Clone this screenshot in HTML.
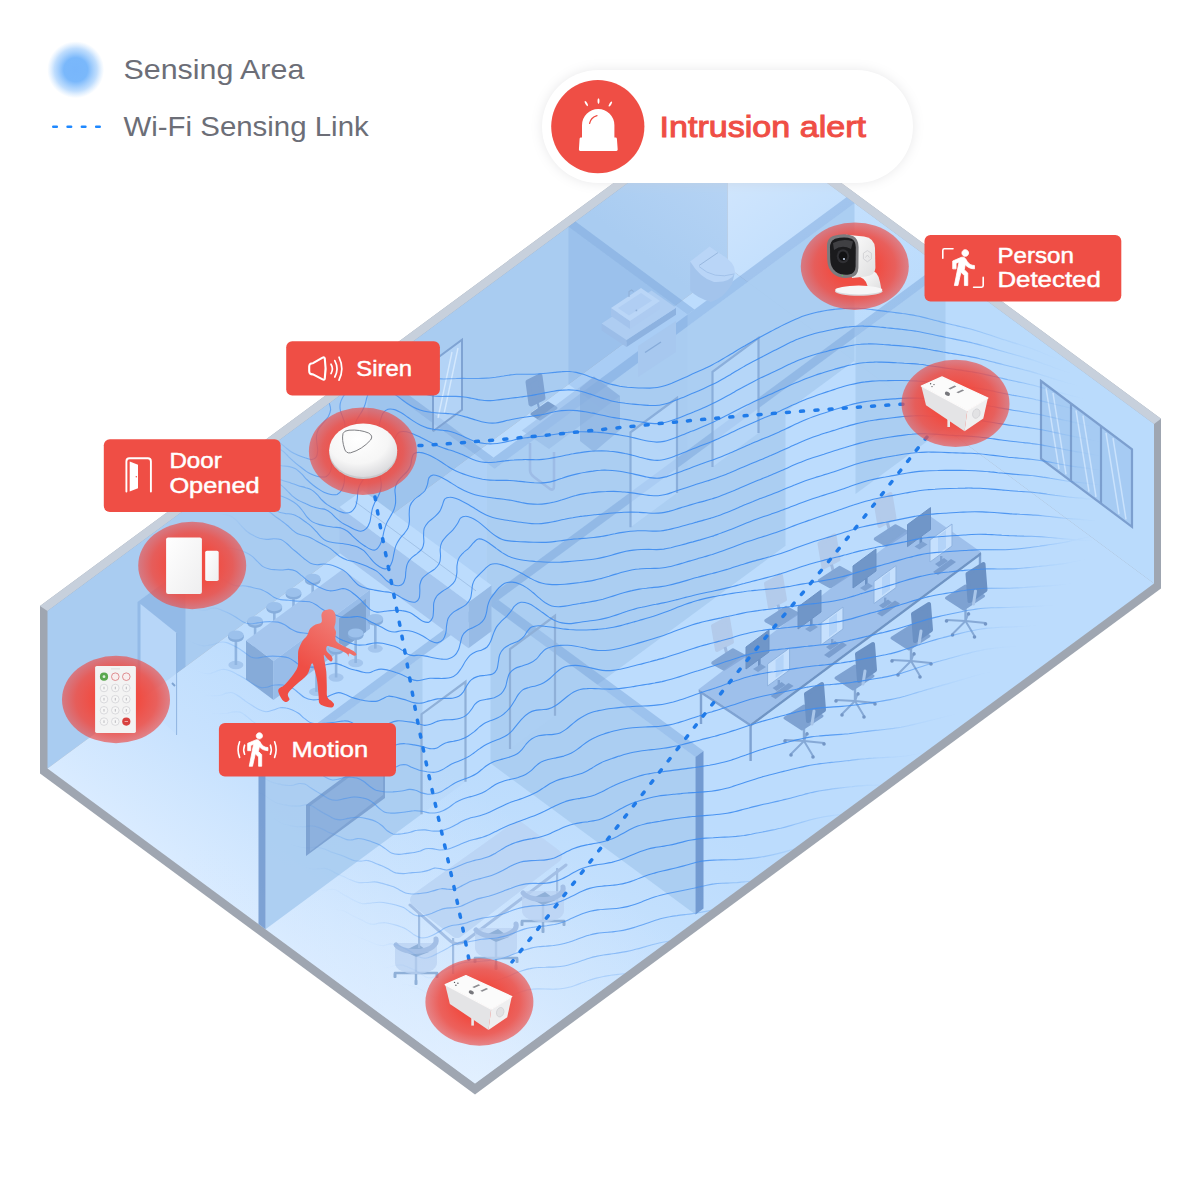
<!DOCTYPE html>
<html lang="en"><head><meta charset="utf-8"><title>Intrusion alert</title>
<style>html,body{margin:0;padding:0;background:#fff}svg{display:block}</style></head><body>
<svg width="1201" height="1201" viewBox="0 0 1201 1201">

<defs>
<radialGradient id="redg" cx="50%" cy="50%" r="50%">
<stop offset="0" stop-color="#f04d43" stop-opacity="1"/>
<stop offset="0.42" stop-color="#f04d43" stop-opacity="1"/>
<stop offset="0.75" stop-color="#ee4e46" stop-opacity="0.88"/>
<stop offset="1" stop-color="#eb504c" stop-opacity="0.66"/>
</radialGradient>
<radialGradient id="legg" cx="50%" cy="50%" r="50%">
<stop offset="0" stop-color="#78b6fb"/>
<stop offset="0.42" stop-color="#7ab8fb"/>
<stop offset="0.75" stop-color="#8cc2fc" stop-opacity="0.55"/>
<stop offset="1" stop-color="#a9d2fd" stop-opacity="0"/>
</radialGradient>
<radialGradient id="domeg" cx="42%" cy="30%" r="75%">
<stop offset="0" stop-color="#ffffff"/>
<stop offset="0.6" stop-color="#f6f6f6"/>
<stop offset="1" stop-color="#d6d6d9"/>
</radialGradient>
<linearGradient id="whiteg" x1="0" y1="0" x2="1" y2="1">
<stop offset="0" stop-color="#ffffff"/>
<stop offset="1" stop-color="#eeeeef"/>
</linearGradient>
<linearGradient id="camside" x1="0" y1="0" x2="1" y2="1">
<stop offset="0" stop-color="#ffffff"/>
<stop offset="1" stop-color="#dededf"/>
</linearGradient>
<linearGradient id="intr" x1="0.7" y1="0" x2="0.35" y2="0.6">
<stop offset="0" stop-color="#f0817b"/>
<stop offset="1" stop-color="#ef4e45"/>
</linearGradient>
<linearGradient id="wallL" gradientUnits="userSpaceOnUse" x1="727" y1="110" x2="560" y2="330">
<stop offset="0" stop-color="#bcd7f6"/><stop offset="0.6" stop-color="#a9ccf1"/><stop offset="1" stop-color="#a9ccf1"/>
</linearGradient>
<linearGradient id="wallR" gradientUnits="userSpaceOnUse" x1="735" y1="120" x2="900" y2="330">
<stop offset="0" stop-color="#d6e8fd"/><stop offset="0.55" stop-color="#c2dffd"/><stop offset="1" stop-color="#badbfc"/>
</linearGradient>
<linearGradient id="floorg" gradientUnits="userSpaceOnUse" x1="261" y1="926" x2="401.9" y2="734.9">
<stop offset="0" stop-color="#d9ebff"/>
<stop offset="0.45" stop-color="#c8e2fe"/>
<stop offset="1" stop-color="#bcdcfd"/>
</linearGradient>
<radialGradient id="floorg2" gradientUnits="userSpaceOnUse" cx="475" cy="1100" r="430" gradientTransform="translate(475 1100) scale(1 0.78) translate(-475 -1100)">
<stop offset="0" stop-color="#e6f2ff" stop-opacity="0.75"/>
<stop offset="0.5" stop-color="#dcecff" stop-opacity="0.38"/>
<stop offset="1" stop-color="#d0e6ff" stop-opacity="0"/>
</radialGradient>
<filter id="pillshadow" x="-20%" y="-40%" width="140%" height="180%">
<feGaussianBlur stdDeviation="6"/>
<feColorMatrix type="matrix" values="0 0 0 0 0.6  0 0 0 0 0.6  0 0 0 0 0.62  0 0 0 0.45 0"/>
</filter>
<clipPath id="inner"><polygon points="47.5,611 727.5,109.5 1154,424 1154,583.5 475,1083.6 47.5,768.5"/></clipPath>
<filter id="mblur" x="-10%" y="-10%" width="120%" height="120%"><feGaussianBlur stdDeviation="24"/></filter>
<mask id="wavemask" maskUnits="userSpaceOnUse" x="0" y="0" width="1201" height="1201">
<rect width="1201" height="1201" fill="#000"/>
<polygon points="300.0,395.0 440.0,368.0 700.0,300.0 800.0,278.0 890.0,292.0 970.0,335.0 1025.0,400.0 1055.0,470.0 1040.0,535.0 995.0,590.0 945.0,640.0 855.0,750.0 715.0,890.0 610.0,970.0 540.0,985.0 450.0,965.0 385.0,900.0 320.0,800.0 262.0,710.0 235.0,640.0 250.0,560.0 292.0,470.0" fill="#fff" filter="url(#mblur)"/>
<polygon points="225,690 400,750 520,880 640,960 600,1020 340,990 200,800" fill="#000" opacity="0.40" filter="url(#mblur)"/>
<polygon points="190,400 325,400 335,560 300,720 190,760" fill="#000" opacity="0.30" filter="url(#mblur)"/>
</mask>
</defs>

<rect width="1201" height="1201" fill="#fff"/>
<g id="building"><polygon points="40.0,606.0 727.5,99.0 1161.0,418.7 1161.0,588.5 475.0,1094.4 40.0,773.5" fill="#9fa6b1" />
<polygon points="40.0,606.0 727.5,99.0 1161.0,418.7 1154.0,424.0 727.5,109.5 47.5,611.0" fill="#c7d0dc" />
<polygon points="47.5,611.0 727.5,109.5 727.5,267.0 47.5,768.5" fill="url(#wallL)" />
<polygon points="727.5,109.5 1154.0,424.0 1154.0,583.5 727.5,267.0" fill="url(#wallR)" />
<polygon points="47.5,768.5 727.5,267.0 1154.0,583.5 475.0,1083.6" fill="url(#floorg)" />
<polygon points="47.5,768.5 727.5,267.0 1154.0,583.5 475.0,1083.6" fill="url(#floorg2)" /></g>
<g id="partitions"><polygon points="568.5,384.3 687.5,472.0 687.5,314.5 568.5,226.8" fill="rgba(105,155,218,0.22)" />
<polygon points="367.5,532.5 486.5,620.3 486.5,462.8 367.5,375.0" fill="rgba(105,155,218,0.16)" />
<path d="M486.5,474.6 L854.5,203.2 L854.5,360.7 L486.5,632.1Z M486.5,462.8 L494.5,468.7 L494.5,626.2 L486.5,620.3Z M265.5,771.8 L422.5,656.0 L422.5,813.5 L265.5,929.3Z M490.5,605.8 L785.5,388.3 L785.5,545.8 L490.5,763.3Z M855.5,336.6 L945.5,270.3 L945.5,427.8 L855.5,494.1Z M490.5,605.8 L695.5,757.0 L695.5,914.5 L490.5,763.3Z " fill="#a9ccf1" fill-rule="nonzero" opacity="0.90"/>
<polygon points="568.5,226.8 687.5,314.5 694.5,309.4 575.5,221.6" fill="rgba(112,158,215,0.42)" />
<polygon points="367.5,375.0 486.5,462.8 493.5,457.6 374.5,369.8" fill="rgba(112,158,215,0.42)" />
<polygon points="486.5,462.8 846.5,197.3 854.5,203.2 494.5,468.7" fill="rgba(112,158,215,0.42)" />
<polygon points="258.5,766.6 938.5,265.1 945.5,270.3 265.5,771.8" fill="rgba(112,158,215,0.42)" />
<polygon points="490.5,605.8 695.5,757.0 703.5,751.1 498.5,599.9" fill="rgba(112,158,215,0.42)" />
<polygon points="695.5,914.5 703.5,908.6 703.5,751.1 695.5,757.0" fill="rgba(95,138,198,0.80)" />
<polygon points="258.5,924.1 265.5,929.3 265.5,771.8 258.5,766.6" fill="rgba(95,138,198,0.75)" /></g>
<g id="bathroom"><polygon points="638.0,346.0 676.0,321.0 676.0,352.0 638.0,377.0" fill="#a7c8ef" />
<line x1="645" y1="352.5" x2="661" y2="342" stroke="#86abd9" stroke-width="1.4"/>
<polygon points="601.7,323.4 626.5,340.0 626.5,347.0 601.7,330.4" fill="#9bbde8" />
<polygon points="626.5,340.0 676.0,307.7 676.0,314.7 626.5,347.0" fill="#8db2e0" />
<polygon points="601.7,323.4 651.5,290.4 676.0,307.7 626.5,340.0" fill="#aecdf2" />
<polygon points="611.0,308.0 630.0,321.0 630.0,329.0 611.0,316.0" fill="#a3c3ec" />
<polygon points="630.0,321.0 660.0,301.0 660.0,309.0 630.0,329.0" fill="#adcbf1" />
<polygon points="611.0,308.0 641.0,288.0 660.0,301.0 630.0,321.0" fill="#bad6f7" />
<polygon points="618.0,308.0 641.0,293.0 652.0,300.5 629.0,315.5" fill="#b0cef3" />
<circle cx="636.4" cy="310.4" r="0.9" fill="#8fb0d8"/>
<path d="M629,297 V291.6 L631.6,290 L633.6,291.6" fill="none" stroke="#8fb0d8" stroke-width="1.1"/>
<path d="M690.2,262 V290.5 Q697,298 711,302 Q724,298 732,284 L735,272 L700,270 Z" fill="#a3c4ec"/>
<path d="M690.2,261.5 L709.6,246.5 L718,252.5 Q736,262 735,273 Q730,283 714,282 Q700,278 690.2,261.5 Z" fill="#b9d5f7"/>
<path d="M699,266.5 Q714,280 734,274" fill="none" stroke="#9cbde6" stroke-width="0.8"/>
<line x1="699.2" y1="265.4" x2="718" y2="252.6" stroke="#8fb0d8" stroke-width="0.8"/></g>
<g id="doors"><polygon points="137.5,702.1 137.5,602.1 185.5,566.7 185.5,666.7" fill="rgba(120,165,220,0.45)" />
<polygon points="140.5,699.9 140.5,603.9 176.6,633.0 176.6,735.0" fill="rgba(195,223,254,0.75)" />
<line x1="176.6" y1="633" x2="176.6" y2="735" stroke="#8fb4e0" stroke-width="1"/>
<line x1="172" y1="683" x2="175" y2="686" stroke="#7fa4d2" stroke-width="2"/>
<polygon points="433.0,431.2 433.0,361.2 462.0,339.8 462.0,409.8" fill="rgba(190,220,253,0.45)" />
<polyline points="433.0,431.2 433.0,361.2 462.0,339.8 462.0,409.8 433.0,431.2" fill="none" stroke="#7fa3d3" stroke-width="2" />
<line x1="438" y1="418" x2="452" y2="352" stroke="rgba(220,238,255,0.8)" stroke-width="1.4"/>
<line x1="444" y1="414" x2="458" y2="348" stroke="rgba(220,238,255,0.8)" stroke-width="1.4"/>
<polygon points="1041.0,381.0 1132.0,449.4 1132.0,526.8 1041.0,458.6" fill="rgba(150,190,235,0.55)" />
<polygon points="1041.0,381.0 1132.0,449.4 1132.0,526.8 1041.0,458.6" fill="none" stroke="#7c9fcf" stroke-width="2.2"/>
<line x1="1071.0" y1="403.5" x2="1071.0" y2="481.1" stroke="#7c9fcf" stroke-width="2.2"/>
<line x1="1101.0" y1="426.1" x2="1101.0" y2="503.6" stroke="#7c9fcf" stroke-width="2.2"/>
<line x1="1046.0" y1="387.8" x2="1059.0" y2="469.1" stroke="rgba(214,234,255,0.75)" stroke-width="1.5"/>
<line x1="1053.0" y1="393.0" x2="1066.0" y2="474.3" stroke="rgba(214,234,255,0.75)" stroke-width="1.5"/>
<line x1="1076.0" y1="410.3" x2="1089.0" y2="491.6" stroke="rgba(214,234,255,0.75)" stroke-width="1.5"/>
<line x1="1083.0" y1="415.6" x2="1096.0" y2="496.8" stroke="rgba(214,234,255,0.75)" stroke-width="1.5"/>
<line x1="1106.0" y1="432.9" x2="1119.0" y2="514.1" stroke="rgba(214,234,255,0.75)" stroke-width="1.5"/>
<line x1="1113.0" y1="438.1" x2="1126.0" y2="519.3" stroke="rgba(214,234,255,0.75)" stroke-width="1.5"/>
<polygon points="712.5,466.9 712.5,371.9 758.5,337.9 758.5,432.9" fill="rgba(190,220,253,0.55)" />
<polyline points="712.5,466.9 712.5,371.9 758.5,337.9 758.5,432.9" fill="none" stroke="#8aaedb" stroke-width="2.2" stroke-linejoin="miter"/>
<polygon points="630.5,527.3 630.5,432.3 677.0,398.0 677.0,493.0" fill="rgba(190,220,253,0.55)" />
<polyline points="630.5,527.3 630.5,432.3 677.0,398.0 677.0,493.0" fill="none" stroke="#8aaedb" stroke-width="2.2" stroke-linejoin="miter"/>
<polygon points="510.0,749.0 510.0,649.0 555.0,615.8 555.0,715.8" fill="rgba(175,208,245,0.30)" />
<polyline points="510.0,749.0 510.0,649.0 555.0,615.8 555.0,715.8" fill="none" stroke="#8fb0d8" stroke-width="2.2" stroke-linejoin="miter"/>
<polygon points="421.5,814.2 421.5,714.2 465.5,681.8 465.5,781.8" fill="rgba(175,208,245,0.25)" />
<polyline points="421.5,814.2 421.5,714.2 465.5,681.8 465.5,781.8" fill="none" stroke="#8fb0d8" stroke-width="2.2" stroke-linejoin="miter"/></g>
<g id="lowcounter"><polygon points="339.5,553.1 468.5,648.3 468.5,602.3 339.5,507.1" fill="#a4c6ef" />
<polygon points="468.5,648.3 491.5,631.3 491.5,585.3 468.5,602.3" fill="#97bbe6" />
<polygon points="339.5,507.1 362.5,490.2 491.5,585.3 468.5,602.3" fill="#bcdcfd" />
<line x1="355.0" y1="501.6" x2="476.0" y2="590.9" stroke="#8fb0d8" stroke-width="0.6"/></g>
<g id="bar"><ellipse cx="235.9" cy="665.0" rx="7.5" ry="4.2" fill="#a4c6ee"/>
<rect x="234.6" y="635.0" width="2.6" height="30.0" fill="#8fb4e0"/>
<ellipse cx="235.9" cy="637.5" rx="7.8" ry="4.6" fill="#86addc"/>
<rect x="228.1" y="635.0" width="15.6" height="2.5" fill="#86addc"/>
<ellipse cx="235.9" cy="635.0" rx="7.8" ry="4.6" fill="#9cc1ec"/>
<ellipse cx="255.1" cy="650.8" rx="7.5" ry="4.2" fill="#a4c6ee"/>
<rect x="253.8" y="620.8" width="2.6" height="30.0" fill="#8fb4e0"/>
<ellipse cx="255.1" cy="623.3" rx="7.8" ry="4.6" fill="#86addc"/>
<rect x="247.3" y="620.8" width="15.6" height="2.5" fill="#86addc"/>
<ellipse cx="255.1" cy="620.8" rx="7.8" ry="4.6" fill="#9cc1ec"/>
<ellipse cx="274.3" cy="636.6" rx="7.5" ry="4.2" fill="#a4c6ee"/>
<rect x="273.0" y="606.6" width="2.6" height="30.0" fill="#8fb4e0"/>
<ellipse cx="274.3" cy="609.1" rx="7.8" ry="4.6" fill="#86addc"/>
<rect x="266.5" y="606.6" width="15.6" height="2.5" fill="#86addc"/>
<ellipse cx="274.3" cy="606.6" rx="7.8" ry="4.6" fill="#9cc1ec"/>
<ellipse cx="293.5" cy="622.5" rx="7.5" ry="4.2" fill="#a4c6ee"/>
<rect x="292.2" y="592.5" width="2.6" height="30.0" fill="#8fb4e0"/>
<ellipse cx="293.5" cy="595.0" rx="7.8" ry="4.6" fill="#86addc"/>
<rect x="285.7" y="592.5" width="15.6" height="2.5" fill="#86addc"/>
<ellipse cx="293.5" cy="592.5" rx="7.8" ry="4.6" fill="#9cc1ec"/>
<ellipse cx="312.7" cy="608.3" rx="7.5" ry="4.2" fill="#a4c6ee"/>
<rect x="311.4" y="578.3" width="2.6" height="30.0" fill="#8fb4e0"/>
<ellipse cx="312.7" cy="580.8" rx="7.8" ry="4.6" fill="#86addc"/>
<rect x="304.9" y="578.3" width="15.6" height="2.5" fill="#86addc"/>
<ellipse cx="312.7" cy="578.3" rx="7.8" ry="4.6" fill="#9cc1ec"/>
<polygon points="246.0,679.6 273.5,699.9 273.5,660.9 246.0,640.6" fill="#86abd9" />
<polygon points="273.5,699.9 370.0,628.7 370.0,589.7 273.5,660.9" fill="#98bce8" />
<polygon points="246.0,640.6 342.5,569.5 370.0,589.7 273.5,660.9" fill="#a5c6ee" />
<polygon points="339.0,651.6 366.0,631.7 366.0,598.7 339.0,618.6" fill="#7fa4d2" />
<ellipse cx="316.5" cy="691.9" rx="7.5" ry="4.2" fill="#a4c6ee"/>
<rect x="315.2" y="661.9" width="2.6" height="30.0" fill="#8fb4e0"/>
<ellipse cx="316.5" cy="664.4" rx="7.8" ry="4.6" fill="#86addc"/>
<rect x="308.7" y="661.9" width="15.6" height="2.5" fill="#86addc"/>
<ellipse cx="316.5" cy="661.9" rx="7.8" ry="4.6" fill="#9cc1ec"/>
<ellipse cx="336.1" cy="677.5" rx="7.5" ry="4.2" fill="#a4c6ee"/>
<rect x="334.8" y="647.5" width="2.6" height="30.0" fill="#8fb4e0"/>
<ellipse cx="336.1" cy="650.0" rx="7.8" ry="4.6" fill="#86addc"/>
<rect x="328.3" y="647.5" width="15.6" height="2.5" fill="#86addc"/>
<ellipse cx="336.1" cy="647.5" rx="7.8" ry="4.6" fill="#9cc1ec"/>
<ellipse cx="355.7" cy="663.0" rx="7.5" ry="4.2" fill="#a4c6ee"/>
<rect x="354.4" y="633.0" width="2.6" height="30.0" fill="#8fb4e0"/>
<ellipse cx="355.7" cy="635.5" rx="7.8" ry="4.6" fill="#86addc"/>
<rect x="347.9" y="633.0" width="15.6" height="2.5" fill="#86addc"/>
<ellipse cx="355.7" cy="633.0" rx="7.8" ry="4.6" fill="#9cc1ec"/>
<ellipse cx="375.3" cy="648.6" rx="7.5" ry="4.2" fill="#a4c6ee"/>
<rect x="374.0" y="618.6" width="2.6" height="30.0" fill="#8fb4e0"/>
<ellipse cx="375.3" cy="621.1" rx="7.8" ry="4.6" fill="#86addc"/>
<rect x="367.5" y="618.6" width="15.6" height="2.5" fill="#86addc"/>
<ellipse cx="375.3" cy="618.6" rx="7.8" ry="4.6" fill="#9cc1ec"/></g>
<g id="reception"><polygon points="528.0,382.0 540.0,376.0 543.0,398.0 531.0,404.0" fill="#7ea2d2" stroke="#7ea2d2" stroke-width="5" stroke-linejoin="round"/>
<line x1="537" y1="400" x2="540" y2="412" stroke="#7ea2d2" stroke-width="2"/>
<polygon points="532.0,414.0 548.0,403.0 556.0,408.0 540.0,419.0" fill="#7b9fce" stroke="#7b9fce" stroke-width="3" stroke-linejoin="round"/>
<polygon points="521.8,430.6 594.0,376.5 620.0,396.0 549.0,449.0" fill="rgba(150,185,230,0.55)" />
<polygon points="594.0,376.5 620.0,396.0 620.0,430.0 594.0,452.0 580.0,441.0 580.0,388.0" fill="rgba(125,165,215,0.45)" />
<path d="M530,443 V470 Q530,474 534,477 L550,489 Q554,491 554,486 V452" fill="none" stroke="#9dbce6" stroke-width="2.6"/></g>
<g id="tv"><polygon points="306.0,805.0 385.0,746.8 385.0,798.0 306.0,856.0" fill="#7ea3d3" /><polygon points="310.0,806.0 383.0,752.5 383.0,795.0 310.0,851.5" fill="#8db1de" /></g>
<g id="conference"><line x1="416.0" y1="957.0" x2="416.0" y2="981.0" stroke="#8fb0d8" stroke-width="2.4"/>
<line x1="395.0" y1="973.0" x2="437.0" y2="973.0" stroke="#8fb0d8" stroke-width="2.6" stroke-linecap="round"/>
<rect x="393.5" y="973.0" width="3" height="5" rx="1" fill="#8fb0d8"/>
<rect x="435.5" y="973.0" width="3" height="5" rx="1" fill="#8fb0d8"/>
<rect x="414.5" y="980.0" width="3" height="5" rx="1" fill="#8fb0d8"/>
<path d="M395.0,943.0 v20 a21,11 0 0 0 42,0 v-20 z" fill="rgba(186,210,242,0.75)"/>
<polygon points="404.0,951.0 418.0,944.0 429.0,952.0 416.0,957.0" fill="#8fb0d8" />
<path d="M396.0,945.0 a21,11 0 0 0 40,-6" fill="none" stroke="#a3bfe6" stroke-width="5" stroke-linecap="round"/>
<rect x="418.0" y="912.0" width="2.2" height="36" fill="#9fbde3"/>
<rect x="452.0" y="938.0" width="2.2" height="36" fill="#9fbde3"/>
<rect x="556.0" y="868.0" width="2.2" height="36" fill="#9fbde3"/>
<polygon points="417.0,900.0 518.0,828.0 555.0,856.0 457.0,931.0" fill="#bbd5f5" stroke="#bbd5f5" stroke-width="14" opacity="0.92" stroke-linejoin="round"/>
<path d="M410,905 L451,941.5 Q458,946.5 466,940.5 L566,865" fill="none" stroke="#a3bfe5" stroke-width="3" stroke-linecap="round"/>
<line x1="496.0" y1="942.0" x2="496.0" y2="966.0" stroke="#8fb0d8" stroke-width="2.4"/>
<line x1="475.0" y1="958.0" x2="517.0" y2="958.0" stroke="#8fb0d8" stroke-width="2.6" stroke-linecap="round"/>
<rect x="473.5" y="958.0" width="3" height="5" rx="1" fill="#8fb0d8"/>
<rect x="515.5" y="958.0" width="3" height="5" rx="1" fill="#8fb0d8"/>
<rect x="494.5" y="965.0" width="3" height="5" rx="1" fill="#8fb0d8"/>
<path d="M475.0,928.0 v20 a21,11 0 0 0 42,0 v-20 z" fill="rgba(186,210,242,0.75)"/>
<polygon points="484.0,936.0 498.0,929.0 509.0,937.0 496.0,942.0" fill="#8fb0d8" />
<path d="M476.0,930.0 a21,11 0 0 0 40,-6" fill="none" stroke="#a3bfe6" stroke-width="5" stroke-linecap="round"/>
<line x1="543.0" y1="905.0" x2="543.0" y2="929.0" stroke="#8fb0d8" stroke-width="2.4"/>
<line x1="522.0" y1="921.0" x2="564.0" y2="921.0" stroke="#8fb0d8" stroke-width="2.6" stroke-linecap="round"/>
<rect x="520.5" y="921.0" width="3" height="5" rx="1" fill="#8fb0d8"/>
<rect x="562.5" y="921.0" width="3" height="5" rx="1" fill="#8fb0d8"/>
<rect x="541.5" y="928.0" width="3" height="5" rx="1" fill="#8fb0d8"/>
<path d="M522.0,891.0 v20 a21,11 0 0 0 42,0 v-20 z" fill="rgba(186,210,242,0.75)"/>
<polygon points="531.0,899.0 545.0,892.0 556.0,900.0 543.0,905.0" fill="#8fb0d8" />
<path d="M523.0,893.0 a21,11 0 0 0 40,-6" fill="none" stroke="#a3bfe6" stroke-width="5" stroke-linecap="round"/></g>
<g id="office"><polygon points="713.0,626.0 728.0,618.0 732.0,642.0 717.0,650.0" fill="#b3cbeb" stroke="#b3cbeb" stroke-width="4" stroke-linejoin="round"/>
<line x1="725.0" y1="647.0" x2="728.0" y2="658.0" stroke="#9db9e0" stroke-width="3"/>
<polygon points="713.0,663.0 733.0,650.0 744.0,656.0 724.0,669.0" fill="#82a6d5" stroke="#82a6d5" stroke-width="3.5" stroke-linejoin="round"/>
<polygon points="766.0,583.6 781.0,575.6 785.0,599.6 770.0,607.6" fill="#b3cbeb" stroke="#b3cbeb" stroke-width="4" stroke-linejoin="round"/>
<line x1="778.0" y1="604.6" x2="781.0" y2="615.6" stroke="#9db9e0" stroke-width="3"/>
<polygon points="766.0,620.6 786.0,607.6 797.0,613.6 777.0,626.6" fill="#82a6d5" stroke="#82a6d5" stroke-width="3.5" stroke-linejoin="round"/>
<polygon points="819.5,543.6 834.5,535.6 838.5,559.6 823.5,567.6" fill="#b3cbeb" stroke="#b3cbeb" stroke-width="4" stroke-linejoin="round"/>
<line x1="831.5" y1="564.6" x2="834.5" y2="575.6" stroke="#9db9e0" stroke-width="3"/>
<polygon points="819.5,580.6 839.5,567.6 850.5,573.6 830.5,586.6" fill="#82a6d5" stroke="#82a6d5" stroke-width="3.5" stroke-linejoin="round"/>
<polygon points="875.5,502.0 890.5,494.0 894.5,518.0 879.5,526.0" fill="#b3cbeb" stroke="#b3cbeb" stroke-width="4" stroke-linejoin="round"/>
<line x1="887.5" y1="523.0" x2="890.5" y2="534.0" stroke="#9db9e0" stroke-width="3"/>
<polygon points="875.5,539.0 895.5,526.0 906.5,532.0 886.5,545.0" fill="#82a6d5" stroke="#82a6d5" stroke-width="3.5" stroke-linejoin="round"/>
<rect x="699.8" y="691.0" width="2.4" height="33" fill="#7ea2d2"/>
<rect x="749.4" y="725.0" width="2.4" height="36" fill="#7ea2d2"/>
<rect x="978.8" y="553.0" width="2.4" height="30" fill="#7ea2d2"/>
<polygon points="698.7,689.2 927.8,514.6 981.0,552.0 750.6,723.8" fill="rgba(140,175,225,0.62)" />
<polygon points="750.6,723.8 981.0,552.0 981.0,555.0 750.6,726.8" fill="#6f94c4" />
<polygon points="698.7,689.2 750.6,723.8 750.6,726.8 698.7,692.2" fill="#7fa3d3" />
<polygon points="746.0,647.0 769.0,630.0 769.0,652.0 746.0,669.0" fill="#7096c8" stroke="#6b91c4" stroke-width="1"/>
<rect x="758.0" y="659.0" width="2.6" height="9" fill="#6b91c4"/>
<polygon points="753.0,669.0 761.0,664.0 766.0,667.0 758.0,672.0" fill="#7ea2d2" />
<polygon points="798.0,607.0 821.0,590.0 821.0,612.0 798.0,629.0" fill="#7096c8" stroke="#6b91c4" stroke-width="1"/>
<rect x="810.0" y="619.0" width="2.6" height="9" fill="#6b91c4"/>
<polygon points="805.0,629.0 813.0,624.0 818.0,627.0 810.0,632.0" fill="#7ea2d2" />
<polygon points="853.0,566.0 876.0,549.0 876.0,571.0 853.0,588.0" fill="#7096c8" stroke="#6b91c4" stroke-width="1"/>
<rect x="865.0" y="578.0" width="2.6" height="9" fill="#6b91c4"/>
<polygon points="860.0,588.0 868.0,583.0 873.0,586.0 865.0,591.0" fill="#7ea2d2" />
<polygon points="907.5,524.6 930.5,507.6 930.5,529.6 907.5,546.6" fill="#7096c8" stroke="#6b91c4" stroke-width="1"/>
<rect x="919.5" y="536.6" width="2.6" height="9" fill="#6b91c4"/>
<polygon points="914.5,546.6 922.5,541.6 927.5,544.6 919.5,549.6" fill="#7ea2d2" />
<polygon points="767.6,664.0 789.6,648.0 789.6,670.0 767.6,686.0" fill="#c6e0fd" stroke="#8fb3e0" stroke-width="1"/>
<polygon points="775.6,660.0 783.6,654.0 783.6,672.0 775.6,678.0" fill="#b3d3f8" />
<rect x="777.6" y="680.0" width="2.4" height="6" fill="#7ea2d2"/>
<polygon points="772.6,688.0 781.6,682.0 785.6,685.0 776.6,691.0" fill="#7a9ecf" />
<polygon points="770.6,696.0 788.6,683.0 793.6,686.0 775.6,699.0" fill="#7a9ecf" />
<polygon points="821.0,623.0 843.0,607.0 843.0,629.0 821.0,645.0" fill="#c6e0fd" stroke="#8fb3e0" stroke-width="1"/>
<polygon points="829.0,619.0 837.0,613.0 837.0,631.0 829.0,637.0" fill="#b3d3f8" />
<rect x="831.0" y="639.0" width="2.4" height="6" fill="#7ea2d2"/>
<polygon points="826.0,647.0 835.0,641.0 839.0,644.0 830.0,650.0" fill="#7a9ecf" />
<polygon points="824.0,655.0 842.0,642.0 847.0,645.0 829.0,658.0" fill="#7a9ecf" />
<polygon points="874.0,581.6 896.0,565.6 896.0,587.6 874.0,603.6" fill="#c6e0fd" stroke="#8fb3e0" stroke-width="1"/>
<polygon points="882.0,577.6 890.0,571.6 890.0,589.6 882.0,595.6" fill="#b3d3f8" />
<rect x="884.0" y="597.6" width="2.4" height="6" fill="#7ea2d2"/>
<polygon points="879.0,605.6 888.0,599.6 892.0,602.6 883.0,608.6" fill="#7a9ecf" />
<polygon points="877.0,613.6 895.0,600.6 900.0,603.6 882.0,616.6" fill="#7a9ecf" />
<polygon points="930.0,540.0 952.0,524.0 952.0,546.0 930.0,562.0" fill="#c6e0fd" stroke="#8fb3e0" stroke-width="1"/>
<polygon points="938.0,536.0 946.0,530.0 946.0,548.0 938.0,554.0" fill="#b3d3f8" />
<rect x="940.0" y="556.0" width="2.4" height="6" fill="#7ea2d2"/>
<polygon points="935.0,564.0 944.0,558.0 948.0,561.0 939.0,567.0" fill="#7a9ecf" />
<polygon points="933.0,572.0 951.0,559.0 956.0,562.0 938.0,575.0" fill="#7a9ecf" />
<line x1="804.0" y1="741.0" x2="785.0" y2="740.0" stroke="#86a9d6" stroke-width="2" stroke-linecap="round"/>
<circle cx="785.0" cy="741.0" r="1.8" fill="#7396c6"/>
<line x1="804.0" y1="741.0" x2="791.0" y2="754.0" stroke="#86a9d6" stroke-width="2" stroke-linecap="round"/>
<circle cx="791.0" cy="755.0" r="1.8" fill="#7396c6"/>
<line x1="804.0" y1="741.0" x2="813.0" y2="756.0" stroke="#86a9d6" stroke-width="2" stroke-linecap="round"/>
<circle cx="813.0" cy="757.0" r="1.8" fill="#7396c6"/>
<line x1="804.0" y1="741.0" x2="824.0" y2="743.0" stroke="#86a9d6" stroke-width="2" stroke-linecap="round"/>
<circle cx="824.0" cy="744.0" r="1.8" fill="#7396c6"/>
<line x1="804.0" y1="741.0" x2="807.0" y2="733.0" stroke="#86a9d6" stroke-width="2" stroke-linecap="round"/>
<circle cx="807.0" cy="734.0" r="1.8" fill="#7396c6"/>
<line x1="804.0" y1="741.0" x2="804.0" y2="725.0" stroke="#86a9d6" stroke-width="2.4"/>
<polygon points="785.0,718.0 804.0,706.0 822.0,716.0 802.0,729.0" fill="#7ea2d2" stroke="#7ea2d2" stroke-width="3" stroke-linejoin="round"/>
<polygon points="806.0,694.0 822.0,684.0 824.0,710.0 808.0,721.0" fill="#6b91c4" stroke="#6b91c4" stroke-width="4" stroke-linejoin="round"/>
<line x1="814.0" y1="711.0" x2="812.0" y2="724.0" stroke="#a9c6ea" stroke-width="3" stroke-linecap="round"/>
<line x1="855.0" y1="701.0" x2="836.0" y2="700.0" stroke="#86a9d6" stroke-width="2" stroke-linecap="round"/>
<circle cx="836.0" cy="701.0" r="1.8" fill="#7396c6"/>
<line x1="855.0" y1="701.0" x2="842.0" y2="714.0" stroke="#86a9d6" stroke-width="2" stroke-linecap="round"/>
<circle cx="842.0" cy="715.0" r="1.8" fill="#7396c6"/>
<line x1="855.0" y1="701.0" x2="864.0" y2="716.0" stroke="#86a9d6" stroke-width="2" stroke-linecap="round"/>
<circle cx="864.0" cy="717.0" r="1.8" fill="#7396c6"/>
<line x1="855.0" y1="701.0" x2="875.0" y2="703.0" stroke="#86a9d6" stroke-width="2" stroke-linecap="round"/>
<circle cx="875.0" cy="704.0" r="1.8" fill="#7396c6"/>
<line x1="855.0" y1="701.0" x2="858.0" y2="693.0" stroke="#86a9d6" stroke-width="2" stroke-linecap="round"/>
<circle cx="858.0" cy="694.0" r="1.8" fill="#7396c6"/>
<line x1="855.0" y1="701.0" x2="855.0" y2="685.0" stroke="#86a9d6" stroke-width="2.4"/>
<polygon points="836.0,678.0 855.0,666.0 873.0,676.0 853.0,689.0" fill="#7ea2d2" stroke="#7ea2d2" stroke-width="3" stroke-linejoin="round"/>
<polygon points="857.0,654.0 873.0,644.0 875.0,670.0 859.0,681.0" fill="#6b91c4" stroke="#6b91c4" stroke-width="4" stroke-linejoin="round"/>
<line x1="865.0" y1="671.0" x2="863.0" y2="684.0" stroke="#a9c6ea" stroke-width="3" stroke-linecap="round"/>
<line x1="911.0" y1="661.0" x2="892.0" y2="660.0" stroke="#86a9d6" stroke-width="2" stroke-linecap="round"/>
<circle cx="892.0" cy="661.0" r="1.8" fill="#7396c6"/>
<line x1="911.0" y1="661.0" x2="898.0" y2="674.0" stroke="#86a9d6" stroke-width="2" stroke-linecap="round"/>
<circle cx="898.0" cy="675.0" r="1.8" fill="#7396c6"/>
<line x1="911.0" y1="661.0" x2="920.0" y2="676.0" stroke="#86a9d6" stroke-width="2" stroke-linecap="round"/>
<circle cx="920.0" cy="677.0" r="1.8" fill="#7396c6"/>
<line x1="911.0" y1="661.0" x2="931.0" y2="663.0" stroke="#86a9d6" stroke-width="2" stroke-linecap="round"/>
<circle cx="931.0" cy="664.0" r="1.8" fill="#7396c6"/>
<line x1="911.0" y1="661.0" x2="914.0" y2="653.0" stroke="#86a9d6" stroke-width="2" stroke-linecap="round"/>
<circle cx="914.0" cy="654.0" r="1.8" fill="#7396c6"/>
<line x1="911.0" y1="661.0" x2="911.0" y2="645.0" stroke="#86a9d6" stroke-width="2.4"/>
<polygon points="892.0,638.0 911.0,626.0 929.0,636.0 909.0,649.0" fill="#7ea2d2" stroke="#7ea2d2" stroke-width="3" stroke-linejoin="round"/>
<polygon points="913.0,614.0 929.0,604.0 931.0,630.0 915.0,641.0" fill="#6b91c4" stroke="#6b91c4" stroke-width="4" stroke-linejoin="round"/>
<line x1="921.0" y1="631.0" x2="919.0" y2="644.0" stroke="#a9c6ea" stroke-width="3" stroke-linecap="round"/>
<line x1="965.5" y1="621.0" x2="946.5" y2="620.0" stroke="#86a9d6" stroke-width="2" stroke-linecap="round"/>
<circle cx="946.5" cy="621.0" r="1.8" fill="#7396c6"/>
<line x1="965.5" y1="621.0" x2="952.5" y2="634.0" stroke="#86a9d6" stroke-width="2" stroke-linecap="round"/>
<circle cx="952.5" cy="635.0" r="1.8" fill="#7396c6"/>
<line x1="965.5" y1="621.0" x2="974.5" y2="636.0" stroke="#86a9d6" stroke-width="2" stroke-linecap="round"/>
<circle cx="974.5" cy="637.0" r="1.8" fill="#7396c6"/>
<line x1="965.5" y1="621.0" x2="985.5" y2="623.0" stroke="#86a9d6" stroke-width="2" stroke-linecap="round"/>
<circle cx="985.5" cy="624.0" r="1.8" fill="#7396c6"/>
<line x1="965.5" y1="621.0" x2="968.5" y2="613.0" stroke="#86a9d6" stroke-width="2" stroke-linecap="round"/>
<circle cx="968.5" cy="614.0" r="1.8" fill="#7396c6"/>
<line x1="965.5" y1="621.0" x2="965.5" y2="605.0" stroke="#86a9d6" stroke-width="2.4"/>
<polygon points="946.5,598.0 965.5,586.0 983.5,596.0 963.5,609.0" fill="#7ea2d2" stroke="#7ea2d2" stroke-width="3" stroke-linejoin="round"/>
<polygon points="967.5,574.0 983.5,564.0 985.5,590.0 969.5,601.0" fill="#6b91c4" stroke="#6b91c4" stroke-width="4" stroke-linejoin="round"/>
<line x1="975.5" y1="591.0" x2="973.5" y2="604.0" stroke="#a9c6ea" stroke-width="3" stroke-linecap="round"/></g>
<g id="waves"><g clip-path="url(#inner)"><g mask="url(#wavemask)" fill="none" stroke="#3f8df0" stroke-width="1.1" stroke-linecap="round" opacity="0.92">
<path d="M151.7,368.0C152.5,368.4 154.5,369.4 156.2,370.3C158.0,371.2 160.2,372.2 162.2,373.5C164.2,374.8 166.2,376.2 168.1,378.0C170.0,379.7 171.8,381.9 173.5,384.0C175.3,386.1 177.0,388.5 178.7,390.4C180.4,392.2 182.1,393.9 183.9,395.1C185.7,396.3 187.5,396.8 189.6,397.6C191.6,398.3 193.8,398.9 196.1,399.4C198.5,400.0 201.0,400.3 203.6,400.8C206.1,401.2 208.9,401.3 211.3,402.0C213.6,402.8 215.5,404.0 217.4,405.4C219.3,406.9 220.6,408.8 222.4,410.5C224.2,412.2 226.0,414.0 228.2,415.6C230.3,417.2 233.0,418.6 235.5,420.1C238.0,421.5 240.7,423.0 243.3,424.3C245.9,425.6 248.5,427.0 251.0,427.7C253.5,428.5 256.1,428.5 258.3,428.9C260.5,429.3 262.6,429.4 264.4,430.2C266.3,431.0 267.8,432.4 269.5,433.8C271.1,435.1 272.6,436.8 274.3,438.2C275.9,439.7 277.7,441.0 279.5,442.4C281.2,443.8 283.1,445.4 284.9,446.9C286.8,448.4 288.6,450.2 290.7,451.5C292.8,452.9 295.1,454.0 297.5,455.0C299.9,456.0 302.6,456.9 305.0,457.7C307.4,458.4 309.9,459.7 311.8,459.5C313.7,459.4 315.3,458.5 316.3,456.9C317.3,455.4 317.6,452.7 317.7,450.4C317.8,448.1 317.1,445.6 316.9,443.2C316.7,440.8 316.2,438.4 316.5,436.0C316.7,433.7 317.3,431.5 318.4,429.3C319.5,427.2 321.3,425.2 323.0,423.1C324.6,421.0 326.9,418.9 328.2,416.7C329.4,414.5 330.4,412.2 330.6,409.9C330.8,407.6 329.9,405.3 329.3,403.1C328.6,400.8 327.2,398.7 326.6,396.4C325.9,394.1 325.2,391.7 325.3,389.3C325.3,386.9 325.9,384.5 326.7,382.2C327.6,379.8 329.1,377.6 330.3,375.3C331.5,373.0 333.0,370.8 333.9,368.4C334.8,366.0 335.3,363.4 335.7,360.9C336.1,358.4 335.9,355.6 336.3,353.2C336.7,350.8 337.0,348.2 338.1,346.6C339.1,345.0 340.7,343.9 342.5,343.7C344.2,343.6 346.4,344.6 348.5,345.5C350.6,346.4 352.8,348.1 355.0,349.4C357.2,350.8 359.4,352.4 361.6,353.7C363.8,355.0 366.1,356.3 368.4,357.3C370.8,358.3 373.1,359.2 375.6,359.8C378.1,360.4 380.6,360.7 383.2,361.0C385.8,361.3 388.5,361.2 391.1,361.5C393.8,361.8 396.4,362.2 398.9,362.8C401.4,363.5 403.8,364.4 406.2,365.4C408.6,366.5 410.9,367.8 413.3,369.0C415.6,370.3 417.8,371.7 420.2,372.9C422.5,374.1 424.8,375.2 427.1,376.1C429.5,377.0 431.9,377.7 434.3,378.1C436.7,378.6 439.2,378.8 441.7,378.9C444.1,379.0 446.6,378.9 449.1,378.8C451.5,378.7 453.9,378.5 456.3,378.5C458.6,378.4 460.9,378.4 463.3,378.4C465.6,378.4 467.9,378.5 470.4,378.5C472.9,378.5 475.4,378.6 478.2,378.5C480.9,378.5 483.8,378.3 486.7,378.1C489.6,377.9 492.8,377.5 495.6,377.2C498.4,376.8 501.3,376.3 503.7,376.0C506.2,375.6 508.4,375.2 510.5,374.9C512.6,374.7 514.3,374.5 516.2,374.3C518.2,374.2 520.0,374.2 522.2,374.2C524.4,374.2 526.8,374.3 529.4,374.2C531.9,374.2 534.9,374.2 537.7,374.0C540.5,373.8 543.6,373.6 546.4,373.3C549.2,373.0 552.0,372.7 554.7,372.4C557.3,372.1 559.8,371.7 562.2,371.6C564.7,371.4 567.0,371.4 569.3,371.5C571.6,371.7 573.9,372.0 576.2,372.4C578.6,372.9 580.9,373.6 583.3,374.3C585.7,375.1 588.1,376.0 590.6,376.9C593.0,377.8 595.5,378.8 597.9,379.7C600.4,380.6 602.8,381.6 605.2,382.4C607.7,383.2 610.1,384.0 612.6,384.6C615.0,385.2 617.5,385.7 619.9,386.2C622.4,386.6 624.8,386.9 627.3,387.2C629.7,387.4 632.2,387.6 634.7,387.7C637.1,387.9 639.6,388.0 642.1,388.0C644.6,388.1 647.1,388.1 649.6,388.1C652.1,388.0 654.7,387.9 657.2,387.5C659.7,387.2 662.2,386.6 664.6,385.8C667.0,385.1 669.4,384.1 671.7,383.2C674.0,382.2 676.3,381.2 678.6,380.2C680.9,379.2 683.1,378.2 685.4,377.2C687.7,376.2 689.9,375.1 692.2,374.1C694.5,373.1 696.8,372.1 699.1,371.1C701.4,370.1 703.6,369.1 705.8,368.0C708.1,366.9 710.3,365.9 712.4,364.7C714.6,363.6 716.7,362.4 718.9,361.2C721.0,360.0 723.2,358.7 725.3,357.4C727.5,356.1 729.7,354.8 731.9,353.5C734.0,352.2 736.2,350.8 738.4,349.5C740.6,348.2 742.8,346.9 745.0,345.7C747.2,344.4 749.3,343.2 751.5,342.0C753.7,340.7 755.8,339.5 758.0,338.4C760.2,337.2 762.3,336.0 764.5,334.8C766.7,333.7 768.9,332.5 771.1,331.3C773.4,330.1 775.6,328.9 777.9,327.8C780.1,326.6 782.4,325.4 784.7,324.3C787.0,323.1 789.3,322.0 791.7,320.9C794.0,319.8 796.4,318.8 798.7,317.9C801.1,316.9 803.4,316.1 805.8,315.3C808.1,314.5 810.5,313.8 812.9,313.2C815.2,312.6 817.6,312.0 820.0,311.6C822.5,311.1 824.9,310.7 827.4,310.3C829.9,309.9 832.5,309.6 835.0,309.3C837.5,309.0 840.1,308.7 842.7,308.6C845.2,308.4 847.8,308.3 850.3,308.2C852.8,308.2 855.3,308.2 857.8,308.3C860.2,308.4 862.7,308.6 865.1,308.8C867.5,309.1 870.0,309.3 872.4,309.6C874.8,309.9 877.3,310.3 879.7,310.6C882.2,310.9 884.7,311.2 887.2,311.6C889.7,311.9 892.2,312.2 894.7,312.5C897.2,312.8 899.8,313.1 902.3,313.5C904.8,313.8 907.3,314.2 909.9,314.6C912.4,315.0 914.9,315.5 917.3,316.0C919.8,316.5 922.3,317.1 924.7,317.6C927.2,318.2 929.6,318.9 932.0,319.5C934.4,320.1 936.9,320.8 939.3,321.4C941.7,322.0 944.1,322.7 946.5,323.3C948.9,323.9 951.3,324.4 953.8,325.0C956.2,325.6 958.6,326.1 961.0,326.7C963.4,327.3 965.9,327.9 968.3,328.5C970.7,329.1 973.1,329.8 975.6,330.5C978.0,331.2 980.4,331.9 982.8,332.7C985.2,333.4 987.6,334.2 990.0,335.0C992.4,335.8 994.8,336.7 997.2,337.5C999.6,338.3 1002.0,339.0 1004.4,339.8C1006.7,340.6 1009.1,341.3 1011.5,342.1C1013.9,342.8 1016.3,343.5 1018.7,344.3C1021.0,345.0 1023.4,345.8 1025.8,346.6C1028.2,347.4 1030.6,348.2 1032.9,349.1C1035.3,350.0 1037.6,350.9 1040.0,351.8C1042.4,352.8 1044.7,353.7 1047.0,354.7C1049.4,355.7 1051.7,356.7 1054.1,357.7C1056.4,358.6 1058.7,359.6 1061.0,360.5C1063.4,361.4 1065.7,362.3 1068.0,363.2C1070.3,364.1 1072.7,364.9 1075.0,365.8C1077.3,366.6 1079.6,367.4 1081.9,368.3C1084.3,369.2 1086.6,370.0 1088.9,371.0C1091.2,371.9 1093.5,372.9 1095.8,373.9C1098.1,374.9 1100.4,376.0 1102.7,377.1C1105.0,378.2 1107.3,379.4 1109.6,380.5C1111.8,381.7 1114.1,382.9 1116.4,384.0C1118.7,385.1 1120.9,386.2 1123.2,387.3C1125.5,388.4 1127.7,389.4 1130.0,390.4C1132.2,391.4 1134.5,392.4 1136.8,393.4C1139.0,394.3 1141.3,395.3 1143.6,396.3C1145.8,397.2 1148.1,398.2 1150.4,399.2C1152.6,400.3 1155.1,401.4 1157.0,402.3C1159.0,403.3 1161.2,404.4 1162.1,404.9"/>
<path d="M154.2,386.5C155.2,386.4 158.2,385.7 160.3,385.6C162.4,385.5 164.9,385.2 167.0,385.8C169.1,386.4 171.1,387.9 173.0,389.3C175.0,390.8 176.8,392.7 178.7,394.5C180.5,396.3 182.3,398.1 184.0,400.0C185.7,401.9 187.3,403.9 188.9,405.9C190.5,407.8 192.0,410.0 193.6,411.6C195.2,413.1 196.8,414.6 198.5,415.3C200.2,416.1 202.0,415.9 203.9,416.1C205.9,416.3 208.0,416.1 210.4,416.4C212.7,416.6 215.2,417.1 217.8,417.7C220.4,418.2 223.3,418.7 225.8,419.8C228.3,420.9 230.7,422.5 232.8,424.2C234.8,426.0 236.3,428.3 238.1,430.4C239.8,432.5 241.3,434.8 243.3,436.7C245.2,438.6 247.4,440.2 249.6,441.7C251.9,443.1 254.4,444.2 256.8,445.1C259.2,446.1 261.6,447.0 263.9,447.5C266.3,447.9 268.8,447.6 271.1,447.7C273.4,447.8 275.6,447.4 277.6,448.0C279.6,448.7 281.4,450.0 283.2,451.4C285.0,452.8 286.6,454.8 288.4,456.6C290.2,458.3 292.2,460.1 294.2,461.8C296.1,463.5 298.3,465.2 300.3,466.8C302.4,468.5 304.5,470.2 306.6,471.6C308.8,473.0 311.0,474.1 313.3,475.0C315.6,475.9 318.1,476.6 320.3,476.9C322.5,477.1 324.7,477.4 326.4,476.5C328.1,475.6 329.6,473.5 330.5,471.4C331.4,469.4 331.6,466.6 331.7,464.1C331.9,461.7 331.4,459.1 331.4,456.7C331.4,454.2 331.4,451.7 331.9,449.4C332.5,447.1 333.6,444.9 334.9,442.7C336.2,440.6 338.3,438.7 339.9,436.7C341.4,434.6 343.4,432.6 344.2,430.4C345.0,428.2 345.1,425.8 344.9,423.5C344.6,421.3 343.3,419.1 342.6,416.8C341.8,414.6 340.7,412.4 340.3,410.1C339.9,407.9 339.9,405.5 340.3,403.4C340.7,401.2 341.8,399.1 342.9,397.1C343.9,395.1 345.5,393.3 346.6,391.2C347.7,389.2 348.8,387.0 349.5,384.8C350.2,382.5 350.3,380.0 350.8,377.7C351.3,375.4 351.4,372.8 352.4,371.1C353.3,369.5 354.8,368.1 356.5,367.7C358.3,367.2 360.7,367.9 362.9,368.3C365.1,368.8 367.6,369.8 369.8,370.6C372.1,371.3 374.4,372.1 376.6,372.9C378.9,373.7 381.1,374.5 383.3,375.4C385.4,376.2 387.6,377.1 389.8,377.9C392.0,378.8 394.1,379.7 396.4,380.7C398.6,381.6 400.9,382.5 403.2,383.6C405.5,384.6 407.9,385.8 410.2,387.0C412.6,388.2 414.9,389.6 417.3,390.7C419.6,391.8 422.0,393.0 424.4,393.8C426.9,394.7 429.3,395.3 431.9,395.7C434.4,396.2 437.0,396.3 439.6,396.4C442.3,396.5 445.0,396.4 447.7,396.4C450.4,396.4 453.2,396.3 455.9,396.4C458.6,396.5 461.4,396.7 464.0,397.0C466.6,397.3 469.1,397.8 471.5,398.2C473.8,398.6 476.0,399.2 478.1,399.6C480.3,399.9 482.2,400.3 484.3,400.5C486.4,400.7 488.4,400.7 490.7,400.6C493.1,400.5 495.5,400.2 498.2,399.9C500.9,399.6 503.9,399.2 506.7,398.8C509.6,398.4 512.7,398.0 515.5,397.6C518.2,397.3 520.9,396.9 523.3,396.6C525.7,396.3 527.8,396.0 529.9,395.7C532.0,395.4 533.9,395.0 536.0,394.6C538.1,394.2 540.3,393.8 542.7,393.3C545.1,392.8 547.8,392.2 550.5,391.7C553.3,391.3 556.2,390.7 559.1,390.4C561.9,390.1 564.8,389.9 567.5,389.9C570.3,389.8 572.9,390.0 575.5,390.3C578.0,390.6 580.4,391.2 582.8,391.8C585.2,392.4 587.4,393.1 589.7,393.9C592.1,394.6 594.3,395.5 596.6,396.3C598.9,397.1 601.2,397.9 603.6,398.6C605.9,399.4 608.3,400.1 610.7,400.7C613.0,401.3 615.5,401.7 617.9,402.2C620.4,402.6 622.9,402.9 625.4,403.3C627.9,403.6 630.4,403.8 632.9,404.1C635.4,404.4 638.0,404.6 640.5,404.8C643.0,405.1 645.5,405.3 648.0,405.4C650.5,405.5 653.0,405.7 655.4,405.5C657.9,405.4 660.4,405.1 662.8,404.5C665.2,404.0 667.7,403.2 670.1,402.4C672.5,401.6 674.9,400.6 677.2,399.7C679.6,398.8 681.9,397.8 684.2,396.9C686.4,396.0 688.7,395.0 690.9,394.1C693.2,393.1 695.4,392.2 697.6,391.2C699.9,390.2 702.1,389.3 704.4,388.2C706.7,387.2 709.0,386.2 711.2,385.1C713.5,384.0 715.8,382.9 718.0,381.7C720.2,380.5 722.4,379.3 724.6,378.0C726.8,376.8 728.9,375.5 731.1,374.2C733.2,372.9 735.4,371.5 737.6,370.3C739.8,369.0 742.0,367.7 744.2,366.4C746.4,365.2 748.6,363.9 750.8,362.7C753.1,361.5 755.3,360.4 757.5,359.2C759.7,358.0 762.0,356.9 764.2,355.7C766.4,354.6 768.6,353.5 770.9,352.3C773.1,351.2 775.3,350.0 777.5,348.9C779.8,347.7 782.0,346.6 784.3,345.4C786.5,344.3 788.8,343.2 791.1,342.1C793.4,341.1 795.7,340.0 798.1,339.1C800.4,338.1 802.8,337.3 805.2,336.4C807.6,335.6 810.0,334.9 812.4,334.2C814.9,333.5 817.3,332.9 819.6,332.3C822.0,331.7 824.4,331.2 826.8,330.7C829.2,330.2 831.6,329.7 834.0,329.2C836.4,328.8 838.8,328.3 841.3,327.9C843.8,327.5 846.3,327.1 848.9,326.9C851.4,326.6 854.0,326.3 856.5,326.2C859.1,326.1 861.6,326.0 864.1,326.1C866.7,326.1 869.2,326.2 871.7,326.4C874.1,326.6 876.6,326.8 879.1,327.0C881.5,327.3 883.9,327.5 886.4,327.8C888.8,328.0 891.3,328.3 893.7,328.5C896.2,328.8 898.7,329.0 901.2,329.3C903.6,329.6 906.2,329.9 908.7,330.2C911.2,330.5 913.7,330.9 916.3,331.3C918.8,331.7 921.3,332.2 923.8,332.7C926.3,333.2 928.8,333.7 931.3,334.2C933.8,334.8 936.3,335.3 938.7,335.9C941.2,336.4 943.6,336.9 946.0,337.5C948.4,338.0 950.8,338.5 953.2,338.9C955.7,339.4 958.1,339.9 960.5,340.4C962.9,340.9 965.3,341.3 967.8,341.9C970.2,342.4 972.6,343.0 975.1,343.6C977.5,344.2 980.0,344.8 982.4,345.5C984.9,346.1 987.3,346.8 989.8,347.6C992.2,348.3 994.6,349.0 997.1,349.7C999.5,350.4 1001.9,351.1 1004.3,351.8C1006.7,352.5 1009.1,353.2 1011.5,353.8C1013.9,354.5 1016.3,355.1 1018.7,355.8C1021.1,356.5 1023.5,357.1 1025.8,357.9C1028.2,358.6 1030.6,359.3 1033.0,360.1C1035.4,360.9 1037.8,361.7 1040.2,362.5C1042.5,363.4 1044.9,364.3 1047.3,365.1C1049.7,366.0 1052.1,366.9 1054.5,367.8C1056.9,368.6 1059.2,369.5 1061.6,370.3C1064.0,371.1 1066.4,371.9 1068.8,372.6C1071.1,373.4 1073.5,374.1 1075.9,374.9C1078.2,375.6 1080.6,376.4 1082.9,377.2C1085.3,378.0 1087.6,378.8 1090.0,379.6C1092.3,380.5 1094.6,381.4 1097.0,382.4C1099.3,383.4 1101.6,384.4 1104.0,385.4C1106.3,386.4 1108.6,387.5 1110.9,388.6C1113.2,389.6 1115.5,390.7 1117.8,391.7C1120.1,392.7 1122.4,393.7 1124.7,394.6C1127.0,395.6 1129.3,396.4 1131.6,397.3C1133.9,398.2 1136.2,399.0 1138.5,399.9C1140.8,400.8 1143.1,401.6 1145.5,402.5C1147.8,403.4 1150.1,404.3 1152.4,405.2C1154.6,406.2 1157.8,407.6 1158.9,408.1"/>
<path d="M152.3,395.8C153.2,396.3 155.6,397.5 157.6,398.7C159.5,399.8 161.8,401.6 164.2,402.7C166.5,403.9 169.1,405.0 171.6,405.7C174.1,406.4 177.0,406.2 179.3,406.8C181.6,407.4 183.6,408.1 185.5,409.2C187.5,410.4 189.1,412.2 190.9,413.7C192.7,415.2 194.4,416.8 196.2,418.2C198.0,419.6 199.8,420.9 201.5,422.3C203.3,423.7 205.0,425.3 206.8,426.8C208.6,428.2 210.4,430.0 212.2,431.1C214.1,432.2 216.0,432.9 218.0,433.4C219.9,433.9 221.9,433.6 224.0,434.0C226.1,434.5 228.4,435.2 230.7,436.1C233.0,437.0 235.5,438.3 237.9,439.5C240.2,440.8 242.8,442.0 244.9,443.5C247.1,445.1 248.9,446.9 250.6,448.8C252.3,450.6 253.5,452.8 255.1,454.6C256.7,456.4 258.2,458.2 260.2,459.5C262.1,460.8 264.4,461.6 266.8,462.4C269.1,463.2 271.7,463.7 274.2,464.3C276.7,464.8 279.3,465.4 281.8,465.8C284.4,466.2 287.0,466.0 289.4,466.6C291.8,467.2 294.0,467.9 296.1,469.1C298.2,470.4 300.0,472.4 301.9,474.2C303.7,476.0 305.4,478.2 307.3,480.0C309.1,481.8 311.0,483.5 312.9,485.0C314.8,486.5 316.7,487.9 318.7,489.1C320.6,490.4 322.5,491.6 324.5,492.5C326.6,493.4 328.8,494.2 330.9,494.5C333.0,494.8 335.2,495.1 337.1,494.4C338.9,493.6 340.7,491.8 341.9,489.8C343.1,487.9 343.7,485.1 344.2,482.7C344.6,480.2 344.4,477.5 344.6,475.0C344.8,472.5 344.8,469.9 345.4,467.7C346.0,465.5 346.9,463.6 348.0,461.7C349.2,459.8 350.9,458.3 352.3,456.5C353.7,454.6 355.4,452.6 356.2,450.4C357.1,448.2 357.2,445.6 357.2,443.1C357.1,440.6 356.1,438.0 355.7,435.5C355.3,433.0 354.7,430.5 354.7,428.2C354.7,425.9 355.2,423.6 355.9,421.6C356.7,419.6 357.9,418.0 359.0,416.1C360.0,414.3 361.4,412.6 362.4,410.6C363.5,408.6 364.5,406.3 365.2,404.1C366.0,401.8 366.2,399.2 367.0,397.0C367.7,394.8 368.4,392.4 369.8,390.9C371.2,389.4 373.3,388.5 375.3,388.1C377.4,387.8 379.9,388.1 382.1,388.5C384.3,388.9 386.4,389.7 388.5,390.7C390.6,391.6 392.6,392.8 394.5,394.1C396.5,395.4 398.4,396.9 400.4,398.4C402.4,399.9 404.4,401.6 406.5,403.0C408.6,404.4 410.8,405.9 413.1,407.0C415.3,408.2 417.7,409.2 420.1,410.0C422.4,410.8 424.9,411.4 427.3,411.8C429.8,412.3 432.3,412.6 434.8,412.8C437.2,413.0 439.7,413.1 442.2,413.2C444.8,413.4 447.3,413.4 449.8,413.7C452.4,414.0 454.9,414.3 457.5,414.8C460.2,415.4 462.8,416.1 465.5,416.9C468.2,417.6 470.9,418.6 473.6,419.4C476.3,420.2 479.0,421.1 481.6,421.7C484.1,422.3 486.7,422.8 489.0,423.0C491.3,423.2 493.4,423.2 495.5,423.0C497.6,422.8 499.4,422.4 501.5,421.9C503.5,421.5 505.5,420.8 507.8,420.3C510.1,419.8 512.7,419.2 515.4,418.7C518.1,418.2 521.2,417.7 524.2,417.2C527.1,416.8 530.3,416.4 533.1,416.0C536.0,415.6 538.8,415.1 541.3,414.7C543.8,414.2 546.0,413.7 548.2,413.2C550.4,412.7 552.4,412.2 554.6,411.7C556.9,411.3 559.1,410.9 561.5,410.6C563.9,410.4 566.5,410.2 569.1,410.2C571.7,410.2 574.4,410.4 577.1,410.6C579.8,410.9 582.5,411.3 585.1,411.7C587.7,412.1 590.2,412.7 592.7,413.1C595.2,413.6 597.5,414.2 599.9,414.7C602.3,415.2 604.6,415.8 606.9,416.2C609.3,416.7 611.6,417.2 614.0,417.6C616.3,418.0 618.7,418.4 621.2,418.8C623.6,419.2 626.0,419.5 628.5,419.9C631.0,420.3 633.5,420.8 636.1,421.2C638.6,421.6 641.2,422.0 643.7,422.4C646.2,422.8 648.8,423.2 651.3,423.4C653.8,423.6 656.3,423.8 658.7,423.6C661.1,423.4 663.5,422.9 665.9,422.3C668.2,421.7 670.6,420.9 673.0,420.0C675.3,419.2 677.7,418.3 680.1,417.4C682.5,416.5 684.9,415.6 687.2,414.6C689.5,413.7 691.9,412.7 694.2,411.8C696.5,410.8 698.7,409.9 700.9,408.9C703.2,407.9 705.4,407.0 707.6,405.9C709.9,404.9 712.1,403.8 714.4,402.7C716.6,401.6 718.9,400.4 721.2,399.2C723.5,398.0 725.8,396.8 728.0,395.5C730.3,394.3 732.5,393.0 734.8,391.7C737.0,390.5 739.2,389.2 741.4,388.0C743.6,386.7 745.8,385.5 748.0,384.4C750.2,383.2 752.4,382.0 754.7,380.9C756.9,379.8 759.1,378.7 761.4,377.6C763.6,376.5 765.9,375.5 768.2,374.4C770.4,373.3 772.7,372.2 775.0,371.2C777.3,370.1 779.6,369.0 781.9,367.9C784.1,366.8 786.4,365.7 788.7,364.6C791.0,363.6 793.2,362.5 795.5,361.5C797.8,360.5 800.1,359.6 802.4,358.7C804.7,357.8 807.0,357.0 809.4,356.2C811.8,355.4 814.2,354.7 816.6,354.0C819.0,353.3 821.5,352.7 823.9,352.0C826.4,351.4 828.8,350.7 831.2,350.1C833.7,349.5 836.1,348.9 838.5,348.3C840.9,347.7 843.3,347.1 845.7,346.6C848.1,346.1 850.5,345.6 852.9,345.2C855.4,344.8 857.9,344.5 860.4,344.3C862.9,344.0 865.5,343.9 868.0,343.9C870.6,343.8 873.2,343.9 875.8,344.0C878.3,344.1 880.9,344.3 883.4,344.5C885.9,344.6 888.5,344.9 890.9,345.1C893.4,345.2 895.9,345.4 898.4,345.6C900.8,345.9 903.3,346.1 905.7,346.3C908.2,346.5 910.6,346.8 913.1,347.1C915.6,347.4 918.1,347.7 920.6,348.1C923.1,348.4 925.6,348.8 928.1,349.3C930.6,349.7 933.1,350.2 935.6,350.6C938.1,351.1 940.6,351.5 943.1,352.0C945.6,352.4 948.0,352.9 950.5,353.3C953.0,353.7 955.4,354.1 957.9,354.5C960.3,354.9 962.8,355.3 965.2,355.7C967.6,356.2 970.1,356.6 972.5,357.1C975.0,357.6 977.4,358.1 979.9,358.7C982.4,359.2 984.8,359.9 987.3,360.5C989.8,361.1 992.2,361.8 994.7,362.4C997.2,363.0 999.6,363.7 1002.1,364.3C1004.5,364.9 1007.0,365.6 1009.4,366.2C1011.8,366.8 1014.2,367.3 1016.6,367.9C1019.0,368.5 1021.4,369.1 1023.8,369.7C1026.2,370.3 1028.6,371.0 1031.0,371.6C1033.4,372.3 1035.8,373.0 1038.2,373.8C1040.6,374.5 1043.0,375.3 1045.4,376.0C1047.8,376.8 1050.2,377.6 1052.6,378.4C1055.1,379.1 1057.5,379.9 1059.9,380.6C1062.3,381.4 1064.8,382.1 1067.2,382.8C1069.6,383.5 1072.0,384.1 1074.4,384.8C1076.9,385.5 1079.3,386.1 1081.7,386.8C1084.1,387.6 1086.4,388.3 1088.8,389.1C1091.2,389.9 1093.6,390.7 1095.9,391.6C1098.3,392.5 1100.7,393.4 1103.0,394.4C1105.4,395.3 1107.7,396.3 1110.1,397.2C1112.4,398.2 1114.8,399.1 1117.1,400.1C1119.4,401.0 1121.8,401.8 1124.1,402.7C1126.5,403.5 1128.8,404.3 1131.1,405.1C1133.5,405.9 1135.8,406.6 1138.2,407.4C1140.5,408.1 1142.8,408.9 1145.2,409.7C1147.5,410.5 1149.9,411.3 1152.2,412.2C1154.4,413.1 1157.7,414.4 1158.7,414.8"/>
<path d="M151.1,400.0C151.7,400.6 153.5,402.3 155.0,403.9C156.4,405.5 158.1,407.6 159.8,409.4C161.5,411.2 163.4,412.9 165.3,414.6C167.3,416.2 169.5,417.7 171.6,419.2C173.7,420.7 175.7,422.5 178.0,423.8C180.2,425.1 182.6,426.4 185.2,427.1C187.8,427.9 190.8,427.7 193.4,428.1C195.9,428.4 198.2,428.5 200.4,429.2C202.6,429.9 204.4,431.2 206.5,432.3C208.5,433.5 210.4,434.8 212.5,436.1C214.5,437.3 216.6,438.4 218.5,439.9C220.5,441.3 222.3,443.0 224.2,444.7C226.0,446.3 227.8,448.4 229.6,449.9C231.4,451.4 233.2,452.7 235.1,453.6C236.9,454.5 238.7,454.8 240.6,455.5C242.5,456.2 244.4,457.0 246.5,457.9C248.5,458.9 250.6,460.1 252.8,461.1C254.9,462.1 257.3,462.8 259.3,463.9C261.4,465.1 263.3,466.3 265.1,467.8C266.9,469.2 268.4,471.1 270.2,472.7C271.9,474.3 273.6,476.0 275.7,477.3C277.8,478.6 280.2,479.5 282.7,480.4C285.2,481.3 288.0,482.1 290.6,482.9C293.2,483.8 295.9,484.9 298.4,485.7C300.9,486.5 303.4,486.9 305.7,487.7C308.0,488.4 310.1,488.9 312.0,490.1C314.0,491.3 315.6,493.0 317.2,494.7C318.9,496.3 320.3,498.4 321.9,500.0C323.5,501.6 325.2,503.1 326.9,504.4C328.7,505.7 330.6,506.7 332.6,507.8C334.6,508.9 336.6,510.0 338.7,510.9C340.8,511.7 343.2,512.8 345.2,513.0C347.3,513.1 349.6,512.8 351.3,511.7C353.0,510.6 354.5,508.4 355.5,506.4C356.5,504.3 356.8,501.7 357.2,499.4C357.6,497.0 357.4,494.4 357.8,492.2C358.2,489.9 358.7,487.8 359.4,485.9C360.2,483.9 361.4,482.4 362.5,480.6C363.6,478.8 365.2,477.1 366.1,475.1C367.1,473.0 367.9,470.7 368.2,468.3C368.5,466.0 368.0,463.4 367.8,460.9C367.6,458.4 366.9,455.8 367.0,453.3C367.2,450.8 367.6,448.3 368.4,446.2C369.2,444.0 370.7,442.2 371.8,440.2C373.0,438.3 374.3,436.7 375.4,434.7C376.5,432.6 377.5,430.4 378.3,428.0C379.2,425.7 379.6,422.9 380.4,420.5C381.1,418.0 381.7,415.2 382.9,413.3C384.2,411.5 386.1,409.9 388.0,409.3C390.0,408.7 392.5,409.1 394.7,409.6C396.8,410.2 399.0,411.5 401.2,412.7C403.3,413.9 405.4,415.5 407.5,417.0C409.6,418.4 411.7,420.0 413.9,421.4C416.1,422.8 418.3,424.2 420.6,425.3C423.0,426.5 425.3,427.4 427.7,428.1C430.2,428.8 432.7,429.1 435.1,429.5C437.5,429.8 440.0,429.9 442.4,430.2C444.7,430.6 447.1,430.8 449.3,431.3C451.6,431.8 453.8,432.5 456.0,433.2C458.2,434.0 460.3,435.0 462.5,436.0C464.7,436.9 466.9,438.1 469.2,439.1C471.6,440.1 473.9,441.1 476.5,441.9C479.0,442.6 481.7,443.2 484.5,443.5C487.2,443.9 490.2,443.9 493.0,443.8C495.9,443.6 498.9,443.2 501.6,442.7C504.3,442.3 507.0,441.6 509.4,441.0C511.8,440.5 514.0,439.9 516.1,439.4C518.3,439.0 520.2,438.6 522.4,438.2C524.5,437.9 526.7,437.7 529.1,437.4C531.6,437.2 534.3,437.0 537.0,436.7C539.8,436.4 542.8,436.1 545.6,435.7C548.5,435.4 551.4,434.9 554.0,434.5C556.7,434.1 559.1,433.7 561.5,433.3C563.8,432.9 565.9,432.5 568.1,432.3C570.3,432.0 572.4,431.8 574.7,431.7C576.9,431.6 579.3,431.7 581.7,431.7C584.2,431.7 586.8,431.8 589.3,431.9C591.9,432.0 594.6,432.1 597.2,432.3C599.7,432.5 602.3,432.7 604.8,433.0C607.4,433.3 609.8,433.6 612.3,433.9C614.8,434.3 617.2,434.6 619.6,435.0C622.1,435.4 624.5,435.8 626.9,436.3C629.3,436.8 631.7,437.4 634.2,437.9C636.6,438.5 639.1,439.1 641.6,439.7C644.1,440.3 646.6,440.9 649.1,441.3C651.6,441.7 654.2,442.1 656.6,442.1C659.1,442.1 661.6,441.9 664.0,441.4C666.4,440.9 668.7,440.1 671.1,439.3C673.4,438.5 675.7,437.6 678.0,436.7C680.4,435.8 682.7,434.8 685.0,433.9C687.4,433.0 689.7,432.0 692.1,431.1C694.5,430.1 696.9,429.2 699.2,428.2C701.5,427.3 703.9,426.3 706.2,425.3C708.5,424.3 710.7,423.3 713.0,422.3C715.2,421.2 717.4,420.1 719.7,419.0C721.9,417.9 724.1,416.7 726.4,415.5C728.7,414.4 731.0,413.2 733.3,412.0C735.5,410.8 737.9,409.6 740.1,408.4C742.4,407.3 744.7,406.1 747.0,405.0C749.2,403.9 751.5,402.9 753.7,401.8C755.9,400.8 758.2,399.8 760.4,398.8C762.6,397.8 764.9,396.8 767.1,395.8C769.3,394.8 771.6,393.8 773.9,392.7C776.1,391.7 778.4,390.7 780.7,389.6C783.0,388.6 785.3,387.5 787.6,386.4C789.9,385.4 792.3,384.3 794.6,383.3C796.9,382.3 799.2,381.3 801.5,380.4C803.8,379.4 806.1,378.5 808.4,377.7C810.7,376.8 813.0,376.0 815.3,375.2C817.6,374.4 820.0,373.7 822.3,373.0C824.7,372.2 827.1,371.5 829.5,370.8C832.0,370.1 834.5,369.3 836.9,368.6C839.4,367.9 841.9,367.2 844.4,366.6C846.8,365.9 849.3,365.3 851.7,364.8C854.1,364.2 856.5,363.7 859.0,363.3C861.4,363.0 863.8,362.7 866.3,362.5C868.7,362.2 871.2,362.1 873.7,362.1C876.2,362.0 878.7,362.1 881.3,362.1C883.8,362.2 886.4,362.3 889.0,362.4C891.6,362.5 894.2,362.6 896.7,362.8C899.3,362.9 901.8,363.0 904.3,363.2C906.8,363.3 909.3,363.4 911.7,363.6C914.2,363.8 916.6,364.0 919.1,364.3C921.5,364.5 923.9,364.8 926.4,365.2C928.8,365.5 931.3,365.9 933.8,366.3C936.2,366.6 938.7,367.0 941.2,367.4C943.7,367.8 946.2,368.2 948.7,368.5C951.2,368.9 953.7,369.2 956.2,369.6C958.7,369.9 961.2,370.2 963.7,370.6C966.1,370.9 968.6,371.3 971.1,371.7C973.5,372.1 976.0,372.5 978.5,373.0C980.9,373.5 983.4,374.0 985.8,374.6C988.3,375.1 990.8,375.7 993.2,376.3C995.7,376.8 998.1,377.4 1000.6,378.0C1003.1,378.6 1005.5,379.1 1008.0,379.7C1010.4,380.2 1012.9,380.7 1015.3,381.2C1017.8,381.8 1020.2,382.3 1022.6,382.8C1025.1,383.3 1027.5,383.9 1029.9,384.5C1032.3,385.0 1034.7,385.6 1037.1,386.3C1039.5,386.9 1041.9,387.6 1044.3,388.2C1046.7,388.9 1049.1,389.6 1051.6,390.3C1054.0,391.0 1056.4,391.7 1058.8,392.3C1061.3,393.0 1063.7,393.6 1066.1,394.3C1068.6,394.9 1071.0,395.5 1073.4,396.1C1075.9,396.7 1078.3,397.3 1080.7,398.0C1083.2,398.7 1085.6,399.3 1088.0,400.0C1090.4,400.8 1092.8,401.5 1095.2,402.3C1097.6,403.1 1100.0,404.0 1102.4,404.8C1104.8,405.7 1107.1,406.6 1109.5,407.4C1111.9,408.3 1114.3,409.1 1116.6,410.0C1119.0,410.8 1121.4,411.5 1123.8,412.3C1126.1,413.0 1128.5,413.7 1130.9,414.4C1133.2,415.1 1135.6,415.7 1138.0,416.4C1140.4,417.1 1142.7,417.8 1145.1,418.5C1147.5,419.2 1149.9,420.0 1152.2,420.8C1154.4,421.6 1157.7,422.9 1158.8,423.3"/>
<path d="M150.7,417.4C151.5,417.6 153.7,417.8 155.7,418.2C157.7,418.6 160.5,418.7 162.6,419.6C164.8,420.5 166.8,422.0 168.5,423.6C170.2,425.2 171.4,427.4 173.0,429.3C174.6,431.1 176.0,433.0 177.9,434.7C179.7,436.4 181.9,437.8 184.1,439.3C186.3,440.7 188.6,442.2 191.1,443.4C193.5,444.6 196.0,445.9 198.8,446.5C201.6,447.0 204.9,446.8 207.8,446.9C210.7,446.9 213.6,446.5 216.0,447.0C218.5,447.5 220.5,448.7 222.6,449.9C224.7,451.2 226.6,452.9 228.5,454.5C230.4,456.1 232.4,457.6 234.2,459.4C236.0,461.1 237.7,463.0 239.3,464.8C241.0,466.7 242.4,469.0 244.1,470.7C245.7,472.4 247.4,474.1 249.2,475.1C251.0,476.1 252.8,476.2 254.8,476.6C256.7,477.0 258.7,477.0 260.8,477.5C262.9,477.9 265.1,478.7 267.4,479.4C269.7,480.0 272.2,480.6 274.5,481.6C276.8,482.5 279.1,483.6 281.2,485.1C283.2,486.5 284.9,488.5 286.8,490.3C288.6,492.1 290.2,494.2 292.2,495.9C294.2,497.6 296.3,499.1 298.6,500.4C300.9,501.8 303.6,502.7 306.0,503.8C308.4,504.8 310.8,506.0 313.1,506.8C315.4,507.5 317.7,508.0 319.8,508.5C322.0,509.0 324.0,508.9 325.9,509.7C327.8,510.5 329.5,511.8 331.2,513.2C332.9,514.6 334.4,516.6 336.2,518.1C337.9,519.7 339.7,521.2 341.7,522.6C343.7,523.9 345.8,525.0 348.0,526.1C350.1,527.3 352.4,528.6 354.6,529.5C356.8,530.3 359.0,531.4 360.9,531.3C362.9,531.2 364.7,530.2 366.2,528.7C367.7,527.2 368.9,524.7 369.7,522.5C370.5,520.3 370.6,517.8 371.1,515.5C371.6,513.1 371.8,510.8 372.4,508.6C373.0,506.4 374.0,504.4 374.9,502.3C375.9,500.3 377.2,498.4 378.1,496.4C379.1,494.3 380.2,492.1 380.7,489.9C381.2,487.7 381.3,485.4 381.2,483.1C381.1,480.9 380.3,478.7 380.1,476.4C380.0,474.2 379.9,471.8 380.6,469.6C381.2,467.3 382.7,465.0 384.0,462.9C385.4,460.8 387.3,458.9 388.6,456.9C390.0,454.9 391.3,452.9 392.2,450.8C393.2,448.6 393.6,446.3 394.2,444.0C394.7,441.7 394.7,439.0 395.6,437.0C396.5,435.0 397.7,433.0 399.5,432.1C401.3,431.2 403.9,431.4 406.3,431.7C408.7,432.0 411.3,433.2 413.8,434.2C416.2,435.1 418.6,436.4 420.9,437.5C423.3,438.7 425.6,439.9 427.8,441.1C430.1,442.2 432.4,443.3 434.6,444.4C436.9,445.4 439.2,446.4 441.5,447.3C443.8,448.2 446.2,448.9 448.5,449.7C450.8,450.4 453.2,451.1 455.5,451.9C457.8,452.7 460.1,453.7 462.3,454.6C464.5,455.6 466.7,456.7 468.8,457.6C471.0,458.6 473.1,459.6 475.2,460.3C477.4,461.0 479.5,461.7 481.7,462.0C484.0,462.4 486.2,462.5 488.7,462.5C491.1,462.5 493.7,462.2 496.4,462.0C499.1,461.7 502.1,461.2 505.0,460.9C507.9,460.5 511.1,460.2 514.0,460.0C517.0,459.7 520.0,459.6 522.7,459.6C525.4,459.5 527.9,459.6 530.2,459.6C532.5,459.6 534.5,459.8 536.6,459.7C538.6,459.7 540.5,459.6 542.6,459.4C544.8,459.2 547.0,458.9 549.4,458.5C551.8,458.1 554.5,457.5 557.2,457.0C559.8,456.5 562.7,455.9 565.4,455.3C568.1,454.8 570.7,454.2 573.2,453.8C575.7,453.3 578.1,452.9 580.4,452.6C582.8,452.2 585.0,451.9 587.3,451.6C589.7,451.4 592.0,451.2 594.4,451.0C596.9,450.9 599.4,450.8 601.9,450.8C604.5,450.9 607.1,451.0 609.6,451.3C612.2,451.5 614.8,451.8 617.3,452.1C619.9,452.5 622.4,452.9 624.9,453.5C627.4,454.0 629.8,454.6 632.3,455.2C634.7,455.8 637.1,456.5 639.6,457.2C642.0,457.8 644.4,458.5 646.8,459.0C649.3,459.5 651.7,460.0 654.2,460.2C656.6,460.4 659.1,460.4 661.6,460.0C664.0,459.7 666.5,458.9 668.9,458.2C671.4,457.5 673.8,456.5 676.2,455.6C678.5,454.7 680.9,453.7 683.2,452.8C685.5,451.9 687.8,450.9 690.1,450.0C692.4,449.1 694.7,448.1 697.1,447.2C699.4,446.3 701.8,445.4 704.1,444.5C706.5,443.6 708.9,442.7 711.3,441.7C713.6,440.7 716.0,439.8 718.3,438.7C720.6,437.7 722.8,436.7 725.1,435.6C727.4,434.5 729.6,433.4 731.8,432.3C734.1,431.3 736.3,430.1 738.6,429.1C740.9,428.0 743.2,426.9 745.5,425.9C747.8,424.9 750.1,423.9 752.4,422.9C754.7,421.9 757.0,420.9 759.2,420.0C761.5,419.0 763.8,418.1 766.1,417.1C768.3,416.2 770.6,415.2 772.8,414.2C775.1,413.2 777.3,412.2 779.6,411.2C781.9,410.1 784.1,409.1 786.4,408.0C788.7,406.9 790.9,405.8 793.2,404.8C795.5,403.7 797.9,402.7 800.2,401.7C802.6,400.7 804.9,399.7 807.3,398.8C809.6,397.9 812.0,397.0 814.4,396.2C816.7,395.3 819.0,394.5 821.4,393.7C823.7,392.9 826.0,392.1 828.3,391.4C830.7,390.6 833.0,389.8 835.4,389.1C837.7,388.3 840.2,387.6 842.6,386.8C845.1,386.1 847.6,385.4 850.1,384.8C852.6,384.2 855.1,383.6 857.6,383.1C860.2,382.6 862.7,382.2 865.1,381.9C867.6,381.5 870.1,381.3 872.5,381.1C874.9,380.9 877.4,380.8 879.8,380.7C882.3,380.6 884.7,380.6 887.2,380.6C889.7,380.5 892.2,380.5 894.7,380.5C897.2,380.5 899.8,380.5 902.3,380.5C904.9,380.5 907.5,380.6 910.0,380.7C912.5,380.7 915.1,380.8 917.6,381.0C920.1,381.1 922.6,381.3 925.0,381.6C927.5,381.8 929.9,382.1 932.4,382.4C934.8,382.7 937.3,383.1 939.7,383.4C942.2,383.7 944.7,384.0 947.1,384.4C949.6,384.7 952.1,385.0 954.6,385.3C957.1,385.5 959.6,385.8 962.1,386.1C964.6,386.4 967.1,386.7 969.6,387.0C972.1,387.3 974.6,387.7 977.1,388.1C979.6,388.5 982.1,388.9 984.6,389.4C987.0,389.9 989.5,390.4 991.9,390.9C994.4,391.4 996.8,392.0 999.3,392.5C1001.7,393.0 1004.2,393.5 1006.6,394.0C1009.1,394.5 1011.5,394.9 1014.0,395.4C1016.5,395.8 1018.9,396.3 1021.4,396.7C1023.8,397.2 1026.3,397.6 1028.8,398.1C1031.2,398.6 1033.7,399.1 1036.1,399.7C1038.6,400.2 1041.0,400.8 1043.5,401.4C1045.9,401.9 1048.3,402.6 1050.8,403.2C1053.2,403.8 1055.6,404.4 1058.0,405.0C1060.5,405.6 1062.9,406.2 1065.3,406.8C1067.7,407.4 1070.2,408.0 1072.6,408.5C1075.0,409.1 1077.4,409.7 1079.9,410.3C1082.3,410.9 1084.7,411.5 1087.1,412.1C1089.6,412.8 1092.0,413.5 1094.4,414.2C1096.8,414.9 1099.2,415.7 1101.7,416.4C1104.1,417.2 1106.5,418.0 1108.9,418.7C1111.3,419.5 1113.7,420.3 1116.1,421.0C1118.5,421.7 1120.9,422.4 1123.4,423.0C1125.8,423.7 1128.2,424.3 1130.6,424.9C1133.0,425.5 1135.4,426.1 1137.8,426.7C1140.2,427.3 1142.6,428.0 1145.0,428.6C1147.4,429.3 1149.9,430.1 1152.2,430.8C1154.5,431.6 1157.7,432.8 1158.9,433.2"/>
<path d="M153.9,434.2C154.6,434.3 156.5,434.6 158.1,434.9C159.7,435.2 161.6,435.6 163.4,436.0C165.2,436.5 167.1,437.1 169.1,437.6C171.1,438.2 173.4,438.6 175.5,439.5C177.6,440.4 179.8,441.6 181.7,443.1C183.6,444.6 185.1,446.7 186.8,448.5C188.6,450.3 190.2,452.4 192.2,454.1C194.1,455.7 196.4,457.2 198.7,458.6C201.0,459.9 203.5,461.1 206.0,462.2C208.5,463.2 211.0,464.4 213.7,465.0C216.4,465.6 219.4,465.6 222.3,465.8C225.1,466.0 228.1,465.6 230.6,466.2C233.0,466.9 235.0,468.1 236.9,469.6C238.8,471.0 240.4,473.1 242.1,474.9C243.9,476.7 245.6,478.5 247.4,480.2C249.1,482.0 250.9,483.7 252.7,485.4C254.4,487.1 256.0,489.0 257.8,490.6C259.6,492.1 261.5,493.7 263.5,494.5C265.5,495.3 267.7,495.2 269.9,495.3C272.1,495.4 274.3,494.8 276.6,495.1C278.9,495.3 281.2,496.1 283.6,496.9C285.9,497.8 288.3,498.9 290.6,500.2C292.8,501.4 295.1,502.9 297.1,504.6C299.1,506.3 300.7,508.4 302.3,510.5C304.0,512.5 305.2,514.9 306.9,516.8C308.6,518.7 310.3,520.6 312.4,521.9C314.5,523.2 317.0,523.9 319.5,524.6C321.9,525.3 324.4,525.8 326.9,526.2C329.3,526.7 331.8,526.9 334.1,527.2C336.5,527.5 338.8,527.3 340.9,527.9C343.1,528.6 345.1,529.6 347.1,531.0C349.0,532.3 350.8,534.4 352.6,536.1C354.5,537.8 356.4,539.7 358.4,541.3C360.3,542.9 362.4,544.4 364.4,545.7C366.5,547.0 368.6,548.5 370.5,549.2C372.3,549.9 374.2,550.5 375.7,549.8C377.3,549.1 378.7,547.2 379.8,545.3C381.0,543.3 381.8,540.5 382.5,538.0C383.2,535.5 383.5,532.9 384.2,530.4C384.9,527.9 385.7,525.4 386.7,523.1C387.7,520.8 389.2,518.7 390.3,516.5C391.5,514.4 392.8,512.4 393.7,510.3C394.5,508.1 395.2,505.8 395.5,503.5C395.8,501.2 395.5,498.7 395.5,496.3C395.4,493.9 394.7,491.5 395.0,489.2C395.3,486.9 396.0,484.5 397.1,482.4C398.3,480.3 400.5,478.3 402.2,476.4C403.9,474.5 406.0,473.0 407.3,471.3C408.7,469.5 409.8,467.7 410.5,465.7C411.3,463.7 411.2,461.2 411.7,459.2C412.3,457.2 412.5,455.0 413.8,453.8C415.1,452.7 417.3,452.3 419.5,452.4C421.7,452.4 424.5,453.3 426.9,454.2C429.3,455.0 431.6,456.2 433.8,457.4C436.1,458.6 438.1,459.9 440.2,461.3C442.3,462.6 444.3,464.0 446.3,465.4C448.4,466.7 450.4,468.1 452.6,469.3C454.8,470.5 457.1,471.6 459.5,472.6C461.9,473.6 464.5,474.5 467.1,475.3C469.6,476.1 472.3,476.8 474.8,477.5C477.4,478.1 480.0,478.7 482.5,479.2C485.0,479.6 487.4,479.9 489.8,480.1C492.1,480.3 494.4,480.3 496.6,480.4C498.9,480.4 501.0,480.3 503.2,480.3C505.4,480.4 507.6,480.4 510.0,480.5C512.4,480.6 514.8,480.8 517.5,481.1C520.1,481.3 522.9,481.7 525.7,482.0C528.5,482.3 531.5,482.6 534.3,482.8C537.1,482.9 539.9,483.0 542.4,482.9C544.9,482.8 547.2,482.5 549.4,482.1C551.6,481.7 553.6,481.0 555.7,480.4C557.8,479.7 559.8,478.9 562.1,478.2C564.4,477.4 566.8,476.6 569.4,475.9C571.9,475.2 574.7,474.5 577.3,473.9C580.0,473.3 582.8,472.7 585.4,472.3C588.0,471.8 590.6,471.4 593.1,471.1C595.6,470.7 598.0,470.4 600.4,470.3C602.8,470.1 605.2,470.1 607.7,470.2C610.1,470.3 612.6,470.4 615.1,470.7C617.6,471.0 620.1,471.3 622.6,471.7C625.1,472.2 627.6,472.7 630.1,473.2C632.6,473.7 635.1,474.4 637.5,474.9C640.0,475.5 642.5,476.1 644.9,476.6C647.4,477.1 649.8,477.7 652.2,477.9C654.7,478.2 657.1,478.3 659.5,478.1C661.9,477.9 664.3,477.2 666.7,476.6C669.1,475.9 671.6,475.0 674.0,474.1C676.4,473.2 678.9,472.3 681.3,471.4C683.8,470.5 686.2,469.6 688.6,468.7C691.0,467.8 693.3,466.9 695.6,466.1C697.9,465.3 700.2,464.4 702.5,463.6C704.8,462.8 707.1,462.0 709.5,461.1C711.8,460.3 714.2,459.4 716.5,458.5C718.9,457.6 721.3,456.7 723.6,455.7C726.0,454.8 728.3,453.8 730.7,452.8C733.0,451.8 735.3,450.7 737.5,449.7C739.8,448.7 742.0,447.7 744.3,446.7C746.6,445.7 748.8,444.7 751.1,443.8C753.3,442.8 755.6,441.9 757.9,440.9C760.2,440.0 762.5,439.1 764.8,438.1C767.1,437.2 769.4,436.2 771.7,435.2C774.0,434.2 776.3,433.2 778.6,432.2C780.9,431.1 783.2,430.1 785.5,429.0C787.8,427.9 790.1,426.8 792.3,425.7C794.6,424.6 796.9,423.6 799.2,422.5C801.4,421.5 803.7,420.5 806.1,419.5C808.4,418.6 810.7,417.7 813.1,416.8C815.5,415.9 817.9,415.1 820.3,414.3C822.7,413.5 825.1,412.7 827.5,412.0C829.9,411.2 832.3,410.4 834.7,409.6C837.0,408.9 839.4,408.1 841.7,407.4C844.1,406.7 846.4,405.9 848.8,405.3C851.2,404.6 853.6,403.9 856.1,403.4C858.6,402.8 861.1,402.3 863.6,401.9C866.1,401.5 868.7,401.1 871.2,400.8C873.8,400.5 876.3,400.2 878.8,400.0C881.3,399.8 883.8,399.6 886.2,399.4C888.7,399.2 891.1,399.1 893.5,398.9C896.0,398.7 898.4,398.6 900.9,398.4C903.3,398.3 905.8,398.2 908.3,398.1C910.8,398.1 913.3,398.1 915.8,398.1C918.4,398.2 920.9,398.3 923.4,398.4C926.0,398.6 928.5,398.8 931.1,399.1C933.6,399.3 936.1,399.6 938.6,399.9C941.1,400.2 943.6,400.5 946.0,400.7C948.5,401.0 951.0,401.3 953.5,401.5C955.9,401.7 958.4,402.0 960.9,402.2C963.4,402.4 965.9,402.6 968.4,402.9C970.9,403.2 973.4,403.5 975.9,403.8C978.4,404.1 980.9,404.5 983.4,404.9C985.9,405.3 988.4,405.7 990.8,406.2C993.3,406.6 995.8,407.1 998.2,407.6C1000.7,408.1 1003.1,408.5 1005.5,408.9C1008.0,409.4 1010.4,409.8 1012.9,410.2C1015.3,410.6 1017.8,410.9 1020.2,411.3C1022.7,411.7 1025.2,412.1 1027.7,412.5C1030.1,412.9 1032.6,413.3 1035.1,413.8C1037.6,414.2 1040.1,414.7 1042.6,415.2C1045.1,415.8 1047.6,416.3 1050.0,416.9C1052.5,417.4 1055.0,418.0 1057.4,418.6C1059.9,419.1 1062.3,419.7 1064.7,420.3C1067.2,420.8 1069.6,421.3 1072.0,421.9C1074.4,422.4 1076.9,422.9 1079.3,423.5C1081.7,424.0 1084.1,424.6 1086.5,425.2C1088.9,425.7 1091.3,426.3 1093.8,427.0C1096.2,427.6 1098.6,428.3 1101.0,428.9C1103.5,429.6 1105.9,430.3 1108.3,431.0C1110.7,431.6 1113.2,432.3 1115.6,432.9C1118.1,433.6 1120.5,434.2 1122.9,434.8C1125.4,435.3 1127.8,435.9 1130.3,436.5C1132.7,437.0 1135.1,437.6 1137.6,438.1C1140.0,438.7 1142.5,439.3 1144.9,440.0C1147.3,440.6 1149.8,441.3 1152.2,442.1C1154.5,442.8 1157.8,443.9 1158.9,444.3"/>
<path d="M154.0,438.1C154.7,438.7 156.4,440.4 157.7,441.9C159.1,443.4 160.7,445.4 162.2,446.9C163.8,448.4 165.4,450.0 167.2,451.0C169.0,452.0 170.9,452.4 172.8,453.0C174.6,453.6 176.5,453.9 178.4,454.6C180.3,455.3 182.2,456.3 184.3,457.1C186.3,457.9 188.6,458.5 190.8,459.5C193.0,460.5 195.4,461.4 197.4,462.8C199.5,464.2 201.3,466.1 203.1,467.9C205.0,469.6 206.5,471.7 208.4,473.3C210.2,475.0 212.2,476.4 214.2,477.7C216.3,478.9 218.6,479.8 220.8,480.9C223.0,481.9 225.2,483.1 227.6,484.0C230.1,484.8 232.7,485.4 235.3,485.9C238.0,486.5 241.0,486.4 243.5,487.1C246.0,487.9 248.1,488.9 250.2,490.3C252.2,491.6 253.9,493.6 255.8,495.2C257.6,496.8 259.5,498.5 261.5,500.0C263.5,501.5 265.7,502.8 267.7,504.2C269.7,505.6 271.6,507.1 273.5,508.4C275.5,509.8 277.4,511.3 279.4,512.2C281.4,513.0 283.6,513.2 285.7,513.6C287.9,513.9 290.1,513.6 292.2,514.2C294.3,514.7 296.5,515.8 298.6,517.1C300.7,518.3 302.8,519.9 304.9,521.5C306.9,523.0 309.1,524.5 311.0,526.1C312.9,527.8 314.5,529.6 316.2,531.4C317.9,533.2 319.2,535.3 320.9,536.9C322.6,538.6 324.4,540.2 326.6,541.1C328.8,542.1 331.5,542.3 334.2,542.7C336.8,543.1 339.7,543.2 342.4,543.5C345.1,543.9 347.8,544.5 350.4,545.0C352.9,545.6 355.4,546.0 357.6,546.9C359.9,547.9 361.9,549.1 363.8,550.7C365.7,552.3 367.3,554.5 369.0,556.5C370.7,558.4 372.2,560.6 374.0,562.3C375.7,564.0 377.6,565.6 379.5,566.7C381.3,567.8 383.3,568.9 385.0,568.9C386.6,569.0 388.2,568.4 389.4,567.1C390.7,565.8 391.5,563.3 392.3,561.1C393.0,558.8 393.3,556.1 393.9,553.6C394.5,551.0 394.9,548.3 395.8,545.9C396.8,543.5 398.2,541.0 399.7,538.9C401.1,536.8 403.0,535.1 404.4,533.3C405.8,531.5 407.1,530.0 408.0,528.0C408.8,526.0 409.2,523.8 409.4,521.4C409.6,519.0 409.1,516.2 409.2,513.7C409.4,511.1 409.2,508.3 410.0,506.0C410.8,503.7 412.2,501.6 413.9,499.8C415.5,498.0 417.9,496.8 419.8,495.3C421.6,493.8 423.6,492.5 424.9,490.7C426.1,488.9 426.8,486.5 427.5,484.4C428.1,482.3 428.0,479.5 428.9,477.9C429.8,476.4 431.1,475.3 432.7,475.1C434.4,474.8 436.8,475.6 438.9,476.3C441.0,477.0 443.2,478.2 445.3,479.4C447.3,480.5 449.3,481.8 451.4,483.1C453.4,484.3 455.4,485.6 457.5,486.9C459.6,488.1 461.8,489.4 464.1,490.5C466.3,491.6 468.7,492.6 471.3,493.5C473.8,494.4 476.5,495.1 479.3,495.7C482.0,496.3 484.9,496.8 487.7,497.2C490.5,497.7 493.4,498.0 496.1,498.4C498.8,498.7 501.4,499.0 503.9,499.3C506.4,499.7 508.7,500.0 511.0,500.3C513.2,500.7 515.2,501.1 517.3,501.6C519.4,502.0 521.3,502.5 523.4,502.9C525.5,503.3 527.6,503.7 530.0,503.9C532.3,504.2 534.9,504.3 537.5,504.3C540.2,504.2 543.1,504.0 545.9,503.6C548.7,503.2 551.6,502.6 554.3,502.0C557.1,501.3 559.7,500.5 562.2,499.8C564.6,499.0 566.9,498.2 569.2,497.5C571.5,496.7 573.6,496.0 575.9,495.5C578.2,494.9 580.5,494.4 583.0,493.9C585.4,493.5 588.0,493.1 590.6,492.8C593.2,492.4 595.9,492.1 598.5,491.9C601.1,491.7 603.7,491.5 606.2,491.5C608.8,491.4 611.2,491.4 613.7,491.4C616.1,491.5 618.5,491.6 621.0,491.7C623.4,491.9 625.8,492.2 628.3,492.4C630.7,492.7 633.2,493.1 635.6,493.4C638.1,493.8 640.6,494.2 643.1,494.5C645.6,494.8 648.1,495.3 650.6,495.5C653.1,495.7 655.6,495.9 658.1,495.7C660.6,495.6 663.0,495.1 665.4,494.5C667.8,494.0 670.2,493.1 672.5,492.3C674.9,491.5 677.3,490.6 679.7,489.8C682.1,489.0 684.5,488.2 687.0,487.4C689.4,486.6 691.9,485.8 694.3,485.0C696.7,484.3 699.2,483.5 701.5,482.8C703.9,482.1 706.2,481.4 708.6,480.6C710.9,479.9 713.1,479.1 715.4,478.3C717.7,477.5 720.0,476.6 722.3,475.8C724.7,474.9 727.0,473.9 729.4,473.0C731.7,472.0 734.1,471.0 736.4,470.0C738.8,469.0 741.1,468.0 743.4,467.1C745.8,466.1 748.1,465.1 750.3,464.1C752.6,463.2 754.9,462.2 757.1,461.3C759.4,460.3 761.7,459.4 763.9,458.4C766.2,457.5 768.5,456.5 770.8,455.6C773.1,454.6 775.4,453.6 777.7,452.5C780.0,451.5 782.3,450.4 784.7,449.3C787.0,448.3 789.3,447.2 791.7,446.1C794.0,445.0 796.4,444.0 798.7,442.9C801.0,441.9 803.3,440.9 805.6,440.0C807.9,439.1 810.2,438.2 812.5,437.3C814.8,436.5 817.1,435.7 819.5,434.9C821.8,434.1 824.2,433.4 826.6,432.6C829.0,431.9 831.4,431.1 833.9,430.4C836.3,429.6 838.8,428.9 841.2,428.1C843.7,427.4 846.1,426.6 848.5,425.9C850.9,425.2 853.3,424.6 855.7,423.9C858.0,423.3 860.4,422.7 862.8,422.2C865.2,421.7 867.6,421.2 870.0,420.8C872.5,420.3 875.0,420.0 877.5,419.6C880.0,419.3 882.6,419.0 885.1,418.7C887.6,418.4 890.2,418.1 892.7,417.8C895.2,417.5 897.7,417.2 900.1,416.9C902.6,416.6 905.0,416.4 907.5,416.2C909.9,416.0 912.4,415.8 914.8,415.8C917.3,415.7 919.8,415.7 922.2,415.8C924.7,415.9 927.3,416.0 929.8,416.2C932.3,416.4 934.9,416.6 937.4,416.9C940.0,417.1 942.5,417.3 945.1,417.6C947.6,417.8 950.1,418.0 952.6,418.2C955.1,418.4 957.6,418.6 960.1,418.8C962.6,418.9 965.1,419.1 967.5,419.3C970.0,419.5 972.5,419.7 975.0,420.0C977.4,420.2 979.9,420.6 982.4,420.9C984.9,421.2 987.4,421.6 989.9,422.0C992.4,422.4 994.9,422.8 997.3,423.2C999.8,423.6 1002.3,424.1 1004.8,424.4C1007.2,424.8 1009.7,425.2 1012.2,425.5C1014.6,425.9 1017.1,426.2 1019.5,426.5C1022.0,426.8 1024.4,427.1 1026.9,427.4C1029.4,427.8 1031.8,428.1 1034.3,428.5C1036.8,428.9 1039.3,429.3 1041.8,429.8C1044.2,430.3 1046.8,430.8 1049.2,431.3C1051.7,431.8 1054.2,432.4 1056.7,432.9C1059.2,433.4 1061.7,434.0 1064.2,434.5C1066.6,435.0 1069.1,435.5 1071.6,436.0C1074.0,436.5 1076.4,437.0 1078.9,437.5C1081.3,437.9 1083.7,438.4 1086.1,438.9C1088.6,439.4 1091.0,439.9 1093.4,440.5C1095.8,441.0 1098.2,441.6 1100.7,442.2C1103.1,442.7 1105.5,443.3 1108.0,443.9C1110.4,444.5 1112.8,445.1 1115.3,445.7C1117.7,446.2 1120.2,446.8 1122.6,447.3C1125.1,447.9 1127.5,448.4 1130.0,448.9C1132.4,449.5 1134.9,450.0 1137.3,450.5C1139.7,451.1 1142.2,451.7 1144.6,452.3C1147.1,452.9 1149.6,453.6 1152.0,454.3C1154.3,454.9 1157.7,456.0 1158.8,456.3"/>
<path d="M154.3,448.6C155.1,449.0 157.0,450.3 158.7,451.2C160.5,452.2 162.7,453.2 164.6,454.3C166.5,455.3 168.5,456.3 170.3,457.7C172.2,459.0 173.8,460.7 175.6,462.4C177.3,464.0 178.9,466.1 180.8,467.7C182.7,469.3 184.9,470.8 187.0,471.9C189.0,473.1 191.3,473.7 193.4,474.5C195.4,475.3 197.4,476.1 199.4,476.9C201.4,477.7 203.4,478.4 205.5,479.1C207.5,479.8 209.7,480.1 211.6,481.1C213.6,482.0 215.5,483.3 217.2,484.7C218.9,486.2 220.3,488.2 221.9,489.9C223.5,491.6 224.9,493.4 226.7,494.9C228.5,496.5 230.4,497.7 232.5,499.0C234.6,500.3 236.8,501.6 239.2,502.8C241.6,504.0 244.0,505.3 246.6,506.1C249.3,506.9 252.3,507.0 255.0,507.5C257.8,507.9 260.6,507.9 263.1,508.6C265.5,509.4 267.5,510.7 269.5,512.0C271.6,513.3 273.4,515.1 275.3,516.5C277.3,517.9 279.3,519.2 281.2,520.6C283.2,522.1 285.1,523.4 286.9,525.0C288.8,526.5 290.4,528.4 292.2,529.9C294.0,531.4 295.8,532.9 297.7,533.8C299.6,534.7 301.7,534.9 303.7,535.5C305.8,536.1 307.9,536.5 310.0,537.4C312.1,538.4 314.2,539.8 316.3,540.9C318.5,542.1 320.7,543.2 322.9,544.4C325.1,545.5 327.3,546.5 329.3,547.9C331.3,549.2 333.0,550.8 334.8,552.3C336.7,553.8 338.2,555.5 340.3,556.8C342.3,558.1 344.6,559.1 347.0,560.0C349.5,560.8 352.5,561.2 355.1,562.0C357.8,562.8 360.5,563.8 363.0,564.8C365.6,565.8 368.0,566.8 370.3,567.9C372.6,568.9 374.7,569.8 376.6,571.1C378.5,572.4 380.1,574.1 381.8,575.7C383.5,577.3 385.0,579.3 386.8,580.8C388.6,582.2 390.5,583.5 392.5,584.4C394.5,585.2 396.8,585.8 398.6,585.7C400.4,585.5 402.1,584.8 403.2,583.4C404.3,582.1 404.8,579.9 405.3,577.8C405.7,575.7 405.5,573.2 405.9,570.9C406.2,568.6 406.3,566.1 407.3,563.9C408.2,561.7 409.8,559.6 411.5,557.9C413.2,556.1 415.6,554.8 417.4,553.3C419.1,551.7 421.0,550.4 422.1,548.6C423.1,546.9 423.6,544.8 423.8,542.6C424.1,540.4 423.5,537.9 423.6,535.5C423.7,533.1 423.5,530.6 424.2,528.4C425.0,526.2 426.4,524.2 428.1,522.3C429.7,520.5 432.3,519.0 434.2,517.2C436.1,515.4 438.3,513.5 439.7,511.4C441.1,509.3 441.7,506.7 442.6,504.6C443.4,502.5 443.6,500.2 444.8,499.0C446.0,497.7 447.8,497.3 449.6,497.3C451.5,497.2 453.9,497.9 456.1,498.6C458.2,499.3 460.5,500.3 462.6,501.4C464.8,502.4 467.0,503.7 469.1,504.9C471.3,506.2 473.4,507.6 475.6,509.0C477.8,510.3 480.0,511.8 482.3,513.0C484.5,514.2 486.8,515.4 489.3,516.3C491.7,517.2 494.2,517.9 496.8,518.5C499.5,519.1 502.2,519.6 504.9,520.0C507.6,520.5 510.4,520.8 513.1,521.2C515.8,521.6 518.5,522.0 521.0,522.3C523.6,522.6 526.0,523.0 528.3,523.2C530.6,523.5 532.8,523.7 534.9,523.8C537.1,523.8 539.2,523.8 541.4,523.6C543.7,523.4 545.9,523.1 548.4,522.6C550.8,522.2 553.5,521.6 556.1,521.1C558.8,520.5 561.7,519.8 564.5,519.3C567.3,518.7 570.1,518.1 572.8,517.7C575.4,517.2 578.0,516.8 580.4,516.4C582.9,516.1 585.1,515.8 587.4,515.6C589.7,515.3 592.0,515.1 594.3,514.8C596.6,514.6 599.0,514.3 601.5,514.1C603.9,513.8 606.5,513.6 609.0,513.3C611.6,513.1 614.2,512.9 616.7,512.7C619.2,512.5 621.7,512.3 624.2,512.2C626.7,512.1 629.1,512.1 631.6,512.1C634.0,512.1 636.5,512.2 638.9,512.3C641.4,512.5 643.8,512.7 646.3,512.8C648.8,513.0 651.4,513.3 653.9,513.3C656.4,513.3 659.0,513.3 661.5,512.9C664.0,512.6 666.5,512.0 669.0,511.4C671.4,510.7 673.8,510.0 676.2,509.2C678.6,508.5 681.0,507.7 683.3,507.0C685.7,506.3 688.0,505.6 690.4,504.9C692.8,504.2 695.2,503.5 697.6,502.8C700.0,502.2 702.5,501.5 704.9,500.9C707.3,500.2 709.7,499.5 712.1,498.8C714.5,498.0 716.8,497.3 719.2,496.4C721.5,495.6 723.8,494.7 726.1,493.8C728.3,492.9 730.6,491.9 732.9,491.0C735.2,490.0 737.5,488.9 739.8,487.9C742.2,486.9 744.5,485.9 746.9,484.9C749.2,484.0 751.6,483.0 753.9,482.0C756.3,481.1 758.6,480.1 760.9,479.2C763.2,478.3 765.5,477.3 767.8,476.4C770.1,475.4 772.4,474.5 774.7,473.5C777.0,472.5 779.3,471.5 781.6,470.5C783.9,469.5 786.2,468.4 788.5,467.4C790.8,466.4 793.2,465.3 795.5,464.3C797.9,463.3 800.3,462.4 802.6,461.4C805.0,460.5 807.4,459.6 809.8,458.8C812.2,458.0 814.5,457.2 816.9,456.4C819.2,455.6 821.5,454.9 823.9,454.2C826.2,453.4 828.5,452.7 830.8,452.0C833.2,451.2 835.5,450.5 837.9,449.7C840.3,449.0 842.7,448.2 845.2,447.5C847.6,446.7 850.1,445.9 852.6,445.2C855.1,444.5 857.5,443.8 860.0,443.1C862.4,442.5 864.8,441.9 867.2,441.3C869.6,440.8 872.0,440.3 874.4,439.8C876.7,439.3 879.1,438.9 881.5,438.5C883.9,438.1 886.4,437.7 888.9,437.3C891.4,436.9 893.9,436.5 896.4,436.1C899.0,435.8 901.5,435.4 904.1,435.1C906.6,434.8 909.2,434.5 911.7,434.3C914.2,434.0 916.7,433.9 919.2,433.8C921.6,433.7 924.1,433.7 926.6,433.8C929.0,433.8 931.5,434.0 934.0,434.1C936.5,434.3 939.0,434.5 941.5,434.6C944.0,434.8 946.6,435.0 949.1,435.2C951.6,435.3 954.2,435.5 956.7,435.6C959.2,435.7 961.7,435.8 964.2,435.9C966.7,436.1 969.2,436.2 971.7,436.4C974.2,436.6 976.6,436.8 979.1,437.0C981.6,437.3 984.0,437.6 986.5,437.9C989.0,438.2 991.5,438.6 993.9,438.9C996.4,439.3 998.9,439.7 1001.4,440.0C1003.9,440.3 1006.5,440.7 1009.0,441.0C1011.5,441.3 1014.0,441.6 1016.5,441.8C1019.0,442.1 1021.5,442.3 1024.0,442.6C1026.4,442.9 1028.9,443.1 1031.4,443.5C1033.8,443.8 1036.3,444.1 1038.8,444.5C1041.2,444.9 1043.7,445.4 1046.1,445.8C1048.6,446.3 1051.1,446.8 1053.5,447.3C1056.0,447.8 1058.5,448.4 1061.0,448.8C1063.4,449.3 1065.9,449.8 1068.4,450.3C1070.9,450.7 1073.4,451.2 1075.8,451.6C1078.3,452.0 1080.8,452.4 1083.3,452.8C1085.7,453.2 1088.2,453.6 1090.6,454.1C1093.1,454.5 1095.5,455.0 1098.0,455.5C1100.4,455.9 1102.9,456.5 1105.3,457.0C1107.8,457.5 1110.2,458.0 1112.7,458.6C1115.1,459.1 1117.6,459.6 1120.0,460.2C1122.5,460.7 1124.9,461.2 1127.4,461.7C1129.8,462.3 1132.3,462.8 1134.7,463.3C1137.1,463.8 1139.6,464.3 1142.0,464.9C1144.4,465.5 1146.9,466.1 1149.3,466.7C1151.7,467.3 1154.3,468.0 1156.4,468.6C1158.5,469.1 1160.9,469.8 1161.9,470.1"/>
<path d="M150.9,489.6C151.6,489.3 153.3,488.4 155.0,487.9C156.7,487.4 159.0,486.4 161.2,486.5C163.4,486.6 165.9,487.3 168.3,488.3C170.7,489.2 173.1,490.8 175.5,492.3C177.8,493.9 180.4,495.5 182.6,497.4C184.8,499.3 186.8,501.4 188.7,503.5C190.7,505.5 192.2,507.9 194.2,509.6C196.2,511.3 198.4,512.7 200.9,513.4C203.4,514.2 206.5,513.9 209.3,514.0C212.0,514.1 214.8,513.8 217.3,513.9C219.8,514.0 222.1,514.1 224.3,514.5C226.5,514.8 228.5,515.0 230.5,515.9C232.4,516.8 234.2,518.3 235.9,519.9C237.7,521.5 239.3,523.7 241.1,525.6C242.9,527.5 244.7,529.6 246.7,531.2C248.7,532.8 250.8,534.1 253.0,535.3C255.1,536.4 257.4,537.5 259.6,538.2C261.9,538.8 264.1,539.3 266.5,539.4C268.8,539.5 271.4,538.8 273.8,538.8C276.2,538.8 278.8,538.8 280.9,539.6C283.1,540.4 284.8,542.0 286.7,543.5C288.6,545.0 290.2,546.9 292.2,548.6C294.1,550.2 296.1,551.8 298.1,553.5C300.2,555.2 302.2,557.1 304.2,558.7C306.3,560.3 308.4,562.2 310.5,563.2C312.7,564.2 315.0,564.6 317.2,564.7C319.4,564.8 321.4,564.0 323.6,564.0C325.7,564.0 327.9,564.2 330.1,564.7C332.3,565.2 334.5,566.1 336.7,567.0C338.9,567.9 341.1,568.8 343.2,570.1C345.2,571.4 347.1,573.0 348.8,574.8C350.6,576.6 352.0,578.9 353.8,580.7C355.5,582.5 357.2,584.5 359.4,585.7C361.5,587.0 364.1,587.7 366.6,588.4C369.2,589.1 372.1,589.6 374.7,590.1C377.4,590.6 380.2,591.1 382.8,591.5C385.4,591.9 388.0,592.0 390.4,592.5C392.7,593.1 394.8,594.0 396.9,595.0C399.0,596.0 400.8,597.5 402.9,598.6C405.0,599.7 407.4,601.0 409.5,601.5C411.6,602.1 414.0,602.6 415.6,602.0C417.2,601.5 418.4,600.0 419.1,598.3C419.8,596.6 419.7,594.0 419.8,591.8C420.0,589.5 419.5,587.0 419.9,584.7C420.3,582.5 421.0,580.3 422.3,578.4C423.7,576.5 426.1,575.0 428.1,573.4C430.2,571.8 433.0,570.5 434.9,568.8C436.7,567.1 438.5,565.2 439.4,563.1C440.4,561.0 440.4,558.6 440.5,556.3C440.7,554.0 440.0,551.5 440.2,549.2C440.3,546.9 440.6,544.6 441.7,542.4C442.7,540.2 444.6,538.2 446.5,536.1C448.3,534.1 450.9,532.2 452.7,530.2C454.5,528.1 456.1,525.8 457.4,523.8C458.7,521.8 459.2,519.5 460.5,518.2C461.8,516.9 463.5,516.2 465.4,516.2C467.3,516.1 469.8,517.0 471.9,518.0C474.1,518.9 476.3,520.4 478.4,521.9C480.5,523.4 482.5,525.1 484.5,526.8C486.5,528.5 488.4,530.3 490.3,531.9C492.3,533.5 494.2,535.1 496.2,536.3C498.1,537.6 500.1,538.7 502.3,539.4C504.4,540.2 506.6,540.6 509.1,540.9C511.5,541.2 514.1,541.3 516.8,541.5C519.5,541.7 522.4,541.8 525.2,541.9C528.1,542.1 531.0,542.2 533.9,542.3C536.7,542.4 539.5,542.4 542.1,542.4C544.7,542.4 547.2,542.3 549.5,542.1C551.9,541.9 554.1,541.6 556.4,541.3C558.7,541.1 560.9,540.7 563.2,540.4C565.5,540.1 568.0,539.7 570.5,539.5C573.0,539.2 575.6,539.0 578.3,538.8C580.9,538.5 583.6,538.4 586.2,538.2C588.8,538.0 591.3,537.8 593.8,537.5C596.2,537.3 598.5,536.9 600.9,536.5C603.2,536.2 605.5,535.7 607.9,535.2C610.2,534.8 612.6,534.2 615.1,533.8C617.5,533.3 620.1,532.8 622.6,532.4C625.1,532.0 627.7,531.6 630.2,531.3C632.8,531.1 635.3,530.9 637.8,530.8C640.4,530.7 642.8,530.8 645.3,530.8C647.8,530.8 650.3,531.1 652.8,531.1C655.2,531.1 657.7,531.2 660.2,531.0C662.7,530.8 665.1,530.3 667.6,529.8C670.1,529.3 672.6,528.6 675.1,528.0C677.6,527.4 680.1,526.7 682.5,526.0C684.9,525.4 687.3,524.7 689.7,524.0C692.1,523.4 694.4,522.7 696.7,522.1C699.0,521.4 701.4,520.8 703.7,520.1C706.1,519.5 708.4,518.8 710.8,518.1C713.2,517.3 715.7,516.6 718.1,515.8C720.5,514.9 722.9,514.1 725.3,513.1C727.6,512.2 730.0,511.3 732.3,510.3C734.7,509.3 736.9,508.3 739.2,507.3C741.5,506.3 743.8,505.2 746.1,504.3C748.4,503.3 750.7,502.3 753.1,501.4C755.4,500.4 757.8,499.5 760.1,498.6C762.5,497.7 764.9,496.9 767.2,496.0C769.6,495.1 771.9,494.2 774.3,493.3C776.6,492.4 779.0,491.4 781.3,490.5C783.6,489.6 786.0,488.6 788.3,487.6C790.6,486.7 792.9,485.7 795.2,484.8C797.5,483.8 799.8,482.9 802.2,482.0C804.5,481.1 806.8,480.3 809.2,479.5C811.6,478.7 814.0,477.9 816.4,477.1C818.8,476.4 821.2,475.7 823.6,474.9C826.0,474.2 828.4,473.5 830.8,472.7C833.1,472.0 835.5,471.2 837.8,470.4C840.2,469.6 842.5,468.8 844.8,468.0C847.1,467.2 849.5,466.4 851.9,465.6C854.2,464.8 856.7,464.0 859.1,463.3C861.6,462.6 864.1,461.9 866.6,461.3C869.0,460.7 871.6,460.1 874.0,459.6C876.5,459.0 878.9,458.6 881.3,458.1C883.8,457.6 886.2,457.2 888.6,456.7C891.0,456.3 893.4,455.9 895.8,455.5C898.2,455.0 900.7,454.6 903.2,454.2C905.7,453.9 908.2,453.5 910.8,453.2C913.3,452.9 915.9,452.6 918.4,452.5C921.0,452.3 923.5,452.2 926.1,452.1C928.6,452.0 931.1,452.1 933.6,452.1C936.1,452.1 938.6,452.2 941.0,452.3C943.5,452.4 946.0,452.5 948.5,452.6C951.0,452.7 953.4,452.8 955.9,452.9C958.4,453.0 960.9,453.0 963.5,453.1C966.0,453.2 968.5,453.2 971.0,453.3C973.5,453.5 976.0,453.6 978.5,453.8C981.0,454.0 983.5,454.2 985.9,454.5C988.4,454.8 990.9,455.1 993.4,455.4C995.8,455.7 998.3,456.0 1000.8,456.3C1003.3,456.6 1005.8,456.9 1008.3,457.2C1010.8,457.4 1013.3,457.7 1015.9,457.9C1018.4,458.1 1020.9,458.3 1023.4,458.5C1026.0,458.8 1028.5,459.0 1031.0,459.3C1033.5,459.6 1036.0,459.9 1038.5,460.2C1040.9,460.6 1043.4,461.0 1045.9,461.4C1048.3,461.9 1050.8,462.4 1053.2,462.8C1055.6,463.3 1058.1,463.8 1060.5,464.2C1063.0,464.7 1065.4,465.1 1067.9,465.5C1070.3,465.9 1072.8,466.3 1075.3,466.6C1077.7,467.0 1080.2,467.3 1082.7,467.6C1085.2,468.0 1087.7,468.3 1090.2,468.7C1092.7,469.0 1095.2,469.4 1097.7,469.8C1100.2,470.3 1102.7,470.7 1105.1,471.2C1107.6,471.7 1110.1,472.2 1112.6,472.7C1115.1,473.2 1117.5,473.8 1120.0,474.3C1122.5,474.8 1124.9,475.3 1127.4,475.8C1129.8,476.3 1132.3,476.8 1134.7,477.3C1137.1,477.8 1139.6,478.3 1142.0,478.8C1144.4,479.3 1146.9,479.9 1149.3,480.4C1151.7,480.9 1154.3,481.6 1156.3,482.0C1158.4,482.5 1160.8,483.1 1161.7,483.3"/>
<path d="M151.5,522.5C152.5,522.8 155.1,523.7 157.4,524.5C159.6,525.3 162.3,526.7 164.9,527.4C167.5,528.2 170.4,528.7 173.0,528.9C175.6,529.1 178.3,528.4 180.5,528.6C182.8,528.9 184.6,529.3 186.5,530.3C188.4,531.2 190.1,533.0 191.9,534.4C193.7,535.7 195.5,537.1 197.2,538.5C199.0,539.8 200.7,540.9 202.4,542.2C204.2,543.5 205.8,545.1 207.6,546.2C209.4,547.2 211.1,548.3 213.1,548.7C215.0,549.1 217.0,548.5 219.4,548.4C221.7,548.2 224.4,547.7 227.2,547.8C230.0,548.0 233.1,548.6 236.0,549.3C239.0,550.0 242.1,550.8 244.8,551.9C247.4,553.0 249.9,554.4 252.0,556.1C254.1,557.7 255.7,559.9 257.6,561.6C259.4,563.4 261.0,565.3 263.0,566.6C264.9,567.8 267.2,568.5 269.3,569.0C271.4,569.6 273.6,569.6 275.7,569.8C277.8,569.9 279.8,570.0 281.9,570.0C284.0,569.9 286.2,569.3 288.4,569.4C290.6,569.5 293.0,569.8 295.1,570.8C297.3,571.8 299.3,573.7 301.4,575.4C303.5,577.0 305.5,579.1 307.7,580.7C310.0,582.3 312.4,583.7 314.9,585.0C317.3,586.3 319.8,587.6 322.2,588.5C324.7,589.5 327.1,590.5 329.6,590.8C332.0,591.0 334.6,590.4 336.8,590.0C339.1,589.6 341.1,588.5 343.1,588.5C345.1,588.6 346.9,589.3 348.8,590.3C350.7,591.2 352.5,592.8 354.4,594.3C356.3,595.8 358.2,597.4 360.0,599.2C361.8,600.9 363.5,602.9 365.3,604.7C367.1,606.5 368.8,608.7 370.7,609.9C372.6,611.1 374.6,611.9 377.0,612.1C379.3,612.4 381.9,611.6 384.6,611.3C387.4,611.0 390.4,610.5 393.3,610.4C396.1,610.2 399.2,610.2 401.9,610.6C404.6,610.9 407.3,611.5 409.7,612.5C412.2,613.6 414.2,615.4 416.4,616.8C418.6,618.3 420.7,620.3 422.8,621.2C424.9,622.1 427.3,622.7 428.9,622.2C430.5,621.6 431.8,619.7 432.6,617.8C433.4,615.8 433.3,613.0 433.5,610.6C433.7,608.1 433.3,605.3 433.8,602.9C434.3,600.6 435.1,598.3 436.6,596.3C438.0,594.3 440.4,592.8 442.6,591.2C444.8,589.6 447.6,588.4 449.6,586.6C451.7,584.9 453.7,583.0 454.9,580.9C456.1,578.7 456.5,576.1 456.8,573.6C457.2,571.1 456.7,568.3 457.0,565.8C457.3,563.4 457.6,560.9 458.6,558.8C459.5,556.7 461.2,555.0 462.8,553.3C464.5,551.5 466.8,550.0 468.6,548.3C470.4,546.5 472.0,544.2 473.6,542.6C475.2,541.1 476.4,539.4 478.2,539.0C480.0,538.6 482.2,539.3 484.3,540.2C486.3,541.1 488.5,542.8 490.6,544.2C492.6,545.6 494.5,547.2 496.4,548.6C498.4,550.0 500.2,551.4 502.1,552.6C504.1,553.8 506.0,554.9 508.0,555.9C510.0,556.8 512.0,557.7 514.1,558.3C516.2,559.0 518.3,559.4 520.6,559.8C522.9,560.3 525.2,560.5 527.7,560.7C530.2,561.0 532.8,561.2 535.6,561.5C538.3,561.7 541.2,561.9 544.0,562.0C546.8,562.1 549.8,562.2 552.5,562.2C555.3,562.2 558.0,562.2 560.6,562.1C563.1,561.9 565.5,561.8 567.8,561.6C570.2,561.4 572.3,561.2 574.6,561.0C576.9,560.9 579.1,560.7 581.4,560.5C583.8,560.3 586.2,560.1 588.7,559.8C591.2,559.5 593.8,559.2 596.3,558.7C598.9,558.3 601.5,557.7 604.0,557.1C606.5,556.6 608.9,555.9 611.4,555.2C613.8,554.5 616.2,553.8 618.6,553.1C621.0,552.5 623.4,551.9 625.9,551.3C628.4,550.8 630.9,550.4 633.4,550.1C636.0,549.8 638.6,549.6 641.1,549.5C643.7,549.4 646.3,549.4 648.8,549.4C651.4,549.4 653.9,549.6 656.4,549.6C658.9,549.5 661.3,549.4 663.7,549.1C666.1,548.7 668.5,548.2 670.9,547.7C673.3,547.1 675.7,546.5 678.2,545.8C680.6,545.2 683.1,544.5 685.6,543.9C688.0,543.2 690.5,542.5 693.0,541.9C695.4,541.2 697.8,540.5 700.2,539.9C702.6,539.2 704.9,538.5 707.2,537.8C709.6,537.1 711.9,536.3 714.2,535.6C716.5,534.8 718.9,533.9 721.3,533.1C723.6,532.2 726.0,531.3 728.5,530.3C730.9,529.4 733.3,528.4 735.7,527.4C738.1,526.5 740.5,525.5 742.9,524.5C745.2,523.6 747.6,522.6 749.9,521.7C752.2,520.8 754.5,519.9 756.9,519.1C759.2,518.3 761.5,517.5 763.8,516.6C766.2,515.8 768.5,515.0 770.9,514.2C773.2,513.4 775.6,512.6 778.0,511.7C780.4,510.8 782.8,510.0 785.1,509.1C787.5,508.2 789.9,507.2 792.3,506.3C794.6,505.4 797.0,504.5 799.3,503.6C801.7,502.8 804.0,501.9 806.3,501.0C808.6,500.2 810.9,499.4 813.3,498.6C815.6,497.8 817.9,497.1 820.3,496.3C822.6,495.6 825.0,494.8 827.4,494.0C829.8,493.3 832.3,492.5 834.7,491.7C837.1,490.9 839.6,490.0 842.0,489.2C844.4,488.4 846.8,487.5 849.1,486.7C851.5,485.8 853.8,485.0 856.2,484.2C858.5,483.4 860.8,482.7 863.2,482.0C865.6,481.3 868.0,480.6 870.4,480.0C872.9,479.4 875.4,478.9 877.9,478.4C880.4,477.9 882.9,477.4 885.4,477.0C888.0,476.5 890.5,476.1 892.9,475.6C895.4,475.2 897.9,474.7 900.3,474.3C902.8,473.8 905.2,473.4 907.6,473.0C910.0,472.6 912.5,472.2 915.0,471.9C917.4,471.6 920.0,471.3 922.5,471.1C925.0,470.9 927.6,470.8 930.1,470.7C932.6,470.6 935.2,470.5 937.7,470.5C940.3,470.4 942.8,470.4 945.3,470.4C947.8,470.4 950.3,470.4 952.7,470.4C955.2,470.4 957.7,470.4 960.2,470.4C962.6,470.5 965.1,470.5 967.6,470.5C970.1,470.5 972.6,470.6 975.1,470.7C977.6,470.8 980.2,471.0 982.7,471.2C985.2,471.4 987.7,471.6 990.3,471.9C992.8,472.1 995.3,472.4 997.8,472.7C1000.3,472.9 1002.8,473.2 1005.3,473.4C1007.7,473.7 1010.2,473.9 1012.7,474.1C1015.2,474.3 1017.7,474.5 1020.2,474.7C1022.7,474.9 1025.2,475.1 1027.7,475.3C1030.2,475.5 1032.7,475.7 1035.3,476.0C1037.8,476.3 1040.3,476.7 1042.8,477.1C1045.3,477.4 1047.8,477.8 1050.3,478.3C1052.8,478.7 1055.3,479.1 1057.7,479.5C1060.2,479.9 1062.7,480.3 1065.1,480.7C1067.6,481.1 1070.0,481.4 1072.5,481.7C1074.9,482.0 1077.4,482.3 1079.8,482.5C1082.3,482.8 1084.8,483.1 1087.3,483.4C1089.7,483.7 1092.2,484.0 1094.7,484.3C1097.2,484.7 1099.7,485.1 1102.2,485.5C1104.7,486.0 1107.2,486.4 1109.7,486.9C1112.2,487.4 1114.7,488.0 1117.2,488.5C1119.7,489.0 1122.2,489.5 1124.7,490.0C1127.2,490.5 1129.6,491.0 1132.1,491.4C1134.6,491.9 1137.0,492.3 1139.5,492.8C1142.0,493.2 1144.4,493.7 1146.9,494.1C1149.3,494.6 1151.9,495.1 1154.1,495.5C1156.4,495.9 1159.4,496.6 1160.4,496.8"/>
<path d="M153.0,555.0C153.7,555.6 155.6,557.2 157.2,558.5C158.7,559.8 160.6,561.6 162.4,562.9C164.2,564.2 166.0,565.3 167.8,566.2C169.6,567.2 171.4,568.0 173.3,568.8C175.2,569.6 177.0,570.6 179.1,571.1C181.1,571.5 183.2,571.4 185.7,571.3C188.2,571.1 191.2,570.3 194.0,570.3C196.7,570.3 199.6,570.7 202.3,571.3C205.0,571.9 207.5,573.0 210.0,573.9C212.6,574.8 215.2,575.6 217.6,576.6C220.0,577.6 222.3,578.9 224.5,580.1C226.7,581.3 228.7,583.1 230.8,584.1C232.9,585.1 235.1,585.7 237.1,586.0C239.2,586.3 241.0,585.7 242.9,585.8C244.8,585.9 246.7,586.2 248.7,586.6C250.8,587.0 253.1,587.7 255.3,588.2C257.6,588.8 260.1,589.1 262.2,589.9C264.4,590.8 266.3,592.0 268.3,593.2C270.3,594.4 271.9,596.1 273.9,597.2C276.0,598.3 278.3,599.1 280.7,599.6C283.2,600.1 286.0,600.1 288.6,600.3C291.2,600.6 293.9,600.9 296.3,601.1C298.7,601.3 300.9,601.3 303.1,601.4C305.4,601.6 307.5,601.3 309.6,601.8C311.8,602.4 314.0,603.5 316.0,604.7C318.0,605.9 319.8,607.7 321.9,609.0C323.9,610.3 325.9,611.4 328.1,612.4C330.2,613.3 332.6,614.1 334.9,614.9C337.2,615.6 339.5,616.7 342.0,617.1C344.5,617.5 347.3,617.4 349.9,617.3C352.4,617.2 355.1,616.4 357.5,616.5C359.8,616.6 361.8,617.2 363.9,618.1C366.1,618.9 368.1,620.4 370.2,621.5C372.3,622.6 374.4,623.6 376.5,624.7C378.6,625.7 380.7,626.8 382.7,627.8C384.8,628.9 386.7,630.3 388.8,631.0C390.8,631.7 392.7,632.1 394.8,632.0C396.9,632.0 399.0,630.9 401.3,630.7C403.6,630.5 406.3,630.3 408.8,630.7C411.4,631.1 414.1,632.0 416.6,633.0C419.1,634.0 421.6,635.4 424.0,636.7C426.3,638.0 428.5,640.0 430.7,641.0C432.9,642.0 435.3,643.1 437.3,642.9C439.4,642.7 441.5,641.3 443.0,639.7C444.4,638.0 445.2,635.4 445.8,633.0C446.4,630.7 446.2,627.9 446.6,625.5C447.0,623.0 447.2,620.5 448.2,618.3C449.2,616.2 450.7,614.4 452.6,612.8C454.4,611.2 457.0,610.2 459.2,608.8C461.5,607.4 464.2,606.3 466.0,604.6C467.9,602.9 469.4,600.9 470.3,598.8C471.3,596.6 471.3,594.0 471.7,591.6C472.1,589.2 472.0,586.6 472.6,584.5C473.2,582.4 474.0,580.6 475.2,578.8C476.4,577.1 478.1,575.9 479.7,574.2C481.4,572.5 483.2,570.6 485.0,568.9C486.8,567.3 488.4,565.3 490.4,564.4C492.4,563.6 494.7,563.6 496.9,563.8C499.2,564.0 501.6,564.8 503.8,565.5C506.0,566.2 508.2,567.0 510.3,567.9C512.4,568.7 514.5,569.7 516.6,570.7C518.7,571.7 520.8,572.8 523.0,574.0C525.1,575.2 527.2,576.5 529.4,577.7C531.5,578.8 533.7,580.1 535.9,581.0C538.0,582.0 540.2,582.8 542.4,583.3C544.7,583.9 546.9,584.2 549.3,584.4C551.7,584.6 554.3,584.7 556.9,584.6C559.5,584.6 562.2,584.4 564.9,584.2C567.5,584.0 570.3,583.7 572.9,583.4C575.5,583.1 578.0,582.8 580.4,582.5C582.9,582.1 585.2,581.8 587.5,581.4C589.9,581.0 592.1,580.6 594.5,580.1C596.8,579.6 599.2,579.0 601.7,578.4C604.1,577.7 606.6,576.9 609.1,576.2C611.6,575.4 614.2,574.6 616.7,573.9C619.2,573.1 621.7,572.3 624.2,571.7C626.6,571.1 629.0,570.5 631.5,570.0C633.9,569.6 636.3,569.2 638.8,569.0C641.3,568.7 643.8,568.6 646.3,568.5C648.8,568.4 651.4,568.5 653.9,568.4C656.5,568.3 659.0,568.3 661.5,568.0C664.0,567.7 666.5,567.3 668.9,566.8C671.3,566.3 673.6,565.6 676.0,565.0C678.4,564.4 680.7,563.7 683.1,563.0C685.5,562.3 687.8,561.6 690.3,560.9C692.7,560.2 695.2,559.5 697.6,558.7C700.1,558.0 702.6,557.4 705.0,556.6C707.4,555.9 709.9,555.2 712.2,554.5C714.6,553.7 717.0,553.0 719.3,552.1C721.7,551.3 724.0,550.5 726.3,549.6C728.6,548.7 731.0,547.8 733.3,546.9C735.7,546.0 738.1,545.1 740.5,544.2C742.9,543.3 745.3,542.4 747.8,541.6C750.2,540.8 752.6,540.0 755.0,539.2C757.4,538.4 759.7,537.7 762.1,536.9C764.4,536.2 766.7,535.5 769.1,534.7C771.4,534.0 773.7,533.2 776.1,532.4C778.4,531.6 780.7,530.8 783.1,529.9C785.4,529.1 787.8,528.2 790.1,527.3C792.5,526.4 794.9,525.5 797.2,524.6C799.6,523.7 802.0,522.8 804.4,521.9C806.8,521.1 809.2,520.2 811.5,519.4C813.9,518.6 816.2,517.8 818.6,517.0C820.9,516.2 823.2,515.4 825.5,514.6C827.8,513.8 830.1,513.1 832.5,512.3C834.8,511.4 837.2,510.6 839.6,509.8C842.0,508.9 844.4,508.1 846.9,507.2C849.3,506.4 851.8,505.5 854.2,504.8C856.7,504.0 859.1,503.2 861.5,502.5C863.9,501.8 866.3,501.1 868.7,500.5C871.1,499.9 873.4,499.3 875.8,498.8C878.2,498.3 880.5,497.8 883.0,497.3C885.4,496.8 887.9,496.4 890.4,495.9C892.9,495.4 895.4,495.0 898.0,494.5C900.5,494.0 903.0,493.5 905.5,493.0C908.0,492.6 910.5,492.1 913.0,491.7C915.4,491.3 917.8,490.9 920.3,490.5C922.7,490.2 925.1,489.9 927.6,489.7C930.1,489.5 932.5,489.3 935.0,489.2C937.5,489.0 940.0,488.9 942.5,488.8C945.1,488.7 947.6,488.6 950.1,488.5C952.6,488.4 955.2,488.3 957.7,488.3C960.2,488.2 962.6,488.1 965.1,488.1C967.6,488.0 970.1,488.0 972.6,488.1C975.1,488.1 977.6,488.2 980.1,488.3C982.6,488.4 985.1,488.6 987.6,488.8C990.1,489.0 992.7,489.2 995.2,489.4C997.7,489.7 1000.3,489.9 1002.8,490.1C1005.3,490.3 1007.8,490.6 1010.3,490.7C1012.8,490.9 1015.3,491.1 1017.8,491.3C1020.3,491.4 1022.7,491.6 1025.2,491.7C1027.6,491.9 1030.1,492.1 1032.6,492.3C1035.0,492.6 1037.5,492.8 1040.0,493.1C1042.5,493.5 1045.0,493.8 1047.5,494.2C1050.0,494.5 1052.5,494.9 1055.0,495.3C1057.5,495.6 1060.0,496.0 1062.5,496.3C1065.1,496.6 1067.6,496.9 1070.1,497.2C1072.5,497.5 1075.0,497.7 1077.5,497.9C1080.0,498.1 1082.5,498.3 1084.9,498.6C1087.4,498.8 1089.9,499.1 1092.3,499.4C1094.8,499.7 1097.3,500.1 1099.7,500.5C1102.2,500.9 1104.7,501.3 1107.1,501.8C1109.6,502.3 1112.1,502.8 1114.6,503.3C1117.0,503.8 1119.5,504.3 1122.0,504.8C1124.5,505.2 1126.9,505.7 1129.4,506.1C1131.9,506.5 1134.4,506.9 1136.8,507.3C1139.3,507.7 1141.8,508.0 1144.3,508.4C1146.8,508.7 1149.3,509.1 1151.7,509.5C1154.1,509.8 1157.5,510.4 1158.6,510.6"/>
<path d="M150.2,597.7C151.2,597.5 153.7,596.9 156.1,596.4C158.4,595.8 161.7,594.7 164.3,594.6C166.8,594.5 169.2,595.0 171.5,595.8C173.7,596.6 175.4,598.2 177.6,599.5C179.7,600.8 182.0,602.2 184.5,603.4C186.9,604.6 189.7,605.7 192.2,606.8C194.7,607.9 197.2,609.2 199.5,609.8C201.7,610.4 203.7,610.5 205.5,610.2C207.4,610.0 208.8,608.7 210.6,608.4C212.5,608.1 214.5,607.9 216.6,608.3C218.7,608.8 220.9,609.9 223.1,610.8C225.3,611.7 227.6,612.7 229.8,613.8C232.0,614.9 234.2,616.2 236.4,617.5C238.5,618.8 240.4,620.7 242.7,621.7C244.9,622.8 247.4,623.6 249.9,623.8C252.3,624.0 255.1,623.2 257.5,622.9C260.0,622.6 262.2,622.1 264.5,621.9C266.8,621.7 269.0,621.6 271.2,621.7C273.5,621.7 275.9,621.6 278.1,622.1C280.3,622.6 282.6,623.6 284.7,624.7C286.8,625.9 288.7,627.8 290.9,629.0C293.1,630.2 295.3,631.4 297.8,632.1C300.3,632.8 303.2,632.9 305.9,633.2C308.6,633.5 311.6,633.8 314.1,633.8C316.6,633.8 319.0,633.5 321.1,633.3C323.3,633.0 325.0,632.2 326.8,632.3C328.7,632.4 330.4,633.1 332.1,634.0C333.9,634.9 335.5,636.5 337.4,637.6C339.2,638.7 341.1,639.7 343.2,640.6C345.3,641.4 347.5,642.2 349.9,643.0C352.2,643.7 354.7,644.7 357.3,645.0C360.0,645.3 362.9,645.0 365.8,644.7C368.7,644.3 371.8,643.2 374.6,643.0C377.4,642.8 380.0,642.9 382.5,643.2C385.0,643.5 387.4,644.4 389.7,645.0C392.0,645.7 394.2,646.2 396.3,647.1C398.4,648.0 400.4,649.2 402.3,650.4C404.2,651.6 406.0,653.3 407.9,654.2C409.7,655.0 411.5,655.4 413.3,655.6C415.2,655.7 417.0,655.1 419.0,655.2C421.1,655.3 423.4,655.7 425.7,656.1C428.1,656.5 430.6,657.3 433.1,657.8C435.5,658.3 438.1,658.8 440.6,659.0C443.1,659.2 445.7,659.6 448.0,659.0C450.3,658.5 452.7,657.2 454.5,655.6C456.3,654.0 457.6,651.6 458.6,649.4C459.6,647.2 459.9,644.7 460.5,642.5C461.1,640.2 461.3,637.8 462.3,635.9C463.3,634.0 464.7,632.3 466.4,631.0C468.1,629.6 470.4,628.8 472.6,627.7C474.8,626.5 477.4,625.6 479.4,624.1C481.4,622.6 483.3,620.7 484.4,618.7C485.6,616.7 486.0,614.3 486.6,612.1C487.1,609.9 487.2,607.5 487.8,605.4C488.4,603.2 489.1,601.3 490.1,599.3C491.2,597.4 492.5,595.7 494.0,593.8C495.4,591.9 497.1,589.7 498.8,588.0C500.6,586.2 502.5,584.3 504.7,583.3C506.9,582.3 509.6,582.0 512.1,582.1C514.6,582.2 517.3,582.9 519.7,583.9C522.1,584.8 524.3,586.1 526.5,587.6C528.8,589.0 530.8,590.8 532.9,592.5C535.0,594.3 537.1,596.2 539.1,597.9C541.2,599.6 543.2,601.4 545.3,602.8C547.4,604.1 549.6,605.3 551.7,606.0C553.9,606.7 556.0,606.8 558.2,606.8C560.4,606.9 562.6,606.4 565.0,606.1C567.3,605.8 569.7,605.3 572.2,604.8C574.8,604.4 577.4,603.9 580.1,603.5C582.7,603.0 585.4,602.7 588.0,602.2C590.6,601.8 593.2,601.4 595.7,600.9C598.2,600.4 600.5,599.8 602.9,599.2C605.3,598.5 607.6,597.8 609.9,597.0C612.3,596.3 614.7,595.5 617.1,594.7C619.5,593.9 622.0,593.2 624.5,592.5C627.0,591.8 629.5,591.1 632.0,590.6C634.4,590.0 636.9,589.5 639.3,589.1C641.7,588.7 644.1,588.4 646.5,588.2C648.9,587.9 651.3,587.7 653.7,587.4C656.2,587.2 658.6,587.0 661.1,586.6C663.6,586.2 666.1,585.8 668.6,585.2C671.1,584.7 673.7,584.1 676.1,583.4C678.6,582.8 681.0,582.1 683.4,581.4C685.8,580.7 688.2,580.0 690.6,579.3C692.9,578.6 695.3,577.9 697.7,577.3C700.0,576.6 702.5,576.0 704.9,575.4C707.3,574.7 709.8,574.1 712.3,573.5C714.8,572.8 717.3,572.2 719.7,571.5C722.2,570.8 724.7,570.1 727.1,569.4C729.5,568.6 731.9,567.9 734.2,567.1C736.6,566.3 738.9,565.6 741.3,564.8C743.7,564.1 746.0,563.3 748.4,562.6C750.8,561.9 753.2,561.2 755.6,560.6C758.0,559.9 760.4,559.3 762.8,558.6C765.3,558.0 767.7,557.3 770.1,556.7C772.5,556.0 774.9,555.3 777.3,554.6C779.7,553.8 782.0,553.0 784.4,552.2C786.7,551.4 789.1,550.5 791.4,549.7C793.8,548.8 796.1,547.9 798.5,547.0C800.8,546.2 803.2,545.3 805.5,544.5C807.9,543.6 810.3,542.8 812.7,542.0C815.1,541.3 817.5,540.5 820.0,539.8C822.4,539.1 824.8,538.4 827.2,537.6C829.7,536.9 832.1,536.2 834.5,535.5C836.8,534.7 839.2,534.0 841.5,533.2C843.9,532.5 846.2,531.7 848.6,531.0C851.0,530.2 853.4,529.5 855.8,528.8C858.2,528.1 860.7,527.4 863.2,526.8C865.6,526.2 868.2,525.6 870.7,525.1C873.2,524.6 875.7,524.1 878.1,523.6C880.6,523.2 883.0,522.7 885.4,522.3C887.8,521.8 890.2,521.4 892.6,520.9C895.0,520.4 897.4,519.9 899.8,519.4C902.3,518.9 904.7,518.4 907.2,517.9C909.7,517.4 912.2,516.9 914.7,516.4C917.2,516.0 919.8,515.5 922.3,515.2C924.8,514.8 927.3,514.5 929.8,514.3C932.2,514.0 934.7,513.8 937.2,513.6C939.6,513.4 942.1,513.3 944.5,513.2C947.0,513.0 949.5,512.9 952.0,512.7C954.5,512.6 957.0,512.5 959.5,512.3C962.0,512.2 964.6,512.1 967.1,512.0C969.6,511.9 972.2,511.8 974.7,511.8C977.2,511.8 979.7,511.8 982.2,511.9C984.7,512.0 987.2,512.2 989.7,512.3C992.2,512.5 994.7,512.7 997.2,512.8C999.7,513.0 1002.2,513.2 1004.7,513.4C1007.2,513.6 1009.7,513.7 1012.2,513.9C1014.8,514.0 1017.3,514.1 1019.8,514.3C1022.3,514.4 1024.8,514.5 1027.3,514.6C1029.8,514.8 1032.3,514.9 1034.8,515.1C1037.3,515.3 1039.7,515.5 1042.2,515.7C1044.6,516.0 1047.1,516.3 1049.5,516.5C1052.0,516.8 1054.5,517.1 1056.9,517.4C1059.4,517.7 1061.9,518.0 1064.4,518.2C1066.9,518.4 1069.5,518.7 1072.0,518.9C1074.5,519.1 1077.1,519.2 1079.6,519.4C1082.1,519.6 1084.7,519.8 1087.2,520.0C1089.7,520.3 1092.2,520.5 1094.7,520.8C1097.2,521.2 1099.7,521.5 1102.2,521.9C1104.6,522.3 1107.1,522.8 1109.6,523.2C1112.0,523.6 1114.5,524.1 1116.9,524.5C1119.4,524.9 1121.8,525.4 1124.3,525.7C1126.8,526.1 1129.2,526.4 1131.7,526.7C1134.1,527.0 1136.6,527.2 1139.1,527.5C1141.5,527.7 1144.0,527.9 1146.5,528.2C1148.9,528.5 1151.6,528.8 1153.9,529.0C1156.2,529.3 1159.3,529.8 1160.3,529.9"/>
<path d="M153.4,629.7C154.2,629.6 156.7,629.3 158.6,628.9C160.5,628.5 162.6,627.6 164.6,627.2C166.6,626.9 168.5,626.3 170.5,626.8C172.5,627.3 174.5,628.7 176.5,630.2C178.5,631.7 180.5,634.0 182.5,635.7C184.6,637.4 186.7,639.2 188.9,640.6C191.2,641.9 193.6,643.1 196.1,644.0C198.6,644.9 201.1,645.8 203.8,645.9C206.5,646.0 209.6,645.2 212.3,644.6C215.1,644.0 218.0,642.5 220.4,642.2C222.8,641.9 224.8,642.1 226.9,642.6C229.0,643.1 230.8,644.3 232.8,645.3C234.8,646.3 236.8,647.3 238.8,648.5C240.8,649.8 242.8,651.3 244.8,652.7C246.8,654.1 248.8,656.0 250.9,656.9C252.9,657.7 254.9,658.1 257.2,658.0C259.4,658.0 261.8,657.0 264.3,656.7C266.9,656.3 269.8,656.1 272.5,656.1C275.2,656.1 278.1,656.2 280.8,656.5C283.4,656.8 285.9,657.0 288.2,657.8C290.5,658.6 292.4,660.0 294.3,661.3C296.3,662.6 298.1,664.4 299.9,665.4C301.8,666.4 303.7,666.9 305.6,667.2C307.6,667.5 309.4,667.3 311.6,667.2C313.7,667.1 316.1,666.9 318.6,666.5C321.2,666.0 324.1,665.0 326.9,664.5C329.6,664.0 332.5,663.2 335.1,663.4C337.6,663.6 339.8,664.6 342.1,665.4C344.5,666.3 346.7,667.6 349.1,668.4C351.5,669.2 354.1,669.8 356.4,670.4C358.8,671.0 361.2,671.8 363.3,672.2C365.4,672.6 367.2,672.9 369.0,672.7C370.9,672.5 372.3,671.3 374.3,670.7C376.3,670.1 378.6,669.2 381.0,669.1C383.4,669.0 386.0,669.7 388.5,670.2C391.0,670.8 393.5,671.6 395.9,672.5C398.4,673.3 400.9,674.1 403.2,675.2C405.5,676.2 407.6,677.8 409.9,678.7C412.2,679.6 414.6,680.5 416.9,680.6C419.2,680.7 421.5,679.9 423.7,679.5C425.9,679.1 427.8,678.5 430.0,678.3C432.2,678.1 434.4,678.3 436.7,678.4C439.0,678.4 441.5,678.5 443.9,678.4C446.2,678.3 448.7,678.3 450.8,677.6C452.9,676.9 454.9,675.7 456.7,674.1C458.5,672.5 459.9,670.1 461.4,668.0C462.8,665.9 464.0,663.4 465.4,661.3C466.8,659.2 468.3,657.0 470.0,655.4C471.8,653.8 473.9,652.7 475.9,651.8C477.8,650.9 480.1,650.7 481.9,649.9C483.8,649.1 485.6,648.4 487.1,647.0C488.6,645.5 489.7,643.5 490.7,641.3C491.7,639.2 492.3,636.5 493.2,634.2C494.2,631.8 495.1,629.3 496.4,627.1C497.8,624.9 499.7,623.0 501.4,621.2C503.1,619.4 505.1,618.0 506.7,616.3C508.3,614.6 509.6,613.0 511.0,611.2C512.4,609.4 513.3,607.0 515.0,605.6C516.6,604.1 518.6,602.6 520.9,602.3C523.1,602.0 526.0,602.7 528.5,603.6C531.0,604.5 533.5,606.2 535.8,607.7C538.2,609.2 540.4,611.0 542.6,612.5C544.7,614.1 546.8,615.7 548.9,617.1C551.1,618.4 553.1,619.7 555.3,620.7C557.5,621.6 559.7,622.5 562.0,622.9C564.2,623.4 566.5,623.6 568.9,623.6C571.2,623.6 573.5,623.2 575.8,622.9C578.2,622.6 580.6,622.2 583.0,621.8C585.5,621.5 588.0,621.2 590.5,620.8C593.1,620.5 595.8,620.2 598.3,619.7C600.9,619.3 603.4,618.7 605.9,618.1C608.4,617.5 610.7,616.8 613.1,616.0C615.4,615.3 617.7,614.5 620.0,613.7C622.3,612.9 624.7,612.0 627.0,611.3C629.4,610.5 631.9,609.8 634.3,609.1C636.7,608.4 639.2,607.8 641.7,607.3C644.1,606.7 646.5,606.2 648.9,605.7C651.3,605.2 653.7,604.7 656.0,604.3C658.4,603.8 660.8,603.4 663.2,602.9C665.6,602.4 668.1,601.8 670.5,601.2C673.0,600.7 675.5,600.0 678.0,599.4C680.6,598.7 683.1,598.0 685.6,597.4C688.1,596.8 690.6,596.1 693.1,595.5C695.5,594.9 698.0,594.3 700.4,593.8C702.8,593.3 705.1,592.8 707.5,592.3C709.9,591.8 712.3,591.3 714.7,590.7C717.2,590.2 719.6,589.7 722.1,589.1C724.6,588.6 727.1,588.0 729.6,587.4C732.1,586.7 734.6,586.1 737.0,585.4C739.5,584.8 741.9,584.1 744.3,583.5C746.7,582.8 749.1,582.2 751.5,581.5C753.9,580.9 756.2,580.3 758.6,579.7C761.0,579.1 763.4,578.5 765.8,577.9C768.2,577.3 770.6,576.7 773.0,576.0C775.4,575.3 777.8,574.6 780.3,573.9C782.7,573.1 785.1,572.4 787.6,571.5C790.0,570.7 792.4,569.9 794.8,569.1C797.2,568.3 799.6,567.4 802.0,566.6C804.4,565.8 806.8,565.0 809.2,564.3C811.5,563.6 813.9,562.9 816.3,562.2C818.7,561.6 821.1,561.0 823.5,560.4C825.9,559.7 828.3,559.2 830.8,558.5C833.2,557.9 835.7,557.3 838.2,556.7C840.7,556.1 843.2,555.4 845.6,554.8C848.1,554.1 850.5,553.4 853.0,552.8C855.4,552.1 857.7,551.5 860.1,550.9C862.5,550.3 864.9,549.7 867.3,549.2C869.7,548.6 872.1,548.1 874.6,547.7C877.0,547.2 879.5,546.7 882.0,546.3C884.5,545.8 887.0,545.4 889.5,544.9C892.1,544.4 894.6,543.9 897.0,543.4C899.5,542.9 901.9,542.4 904.4,541.9C906.8,541.3 909.2,540.8 911.6,540.3C914.0,539.8 916.4,539.3 918.9,538.9C921.4,538.5 923.8,538.1 926.3,537.8C928.8,537.5 931.4,537.3 933.9,537.1C936.4,536.8 939.0,536.7 941.5,536.5C944.0,536.3 946.5,536.2 949.0,536.0C951.5,535.9 954.0,535.7 956.5,535.5C959.0,535.3 961.5,535.2 964.0,535.0C966.5,534.8 969.0,534.7 971.5,534.5C974.0,534.4 976.6,534.3 979.1,534.3C981.6,534.3 984.2,534.3 986.7,534.4C989.2,534.4 991.8,534.6 994.3,534.7C996.8,534.8 999.2,535.0 1001.7,535.2C1004.2,535.3 1006.6,535.4 1009.1,535.6C1011.6,535.7 1014.0,535.8 1016.5,535.9C1019.0,535.9 1021.5,536.0 1024.0,536.1C1026.5,536.1 1029.0,536.2 1031.6,536.3C1034.1,536.4 1036.7,536.5 1039.2,536.6C1041.7,536.8 1044.3,537.0 1046.8,537.2C1049.3,537.4 1051.9,537.7 1054.4,537.9C1056.9,538.1 1059.3,538.4 1061.8,538.6C1064.3,538.8 1066.8,539.0 1069.2,539.2C1071.7,539.4 1074.2,539.6 1076.7,539.8C1079.2,539.9 1081.6,540.1 1084.1,540.3C1086.6,540.5 1089.1,540.7 1091.7,540.9C1094.2,541.2 1096.7,541.5 1099.2,541.8C1101.7,542.1 1104.2,542.4 1106.7,542.8C1109.2,543.2 1111.7,543.5 1114.2,543.9C1116.7,544.2 1119.2,544.6 1121.7,544.9C1124.2,545.1 1126.7,545.4 1129.2,545.6C1131.7,545.8 1134.2,546.0 1136.6,546.2C1139.1,546.4 1141.6,546.5 1144.1,546.7C1146.6,546.9 1149.1,547.1 1151.5,547.3C1153.9,547.6 1157.3,548.0 1158.5,548.2"/>
<path d="M149.9,658.8C150.9,658.6 153.6,657.8 156.1,657.5C158.6,657.2 162.0,656.9 165.0,656.7C168.0,656.5 171.3,656.2 174.1,656.4C176.9,656.6 179.6,656.9 181.9,657.9C184.2,659.0 186.1,661.0 188.0,662.7C189.9,664.4 191.6,666.6 193.5,668.1C195.4,669.7 197.4,670.9 199.4,671.8C201.3,672.7 203.3,673.2 205.2,673.5C207.1,673.8 208.9,674.0 210.7,673.6C212.6,673.2 214.3,671.9 216.4,671.2C218.5,670.5 220.9,669.3 223.3,669.2C225.7,669.2 228.2,670.0 230.6,670.9C233.0,671.8 235.4,673.4 237.9,674.8C240.4,676.1 243.0,677.5 245.5,679.0C248.0,680.5 250.5,682.4 252.9,683.8C255.3,685.1 257.6,686.8 259.9,687.4C262.2,688.0 264.5,687.7 266.7,687.3C268.8,686.9 270.7,685.7 272.8,685.2C274.8,684.8 276.9,684.7 279.1,684.7C281.3,684.8 283.6,685.1 285.9,685.7C288.1,686.3 290.5,687.0 292.6,688.2C294.7,689.3 296.5,691.2 298.5,692.8C300.5,694.3 302.3,696.4 304.6,697.5C306.8,698.7 309.6,699.5 312.2,699.8C314.8,700.0 317.7,699.6 320.1,699.2C322.5,698.8 324.7,698.1 326.7,697.3C328.7,696.5 330.3,695.2 332.3,694.4C334.2,693.6 336.3,692.6 338.5,692.6C340.6,692.6 342.9,693.6 345.2,694.4C347.5,695.2 349.7,696.6 352.2,697.5C354.7,698.4 357.4,699.0 360.3,699.7C363.1,700.3 366.3,700.9 369.1,701.2C371.9,701.4 374.8,701.6 377.2,701.1C379.6,700.6 381.5,699.2 383.3,698.4C385.1,697.6 386.4,696.4 388.1,696.2C389.8,695.9 391.6,696.4 393.5,696.8C395.5,697.2 397.6,697.8 399.7,698.4C401.9,699.0 404.2,699.5 406.6,700.2C408.9,700.9 411.3,702.1 413.7,702.6C416.2,703.1 418.7,703.4 421.3,703.1C423.9,702.8 426.7,701.6 429.3,700.9C432.0,700.2 434.7,699.3 437.3,698.9C439.9,698.5 442.6,698.6 445.1,698.4C447.6,698.3 450.2,698.5 452.5,698.2C454.8,697.8 457.0,697.4 458.8,696.3C460.6,695.3 462.0,693.6 463.4,691.8C464.7,690.0 465.5,687.7 466.8,685.7C468.1,683.7 469.3,681.4 471.2,679.9C473.0,678.3 475.5,677.1 477.9,676.4C480.3,675.6 483.2,675.7 485.7,675.3C488.2,674.9 490.8,674.8 492.6,673.9C494.5,672.9 495.9,671.3 496.8,669.4C497.8,667.5 497.8,664.8 498.3,662.4C498.8,660.0 498.8,657.2 499.7,654.8C500.6,652.5 502.0,650.2 503.9,648.4C505.7,646.6 508.6,645.3 511.0,644.1C513.5,642.8 516.3,642.1 518.5,640.9C520.6,639.7 522.4,638.3 523.8,636.7C525.3,635.2 525.9,633.0 527.2,631.4C528.5,629.8 529.7,628.0 531.5,627.1C533.4,626.2 535.9,625.9 538.4,625.8C540.9,625.7 543.8,626.2 546.4,626.5C549.0,626.8 551.7,627.3 554.2,627.6C556.8,628.0 559.3,628.4 561.7,628.7C564.2,629.0 566.6,629.2 569.0,629.5C571.4,629.7 573.8,629.9 576.2,630.0C578.6,630.0 581.0,630.0 583.4,630.0C585.8,630.0 588.2,629.9 590.6,629.8C593.1,629.7 595.6,629.5 598.2,629.3C600.7,629.1 603.3,628.8 605.9,628.5C608.4,628.1 610.9,627.7 613.4,627.2C615.9,626.7 618.3,626.2 620.7,625.6C623.0,625.0 625.3,624.3 627.7,623.6C630.1,623.0 632.4,622.3 634.8,621.6C637.2,620.9 639.6,620.3 642.1,619.6C644.5,618.9 647.0,618.2 649.4,617.5C651.8,616.8 654.2,616.1 656.5,615.3C658.9,614.5 661.1,613.7 663.4,612.8C665.7,612.0 668.0,611.1 670.4,610.2C672.7,609.2 675.0,608.3 677.4,607.3C679.9,606.4 682.3,605.5 684.8,604.6C687.2,603.7 689.7,602.8 692.2,602.1C694.6,601.3 697.1,600.6 699.5,599.9C701.9,599.2 704.2,598.7 706.6,598.1C709.0,597.6 711.4,597.1 713.8,596.6C716.2,596.2 718.6,595.7 721.0,595.3C723.5,594.9 726.0,594.4 728.5,594.0C731.0,593.6 733.6,593.2 736.1,592.8C738.6,592.4 741.1,592.0 743.6,591.7C746.1,591.3 748.6,591.0 751.1,590.8C753.6,590.5 756.0,590.3 758.5,590.0C760.9,589.8 763.4,589.6 765.8,589.4C768.3,589.2 770.7,589.0 773.2,588.7C775.7,588.4 778.1,588.1 780.6,587.8C783.1,587.4 785.6,587.0 788.1,586.6C790.6,586.2 793.1,585.7 795.6,585.3C798.1,584.9 800.6,584.4 803.1,583.9C805.6,583.5 808.2,583.1 810.6,582.7C813.1,582.3 815.6,581.9 818.1,581.5C820.5,581.1 823.0,580.7 825.4,580.3C827.8,579.9 830.2,579.5 832.6,579.0C835.0,578.5 837.4,577.9 839.8,577.3C842.3,576.7 844.7,576.1 847.1,575.4C849.6,574.7 852.1,574.0 854.5,573.2C857.0,572.5 859.5,571.7 861.9,571.0C864.3,570.2 866.7,569.5 869.1,568.8C871.5,568.1 873.8,567.4 876.1,566.7C878.5,566.0 880.8,565.4 883.1,564.7C885.5,564.0 887.9,563.4 890.3,562.7C892.7,562.0 895.2,561.3 897.6,560.6C900.1,559.9 902.6,559.2 905.1,558.5C907.5,557.9 910.0,557.2 912.4,556.6C914.9,556.0 917.3,555.4 919.7,554.9C922.1,554.4 924.5,553.9 927.0,553.5C929.4,553.2 931.9,552.9 934.4,552.6C936.9,552.4 939.4,552.2 941.9,552.0C944.4,551.8 947.0,551.7 949.5,551.5C952.0,551.4 954.6,551.2 957.1,551.0C959.6,550.9 962.1,550.7 964.6,550.5C967.1,550.4 969.6,550.2 972.0,550.1C974.5,550.0 977.0,549.9 979.5,549.8C982.0,549.7 984.5,549.7 987.0,549.7C989.6,549.7 992.1,549.7 994.6,549.7C997.1,549.7 999.7,549.7 1002.2,549.7C1004.7,549.7 1007.2,549.6 1009.6,549.5C1012.1,549.4 1014.6,549.2 1017.0,549.0C1019.5,548.8 1021.9,548.5 1024.4,548.2C1026.9,547.9 1029.3,547.5 1031.8,547.2C1034.3,546.9 1036.8,546.5 1039.4,546.2C1041.9,545.8 1044.4,545.5 1047.0,545.1C1049.5,544.7 1052.0,544.4 1054.5,544.0C1057.0,543.6 1059.5,543.2 1061.9,542.8C1064.4,542.3 1066.8,541.9 1069.2,541.4C1071.6,540.8 1074.0,540.3 1076.4,539.7C1078.9,539.2 1081.3,538.6 1083.8,538.0C1086.2,537.4 1088.7,536.9 1091.2,536.4C1093.7,535.8 1096.2,535.4 1098.7,534.9C1101.1,534.5 1103.6,534.2 1106.1,533.8C1108.6,533.5 1111.0,533.2 1113.5,532.9C1116.0,532.6 1118.4,532.3 1120.9,532.0C1123.3,531.8 1125.8,531.5 1128.2,531.2C1130.7,530.9 1133.2,530.6 1135.6,530.3C1138.1,530.0 1140.6,529.7 1143.1,529.5C1145.6,529.3 1148.2,529.1 1150.6,528.9C1153.0,528.8 1156.5,528.8 1157.7,528.7"/>
<path d="M153.8,683.7C154.6,683.6 156.6,683.4 158.3,683.1C160.0,682.8 162.0,682.1 164.0,681.8C166.1,681.6 168.3,681.5 170.6,681.5C173.0,681.4 175.7,681.3 178.2,681.7C180.6,682.1 183.3,682.8 185.5,683.9C187.7,685.0 189.3,687.0 191.3,688.5C193.2,690.0 194.9,691.8 197.2,692.9C199.4,694.0 202.1,694.7 204.7,695.2C207.3,695.7 210.3,695.9 212.9,695.9C215.5,695.9 218.1,695.8 220.4,695.3C222.7,694.8 224.6,693.5 226.6,693.1C228.6,692.7 230.5,692.2 232.5,692.8C234.6,693.3 236.7,694.9 238.9,696.3C241.0,697.6 243.2,699.5 245.4,701.1C247.6,702.6 249.9,704.1 252.2,705.5C254.4,706.9 256.6,708.6 258.9,709.6C261.2,710.7 263.4,711.6 265.8,711.7C268.2,711.8 270.8,710.7 273.1,710.0C275.5,709.4 277.8,708.1 279.9,707.8C282.1,707.4 284.1,707.6 286.2,708.0C288.3,708.3 290.3,709.0 292.4,709.9C294.4,710.8 296.5,711.9 298.5,713.3C300.5,714.8 302.4,716.8 304.4,718.4C306.4,719.9 308.3,721.8 310.6,722.7C313.0,723.6 315.5,723.8 318.3,723.8C321.0,723.9 324.2,723.3 327.2,723.0C330.3,722.7 333.5,722.4 336.3,722.0C339.1,721.6 341.8,720.9 344.2,720.9C346.6,720.8 348.6,721.1 350.6,721.9C352.6,722.6 354.3,724.3 356.2,725.5C358.0,726.6 359.7,727.9 361.5,728.6C363.3,729.3 364.9,729.7 366.8,729.9C368.8,730.1 370.9,730.2 373.3,729.8C375.7,729.4 378.4,728.5 381.0,727.4C383.7,726.3 386.7,724.4 389.4,723.3C392.1,722.2 394.7,721.3 397.2,720.9C399.6,720.6 401.9,721.0 404.3,721.2C406.6,721.4 409.0,721.7 411.3,722.1C413.5,722.5 415.8,723.2 418.0,723.7C420.2,724.3 422.4,725.3 424.5,725.4C426.6,725.5 428.4,725.0 430.5,724.3C432.6,723.6 434.6,722.2 437.0,721.4C439.3,720.7 442.0,720.2 444.6,719.9C447.2,719.6 450.0,719.9 452.6,719.6C455.2,719.4 457.9,719.1 460.2,718.3C462.6,717.5 464.9,716.3 466.7,714.8C468.5,713.4 469.9,711.5 471.2,709.7C472.6,708.0 473.4,705.9 474.8,704.4C476.2,702.9 477.7,701.7 479.6,700.8C481.6,700.0 484.0,699.8 486.5,699.3C488.9,698.8 491.8,698.6 494.3,697.7C496.8,696.7 499.4,695.4 501.3,693.6C503.1,691.9 504.4,689.5 505.4,687.3C506.4,685.0 506.5,682.4 507.2,680.1C507.9,677.7 508.3,675.3 509.5,673.4C510.8,671.5 512.5,669.9 514.6,668.7C516.8,667.4 519.6,666.8 522.2,665.9C524.8,665.0 527.8,664.3 530.2,663.1C532.5,662.0 534.7,660.5 536.5,658.9C538.2,657.3 539.3,655.3 540.8,653.7C542.3,652.1 543.6,650.5 545.4,649.3C547.3,648.1 549.5,647.3 551.9,646.7C554.3,646.0 557.1,645.7 559.8,645.4C562.5,645.2 565.3,645.2 567.9,645.3C570.6,645.4 573.3,645.8 575.9,646.2C578.4,646.6 581.0,647.2 583.5,647.8C586.0,648.3 588.4,649.0 590.8,649.5C593.3,649.9 595.6,650.3 598.0,650.5C600.4,650.6 602.8,650.6 605.2,650.5C607.7,650.4 610.1,650.1 612.6,649.7C615.1,649.3 617.6,648.8 620.1,648.2C622.6,647.6 625.1,647.0 627.6,646.3C630.0,645.6 632.4,644.9 634.7,644.2C637.1,643.5 639.4,642.8 641.8,642.1C644.1,641.4 646.5,640.7 648.9,640.0C651.3,639.3 653.7,638.6 656.2,637.8C658.6,637.0 661.1,636.2 663.6,635.4C666.0,634.6 668.5,633.7 670.8,632.8C673.2,631.9 675.5,631.0 677.8,630.1C680.2,629.2 682.4,628.3 684.8,627.4C687.1,626.6 689.4,625.8 691.8,625.0C694.2,624.2 696.7,623.5 699.2,622.9C701.6,622.2 704.1,621.6 706.6,621.0C709.1,620.5 711.5,620.0 714.0,619.4C716.4,618.9 718.8,618.4 721.2,617.9C723.6,617.3 725.9,616.8 728.3,616.3C730.7,615.7 733.1,615.2 735.5,614.7C737.9,614.1 740.4,613.6 742.9,613.1C745.3,612.6 747.9,612.1 750.4,611.7C752.9,611.3 755.4,610.9 757.9,610.6C760.4,610.2 762.9,609.9 765.4,609.6C767.9,609.3 770.4,609.1 772.9,608.8C775.3,608.5 777.8,608.2 780.3,607.9C782.8,607.6 785.2,607.3 787.7,607.0C790.2,606.6 792.6,606.3 795.1,605.9C797.6,605.6 800.1,605.3 802.6,604.9C805.1,604.6 807.6,604.3 810.1,604.0C812.6,603.7 815.1,603.5 817.6,603.2C820.1,602.9 822.7,602.6 825.2,602.3C827.7,602.0 830.2,601.7 832.6,601.2C835.1,600.8 837.5,600.3 840.0,599.8C842.4,599.3 844.7,598.6 847.1,598.0C849.5,597.3 851.9,596.6 854.3,595.9C856.6,595.1 859.0,594.4 861.5,593.6C863.9,592.9 866.3,592.1 868.8,591.4C871.2,590.7 873.7,590.0 876.2,589.3C878.6,588.6 881.0,587.9 883.4,587.2C885.8,586.5 888.1,585.8 890.5,585.1C892.8,584.4 895.1,583.7 897.5,582.9C899.9,582.2 902.2,581.5 904.6,580.7C907.1,580.0 909.5,579.3 912.0,578.6C914.4,577.9 917.0,577.2 919.4,576.6C921.9,576.0 924.4,575.5 926.9,575.0C929.3,574.5 931.8,574.1 934.2,573.8C936.7,573.4 939.1,573.1 941.6,572.8C944.0,572.5 946.5,572.2 949.0,572.0C951.5,571.7 954.0,571.4 956.5,571.1C959.0,570.9 961.5,570.6 964.1,570.4C966.6,570.1 969.1,569.8 971.6,569.7C974.1,569.5 976.6,569.3 979.1,569.2C981.5,569.0 984.0,569.0 986.5,568.9C988.9,568.9 991.4,568.9 993.9,568.9C996.4,568.9 998.9,569.0 1001.4,569.0C1003.9,569.0 1006.5,569.0 1009.0,568.9C1011.6,568.9 1014.1,568.8 1016.6,568.6C1019.2,568.5 1021.7,568.2 1024.2,568.0C1026.7,567.8 1029.1,567.5 1031.6,567.3C1034.1,567.0 1036.5,566.7 1039.0,566.5C1041.5,566.2 1043.9,565.9 1046.4,565.7C1048.9,565.4 1051.4,565.2 1053.9,564.9C1056.4,564.6 1059.0,564.3 1061.5,563.9C1064.0,563.6 1066.5,563.2 1069.0,562.7C1071.5,562.3 1074.0,561.8 1076.5,561.3C1078.9,560.8 1081.3,560.2 1083.7,559.7C1086.1,559.1 1088.5,558.6 1090.9,558.0C1093.3,557.5 1095.8,557.0 1098.2,556.5C1100.6,556.0 1103.1,555.6 1105.5,555.1C1108.0,554.7 1110.5,554.3 1113.0,553.9C1115.4,553.5 1117.9,553.1 1120.4,552.7C1122.9,552.3 1125.4,551.8 1127.9,551.4C1130.4,551.0 1132.9,550.5 1135.4,550.1C1137.9,549.7 1140.3,549.3 1142.8,548.9C1145.3,548.6 1147.9,548.3 1150.2,548.0C1152.5,547.8 1155.5,547.6 1156.6,547.6"/>
<path d="M153.9,699.5C154.7,700.0 156.8,701.7 158.7,702.1C160.6,702.5 163.3,702.5 165.4,702.2C167.6,701.9 169.6,700.8 171.6,700.4C173.6,700.0 175.3,699.9 177.2,699.8C179.1,699.8 180.9,699.8 182.9,700.2C184.9,700.6 187.0,701.2 189.0,702.2C191.0,703.3 192.8,705.1 194.7,706.6C196.7,708.0 198.5,709.9 200.7,711.0C203.0,712.1 205.5,712.8 208.2,713.3C210.9,713.7 214.0,713.8 217.0,713.8C219.9,713.9 223.1,713.8 225.9,713.5C228.7,713.1 231.5,712.1 233.9,711.9C236.3,711.7 238.4,711.5 240.5,712.2C242.5,712.9 244.4,714.6 246.3,716.1C248.2,717.5 250.0,719.4 251.9,720.9C253.8,722.4 255.8,723.6 257.8,724.8C259.7,726.0 261.7,727.3 263.7,728.1C265.8,728.9 267.8,729.6 270.1,729.5C272.4,729.3 275.0,728.1 277.5,727.4C280.0,726.7 282.7,725.5 285.2,725.3C287.7,725.0 290.1,725.5 292.5,726.0C294.9,726.6 297.2,727.6 299.5,728.7C301.7,729.8 303.9,731.1 306.0,732.5C308.1,734.0 310.1,736.1 312.1,737.6C314.0,739.1 315.9,740.9 317.9,741.7C319.9,742.5 321.7,742.4 323.9,742.3C326.0,742.2 328.4,741.3 330.9,741.0C333.5,740.6 336.4,740.3 339.3,740.0C342.1,739.8 345.3,739.4 348.0,739.6C350.7,739.9 353.1,740.6 355.3,741.8C357.5,742.9 359.1,745.1 361.0,746.7C362.9,748.4 364.7,750.4 366.9,751.7C369.0,753.1 371.5,754.1 373.8,754.7C376.0,755.3 378.4,755.7 380.4,755.4C382.3,755.2 383.9,754.3 385.6,753.2C387.2,752.0 388.4,750.0 390.3,748.5C392.2,747.1 394.6,745.3 397.1,744.5C399.6,743.7 402.6,743.6 405.4,743.7C408.2,743.7 411.2,744.4 414.0,744.9C416.8,745.4 419.7,746.0 422.3,746.6C424.9,747.2 427.5,748.3 429.8,748.6C432.1,748.9 434.2,748.9 436.2,748.3C438.1,747.8 439.5,746.1 441.3,745.2C443.1,744.2 444.9,743.1 447.0,742.5C449.0,741.8 451.4,741.7 453.7,741.2C456.0,740.7 458.4,740.3 460.7,739.5C463.1,738.6 465.6,737.5 467.8,736.2C470.1,734.8 472.3,733.1 474.3,731.6C476.3,730.0 478.0,728.2 479.8,726.7C481.6,725.3 483.2,724.0 485.0,723.0C486.9,721.9 488.8,721.4 490.8,720.6C492.9,719.7 495.1,719.2 497.3,718.0C499.5,716.9 501.9,715.6 504.0,713.8C506.1,712.1 508.2,710.0 509.9,707.8C511.6,705.7 513.0,703.2 514.4,701.0C515.8,698.8 516.8,696.5 518.2,694.6C519.6,692.8 521.0,691.1 522.7,689.9C524.5,688.7 526.7,688.2 528.9,687.5C531.2,686.7 533.8,686.5 536.3,685.7C538.8,684.9 541.5,684.0 543.8,682.7C546.2,681.4 548.4,679.7 550.4,678.0C552.4,676.3 554.0,674.3 555.8,672.8C557.6,671.2 559.3,669.6 561.3,668.5C563.3,667.3 565.5,666.5 567.8,666.0C570.2,665.5 572.8,665.4 575.4,665.4C577.9,665.4 580.6,665.8 583.2,666.2C585.8,666.6 588.4,667.3 591.0,667.9C593.5,668.5 596.0,669.2 598.5,669.6C600.9,670.1 603.4,670.5 605.8,670.6C608.2,670.7 610.6,670.6 613.0,670.4C615.4,670.2 617.8,669.7 620.3,669.2C622.7,668.7 625.2,668.1 627.7,667.5C630.2,666.9 632.8,666.2 635.3,665.5C637.8,664.9 640.3,664.2 642.8,663.6C645.2,663.0 647.6,662.4 650.0,661.8C652.4,661.1 654.7,660.5 657.0,659.9C659.4,659.2 661.8,658.6 664.2,657.9C666.6,657.1 669.1,656.4 671.5,655.6C674.0,654.8 676.5,654.0 678.9,653.2C681.4,652.4 683.8,651.6 686.2,650.8C688.6,650.0 690.9,649.2 693.2,648.4C695.6,647.7 697.8,647.0 700.2,646.3C702.5,645.6 704.8,645.0 707.2,644.4C709.5,643.7 711.9,643.1 714.4,642.5C716.8,641.8 719.3,641.2 721.8,640.5C724.2,639.9 726.7,639.2 729.2,638.5C731.6,637.8 734.0,637.0 736.4,636.3C738.8,635.6 741.2,634.9 743.6,634.3C746.0,633.7 748.4,633.0 750.8,632.5C753.2,632.0 755.7,631.5 758.1,631.0C760.6,630.6 763.1,630.3 765.6,629.9C768.1,629.6 770.7,629.3 773.2,629.1C775.7,628.8 778.2,628.5 780.8,628.3C783.3,628.0 785.8,627.7 788.3,627.5C790.8,627.2 793.3,626.9 795.8,626.6C798.3,626.4 800.8,626.1 803.3,625.9C805.8,625.6 808.2,625.4 810.7,625.1C813.2,624.9 815.6,624.7 818.1,624.5C820.6,624.2 823.0,624.0 825.5,623.7C828.0,623.4 830.5,623.1 833.0,622.7C835.5,622.3 838.0,621.9 840.5,621.4C843.0,620.8 845.5,620.2 847.9,619.6C850.4,619.0 852.9,618.3 855.3,617.6C857.7,616.9 860.1,616.2 862.4,615.5C864.8,614.8 867.1,614.1 869.5,613.4C871.9,612.8 874.3,612.1 876.7,611.5C879.1,610.8 881.5,610.2 884.0,609.5C886.4,608.9 888.9,608.2 891.4,607.5C893.8,606.9 896.3,606.1 898.7,605.4C901.1,604.7 903.5,603.9 905.8,603.2C908.2,602.4 910.5,601.7 912.9,600.9C915.3,600.2 917.7,599.5 920.1,598.8C922.5,598.1 925.0,597.5 927.4,596.9C929.9,596.3 932.4,595.8 934.9,595.3C937.4,594.9 939.9,594.4 942.3,594.0C944.8,593.6 947.2,593.2 949.7,592.8C952.1,592.4 954.6,592.0 957.0,591.6C959.5,591.2 961.9,590.8 964.4,590.5C966.9,590.1 969.4,589.7 971.9,589.5C974.4,589.2 977.0,588.9 979.5,588.7C982.0,588.5 984.5,588.4 987.0,588.3C989.5,588.2 992.0,588.2 994.4,588.2C996.9,588.2 999.4,588.2 1001.9,588.2C1004.3,588.2 1006.8,588.2 1009.3,588.2C1011.8,588.1 1014.3,588.0 1016.9,587.9C1019.4,587.8 1022.0,587.6 1024.5,587.5C1027.1,587.3 1029.7,587.1 1032.2,586.9C1034.8,586.7 1037.3,586.6 1039.8,586.4C1042.3,586.2 1044.8,586.0 1047.2,585.9C1049.7,585.7 1052.1,585.6 1054.6,585.4C1057.0,585.2 1059.5,585.0 1061.9,584.7C1064.4,584.5 1066.9,584.2 1069.3,583.8C1071.8,583.4 1074.3,583.0 1076.8,582.5C1079.3,582.1 1081.9,581.5 1084.3,581.0C1086.8,580.5 1089.3,579.9 1091.8,579.4C1094.2,578.8 1096.7,578.3 1099.1,577.8C1101.5,577.2 1103.9,576.7 1106.3,576.3C1108.8,575.8 1111.2,575.3 1113.6,574.8C1116.0,574.3 1118.5,573.9 1120.9,573.4C1123.4,572.9 1125.9,572.4 1128.4,571.9C1130.9,571.4 1133.4,570.8 1135.9,570.4C1138.4,569.9 1140.9,569.4 1143.4,568.9C1145.9,568.5 1148.5,568.1 1151.0,567.8C1153.4,567.5 1156.8,567.3 1158.0,567.2"/>
<path d="M152.5,709.0C153.2,709.5 155.0,711.4 156.8,712.5C158.5,713.5 160.6,714.9 162.9,715.3C165.1,715.6 167.9,715.1 170.3,714.6C172.8,714.2 175.3,713.0 177.5,712.6C179.8,712.2 181.8,712.2 183.8,712.3C185.8,712.4 187.7,712.6 189.6,713.2C191.6,713.8 193.6,714.5 195.6,715.6C197.5,716.8 199.5,718.7 201.5,720.2C203.4,721.7 205.4,723.6 207.5,724.7C209.7,725.8 212.0,726.4 214.5,726.8C217.0,727.2 219.8,727.1 222.6,727.1C225.4,727.1 228.4,727.0 231.2,726.7C234.0,726.5 237.0,725.7 239.5,725.6C242.0,725.6 244.3,725.6 246.4,726.4C248.5,727.2 250.3,729.0 252.1,730.5C253.9,731.9 255.6,733.7 257.5,735.0C259.3,736.4 261.3,737.4 263.3,738.4C265.2,739.4 267.2,740.4 269.3,741.0C271.4,741.5 273.5,742.0 275.8,741.8C278.1,741.6 280.6,740.3 283.1,739.7C285.7,739.0 288.5,738.0 291.2,738.0C293.9,737.9 296.6,738.7 299.1,739.6C301.7,740.4 304.3,741.7 306.7,742.9C309.1,744.1 311.4,745.5 313.6,747.0C315.7,748.4 317.6,750.4 319.6,751.8C321.5,753.2 323.4,754.8 325.2,755.4C327.0,756.0 328.6,755.7 330.4,755.4C332.2,755.1 334.0,754.1 336.1,753.7C338.2,753.3 340.7,753.1 343.2,753.1C345.8,753.0 348.8,752.9 351.5,753.5C354.1,754.0 356.8,754.8 359.1,756.1C361.4,757.4 363.1,759.5 365.2,761.1C367.4,762.7 369.3,764.6 371.8,765.7C374.2,766.9 377.1,767.5 379.8,768.0C382.5,768.4 385.4,768.5 387.8,768.4C390.3,768.3 392.6,768.0 394.7,767.4C396.7,766.9 398.3,765.5 400.2,765.0C402.1,764.6 404.0,764.4 406.1,764.8C408.1,765.2 410.2,766.7 412.4,767.6C414.6,768.5 416.9,769.5 419.3,770.2C421.8,770.9 424.4,771.4 427.0,771.8C429.6,772.1 432.4,772.6 434.9,772.3C437.4,772.0 439.9,771.0 442.2,769.8C444.5,768.7 446.6,766.9 448.7,765.7C450.8,764.4 452.9,763.4 455.0,762.5C457.2,761.5 459.4,761.0 461.5,760.1C463.6,759.2 465.7,758.3 467.7,757.1C469.7,756.0 471.6,754.6 473.6,753.2C475.7,751.7 477.6,750.0 479.8,748.6C482.0,747.1 484.3,745.5 486.7,744.2C489.1,742.9 491.6,741.9 494.0,740.9C496.4,739.9 498.8,739.2 501.0,738.2C503.2,737.3 505.3,736.4 507.2,735.0C509.1,733.7 510.8,732.1 512.5,730.3C514.1,728.5 515.6,726.4 517.3,724.3C519.0,722.3 520.8,719.9 522.7,718.1C524.6,716.2 526.7,714.3 528.8,713.0C530.9,711.7 533.1,710.9 535.3,710.4C537.5,709.8 539.7,710.0 541.8,709.7C544.0,709.5 546.2,709.5 548.4,708.9C550.6,708.3 552.8,707.3 554.9,706.0C557.1,704.8 559.3,703.0 561.4,701.3C563.5,699.7 565.6,697.7 567.6,696.2C569.7,694.6 571.7,693.1 573.7,692.0C575.8,690.9 577.9,690.0 580.1,689.5C582.3,688.9 584.6,688.7 587.0,688.6C589.4,688.4 592.0,688.6 594.5,688.6C597.0,688.7 599.6,688.9 602.1,689.0C604.7,689.0 607.2,689.1 609.8,689.1C612.3,689.1 614.8,689.0 617.3,688.8C619.7,688.6 622.2,688.3 624.6,687.9C627.1,687.6 629.5,687.2 632.0,686.8C634.5,686.4 637.0,685.9 639.5,685.5C642.0,685.1 644.6,684.7 647.1,684.3C649.7,683.9 652.2,683.4 654.7,683.0C657.2,682.5 659.7,682.1 662.1,681.6C664.5,681.0 666.8,680.5 669.1,679.8C671.5,679.2 673.8,678.5 676.1,677.8C678.5,677.1 680.9,676.3 683.3,675.5C685.7,674.7 688.2,673.9 690.6,673.1C693.0,672.3 695.5,671.5 697.9,670.8C700.4,670.0 702.8,669.3 705.1,668.5C707.5,667.8 709.8,667.1 712.1,666.3C714.4,665.6 716.6,664.8 719.0,664.0C721.3,663.2 723.7,662.4 726.0,661.6C728.4,660.8 730.9,660.0 733.3,659.2C735.8,658.3 738.3,657.5 740.8,656.7C743.2,656.0 745.7,655.2 748.2,654.6C750.6,653.9 753.1,653.3 755.5,652.8C757.9,652.2 760.4,651.8 762.8,651.4C765.2,651.0 767.7,650.7 770.1,650.4C772.6,650.1 775.1,649.8 777.5,649.6C780.0,649.3 782.5,649.0 785.1,648.8C787.6,648.5 790.1,648.2 792.6,647.9C795.1,647.7 797.7,647.4 800.2,647.1C802.7,646.8 805.2,646.5 807.7,646.3C810.2,646.0 812.7,645.8 815.2,645.5C817.7,645.3 820.2,645.1 822.7,644.8C825.1,644.6 827.6,644.3 830.0,644.0C832.5,643.7 834.9,643.3 837.3,642.9C839.8,642.5 842.2,642.0 844.7,641.5C847.2,641.0 849.6,640.4 852.1,639.9C854.6,639.3 857.2,638.7 859.7,638.1C862.2,637.5 864.7,636.9 867.1,636.3C869.6,635.7 872.0,635.1 874.4,634.6C876.8,634.0 879.2,633.5 881.6,632.9C883.9,632.3 886.3,631.8 888.7,631.1C891.1,630.5 893.5,629.9 895.9,629.2C898.3,628.5 900.8,627.8 903.3,627.0C905.7,626.3 908.2,625.5 910.6,624.7C913.0,623.9 915.5,623.1 917.9,622.3C920.2,621.6 922.6,620.8 925.0,620.1C927.4,619.4 929.7,618.8 932.1,618.1C934.5,617.5 936.9,616.9 939.4,616.4C941.8,615.8 944.3,615.3 946.7,614.8C949.2,614.2 951.7,613.7 954.1,613.2C956.6,612.7 959.0,612.2 961.5,611.7C963.9,611.2 966.4,610.7 968.8,610.3C971.3,609.9 973.7,609.5 976.2,609.1C978.7,608.8 981.2,608.5 983.7,608.3C986.2,608.1 988.8,607.9 991.3,607.8C993.9,607.7 996.4,607.7 998.9,607.6C1001.5,607.6 1004.0,607.6 1006.5,607.5C1009.0,607.5 1011.5,607.4 1013.9,607.3C1016.4,607.2 1018.9,607.1 1021.4,607.0C1023.8,606.9 1026.3,606.7 1028.8,606.6C1031.4,606.5 1033.9,606.3 1036.4,606.2C1039.0,606.1 1041.5,606.0 1044.1,605.9C1046.6,605.8 1049.2,605.8 1051.7,605.7C1054.2,605.6 1056.7,605.5 1059.2,605.4C1061.7,605.2 1064.1,605.1 1066.6,604.8C1069.0,604.6 1071.4,604.3 1073.9,603.9C1076.3,603.5 1078.7,603.1 1081.2,602.6C1083.7,602.2 1086.1,601.6 1088.6,601.1C1091.1,600.6 1093.6,600.0 1096.1,599.5C1098.6,599.0 1101.2,598.5 1103.7,598.0C1106.1,597.5 1108.6,597.0 1111.1,596.5C1113.6,596.0 1116.0,595.6 1118.4,595.1C1120.9,594.6 1123.3,594.1 1125.8,593.6C1128.2,593.1 1130.6,592.5 1133.1,592.0C1135.5,591.5 1138.0,590.9 1140.4,590.4C1142.9,589.9 1145.4,589.4 1147.8,589.0C1150.2,588.6 1153.7,588.2 1154.8,588.0"/>
<path d="M150.8,731.7C151.5,732.0 153.5,732.8 155.1,733.6C156.7,734.3 158.6,735.5 160.5,736.2C162.5,736.8 164.3,737.5 166.6,737.5C168.8,737.5 171.3,736.6 174.0,736.2C176.6,735.8 179.7,735.0 182.7,735.0C185.6,735.0 188.6,735.5 191.5,736.0C194.3,736.6 197.1,737.2 199.6,738.2C202.1,739.1 204.3,740.3 206.5,741.7C208.6,743.1 210.4,745.2 212.4,746.7C214.3,748.2 216.2,749.8 218.2,750.7C220.2,751.5 222.2,751.5 224.2,751.6C226.2,751.7 228.2,751.4 230.3,751.2C232.4,751.1 234.6,750.9 236.9,750.7C239.2,750.5 241.8,749.8 244.2,750.0C246.6,750.1 249.1,750.6 251.3,751.6C253.5,752.5 255.3,754.4 257.4,755.8C259.5,757.2 261.5,758.8 263.8,760.0C266.0,761.2 268.4,762.0 270.8,762.8C273.1,763.6 275.5,764.4 277.8,764.8C280.0,765.2 282.2,765.3 284.4,764.9C286.5,764.6 288.4,763.3 290.7,762.9C292.9,762.4 295.3,761.9 297.8,762.3C300.2,762.7 302.8,764.0 305.3,765.1C307.8,766.2 310.4,767.6 312.9,768.9C315.3,770.3 317.7,771.7 319.9,773.1C322.0,774.5 323.8,776.4 326.0,777.5C328.1,778.7 330.3,779.8 332.5,780.0C334.8,780.3 337.3,779.4 339.4,778.9C341.5,778.5 343.3,777.5 345.2,777.2C347.1,776.9 348.8,777.0 350.8,777.1C352.8,777.3 354.8,777.4 356.9,778.1C359.1,778.8 361.4,780.0 363.5,781.3C365.6,782.6 367.5,784.7 369.6,786.2C371.7,787.7 373.7,789.3 376.1,790.3C378.5,791.2 381.2,791.5 384.0,791.8C386.8,792.0 390.0,792.0 392.9,791.9C395.9,791.7 399.0,791.4 401.7,791.0C404.4,790.6 407.0,789.6 409.3,789.4C411.6,789.3 413.6,789.7 415.6,790.3C417.7,790.8 419.6,792.2 421.6,792.9C423.6,793.5 425.5,794.0 427.6,794.2C429.6,794.3 431.7,794.3 434.0,793.8C436.2,793.4 438.5,792.8 440.9,791.7C443.2,790.6 445.5,788.8 448.0,787.4C450.4,785.9 452.9,784.1 455.4,782.8C458.0,781.5 460.7,780.5 463.2,779.5C465.7,778.5 468.3,777.8 470.5,776.7C472.8,775.7 474.8,774.7 476.7,773.5C478.6,772.3 480.1,770.8 481.8,769.5C483.6,768.1 485.2,766.5 487.2,765.2C489.3,763.9 491.7,762.7 494.2,761.6C496.8,760.6 499.7,759.9 502.4,759.1C505.1,758.3 508.0,757.7 510.5,756.8C513.0,756.0 515.3,755.1 517.3,753.8C519.2,752.6 520.6,751.0 522.1,749.4C523.6,747.7 524.7,745.7 526.2,744.0C527.8,742.3 529.4,740.4 531.5,739.0C533.6,737.6 536.1,736.5 538.5,735.8C541.0,735.1 543.7,735.0 546.2,734.8C548.7,734.6 551.1,734.7 553.4,734.4C555.7,734.1 557.9,733.8 560.0,732.9C562.0,732.1 563.9,730.8 565.9,729.4C567.9,728.0 569.7,726.2 571.8,724.5C573.8,722.9 575.9,721.1 578.0,719.5C580.2,718.0 582.4,716.6 584.7,715.5C586.9,714.3 589.1,713.3 591.4,712.5C593.6,711.7 595.9,711.2 598.3,710.6C600.6,710.1 603.1,709.7 605.5,709.3C608.0,708.9 610.6,708.6 613.2,708.3C615.7,708.0 618.4,707.7 620.9,707.4C623.5,707.2 626.1,707.0 628.6,706.8C631.1,706.6 633.6,706.5 636.1,706.3C638.5,706.2 640.9,706.1 643.4,706.0C645.9,705.9 648.3,705.8 650.8,705.6C653.2,705.5 655.8,705.2 658.3,704.9C660.8,704.6 663.3,704.2 665.8,703.7C668.3,703.2 670.8,702.6 673.3,702.0C675.7,701.3 678.1,700.6 680.4,699.8C682.8,699.1 685.0,698.3 687.4,697.5C689.7,696.6 691.9,695.8 694.3,695.0C696.6,694.2 699.0,693.3 701.4,692.5C703.8,691.7 706.3,690.9 708.8,690.1C711.2,689.4 713.7,688.6 716.1,687.8C718.5,686.9 720.9,686.1 723.2,685.3C725.6,684.5 727.9,683.6 730.2,682.8C732.5,681.9 734.8,681.0 737.2,680.2C739.6,679.4 741.9,678.6 744.4,677.8C746.8,677.1 749.3,676.4 751.7,675.8C754.2,675.1 756.7,674.6 759.2,674.1C761.7,673.6 764.1,673.2 766.6,672.8C769.1,672.4 771.5,672.0 774.0,671.7C776.5,671.3 778.9,671.0 781.3,670.7C783.8,670.3 786.2,670.0 788.7,669.6C791.1,669.2 793.6,668.8 796.1,668.4C798.5,668.1 801.0,667.7 803.5,667.3C806.0,667.0 808.5,666.6 811.0,666.3C813.5,666.0 816.0,665.7 818.5,665.5C821.0,665.2 823.5,665.0 826.0,664.7C828.5,664.5 831.1,664.2 833.5,663.9C836.0,663.6 838.5,663.3 841.0,663.0C843.4,662.6 845.9,662.2 848.3,661.8C850.8,661.4 853.2,660.9 855.6,660.5C858.1,660.0 860.5,659.5 863.0,659.0C865.5,658.6 868.0,658.1 870.5,657.6C873.0,657.2 875.5,656.7 878.0,656.2C880.5,655.8 883.0,655.3 885.4,654.8C887.9,654.2 890.3,653.7 892.7,653.1C895.0,652.5 897.4,651.8 899.8,651.1C902.1,650.4 904.5,649.6 906.8,648.8C909.2,648.1 911.6,647.2 914.0,646.4C916.5,645.6 918.9,644.8 921.3,644.0C923.8,643.2 926.2,642.4 928.6,641.7C931.0,641.0 933.4,640.3 935.8,639.6C938.1,638.9 940.5,638.3 942.9,637.7C945.3,637.1 947.6,636.5 950.1,635.9C952.5,635.3 954.9,634.7 957.4,634.1C959.8,633.5 962.3,632.9 964.8,632.3C967.3,631.7 969.7,631.2 972.2,630.7C974.7,630.2 977.1,629.7 979.6,629.3C982.0,628.9 984.5,628.6 986.9,628.3C989.4,628.0 991.9,627.8 994.4,627.7C996.9,627.5 999.5,627.4 1002.0,627.3C1004.5,627.2 1007.1,627.1 1009.7,627.0C1012.2,626.9 1014.7,626.8 1017.3,626.6C1019.8,626.5 1022.3,626.4 1024.7,626.2C1027.2,626.1 1029.7,626.0 1032.1,625.9C1034.6,625.7 1037.0,625.7 1039.5,625.6C1041.9,625.5 1044.4,625.5 1046.9,625.4C1049.4,625.4 1051.9,625.4 1054.4,625.4C1057.0,625.3 1059.5,625.3 1062.1,625.1C1064.6,625.0 1067.2,624.9 1069.7,624.6C1072.2,624.4 1074.7,624.1 1077.2,623.8C1079.7,623.4 1082.1,623.0 1084.6,622.6C1087.0,622.1 1089.5,621.7 1091.9,621.2C1094.4,620.8 1096.8,620.3 1099.3,619.8C1101.7,619.4 1104.2,619.0 1106.7,618.5C1109.2,618.1 1111.7,617.7 1114.2,617.3C1116.6,616.8 1119.1,616.4 1121.6,615.9C1124.1,615.5 1126.6,615.0 1129.0,614.5C1131.5,614.0 1134.0,613.5 1136.4,612.9C1138.8,612.4 1141.3,611.8 1143.7,611.3C1146.1,610.8 1148.6,610.3 1151.0,609.8C1153.3,609.3 1156.6,608.8 1157.8,608.6"/>
<path d="M152.9,749.6C153.6,749.8 155.7,750.4 157.4,750.9C159.1,751.5 161.3,752.0 163.3,752.7C165.3,753.5 167.3,754.7 169.3,755.4C171.3,756.1 173.2,756.8 175.2,757.0C177.2,757.2 179.0,756.6 181.3,756.5C183.5,756.4 185.9,756.2 188.5,756.6C191.1,757.0 194.1,758.0 196.9,758.8C199.8,759.6 202.9,760.3 205.5,761.3C208.1,762.3 210.5,763.4 212.6,764.7C214.7,766.0 216.3,767.8 218.3,769.0C220.3,770.1 222.2,771.2 224.3,771.6C226.5,772.1 229.0,771.6 231.2,771.5C233.5,771.4 235.7,771.1 237.8,771.0C239.9,770.9 241.9,770.9 244.0,770.9C246.1,770.8 248.2,770.5 250.4,770.9C252.6,771.3 255.0,772.1 257.2,773.3C259.4,774.4 261.4,776.4 263.6,777.8C265.9,779.2 268.2,780.6 270.6,781.7C273.1,782.7 275.9,783.3 278.5,783.9C281.1,784.6 283.8,785.2 286.2,785.4C288.7,785.7 291.1,785.5 293.3,785.2C295.4,784.9 297.2,783.7 299.1,783.5C301.0,783.4 302.8,783.5 304.7,784.1C306.7,784.8 308.6,786.4 310.6,787.7C312.6,788.9 314.7,790.3 316.8,791.6C318.9,792.9 321.0,794.1 323.0,795.3C325.1,796.6 326.9,798.2 329.2,799.0C331.4,799.8 333.8,800.3 336.6,800.2C339.3,800.1 342.7,798.9 345.6,798.4C348.5,797.8 351.5,797.1 354.2,797.0C356.9,796.9 359.3,797.2 361.6,797.7C363.9,798.1 366.0,798.6 368.0,799.5C370.1,800.5 372.0,801.9 373.9,803.4C375.8,804.9 377.6,807.1 379.4,808.5C381.3,810.0 383.0,811.5 384.9,812.2C386.7,813.0 388.6,813.0 390.6,813.1C392.7,813.2 395.0,813.1 397.4,812.9C399.9,812.7 402.6,812.4 405.3,812.0C408.0,811.7 411.1,810.9 413.9,810.8C416.6,810.6 419.3,810.9 421.9,811.3C424.5,811.7 426.9,812.6 429.3,812.9C431.7,813.1 434.0,813.1 436.3,812.7C438.6,812.4 440.8,811.7 442.9,810.7C445.0,809.8 447.0,808.5 449.1,807.2C451.2,805.8 453.2,804.0 455.5,802.6C457.8,801.3 460.3,800.0 462.9,799.0C465.4,798.0 468.2,797.4 470.9,796.6C473.5,795.9 476.2,795.2 478.6,794.3C481.1,793.4 483.4,792.3 485.4,791.2C487.5,790.0 489.2,788.7 491.0,787.5C492.9,786.3 494.5,785.1 496.4,784.0C498.3,783.0 500.4,782.2 502.7,781.4C505.0,780.6 507.6,780.1 510.2,779.4C512.7,778.8 515.6,778.2 518.1,777.4C520.7,776.5 523.4,775.6 525.6,774.4C527.8,773.2 529.7,771.7 531.4,770.3C533.1,768.9 534.4,767.2 536.0,765.8C537.7,764.4 539.2,763.0 541.2,762.0C543.3,760.9 545.6,760.2 548.1,759.5C550.5,758.8 553.3,758.4 555.9,757.9C558.6,757.3 561.3,756.8 563.8,756.1C566.3,755.3 568.7,754.5 571.0,753.3C573.2,752.2 575.2,750.9 577.2,749.4C579.3,748.0 581.0,746.4 583.0,744.9C585.0,743.4 587.1,741.9 589.3,740.5C591.4,739.2 593.8,738.0 596.1,737.0C598.4,735.9 600.8,735.1 603.2,734.2C605.5,733.4 607.9,732.7 610.2,732.0C612.6,731.3 615.0,730.7 617.4,730.2C619.9,729.7 622.4,729.2 624.9,728.8C627.4,728.4 630.0,728.1 632.6,727.8C635.1,727.6 637.7,727.4 640.2,727.2C642.8,727.1 645.2,727.0 647.7,726.9C650.1,726.8 652.5,726.7 655.0,726.6C657.4,726.5 659.7,726.3 662.2,726.0C664.6,725.7 667.0,725.4 669.5,724.9C672.0,724.4 674.5,723.7 677.0,723.0C679.5,722.3 682.0,721.5 684.5,720.8C687.0,720.0 689.4,719.1 691.9,718.3C694.3,717.5 696.6,716.7 698.9,716.0C701.3,715.2 703.6,714.4 705.9,713.7C708.2,712.9 710.5,712.2 712.9,711.4C715.3,710.7 717.7,710.0 720.1,709.2C722.6,708.4 725.0,707.6 727.5,706.8C729.9,706.0 732.4,705.2 734.8,704.4C737.2,703.6 739.6,702.8 742.0,702.0C744.3,701.2 746.7,700.4 749.0,699.7C751.4,699.0 753.7,698.3 756.1,697.7C758.5,697.1 760.9,696.5 763.3,696.0C765.7,695.5 768.2,695.0 770.7,694.5C773.1,694.0 775.6,693.5 778.1,693.0C780.6,692.5 783.1,692.1 785.5,691.5C788.0,691.0 790.5,690.5 792.9,690.0C795.4,689.5 797.8,688.9 800.3,688.4C802.7,687.9 805.2,687.5 807.6,687.1C810.1,686.7 812.5,686.3 815.0,686.0C817.5,685.7 819.9,685.4 822.4,685.2C824.9,684.9 827.4,684.8 829.9,684.6C832.4,684.3 835.0,684.2 837.5,683.9C840.0,683.7 842.6,683.5 845.1,683.2C847.6,682.9 850.2,682.6 852.7,682.2C855.2,681.9 857.7,681.5 860.1,681.2C862.6,680.8 865.0,680.4 867.5,680.0C869.9,679.6 872.3,679.2 874.8,678.8C877.2,678.4 879.6,678.0 882.1,677.6C884.6,677.1 887.1,676.7 889.5,676.1C892.0,675.6 894.5,675.0 897.0,674.4C899.4,673.8 901.9,673.0 904.3,672.3C906.7,671.6 909.1,670.8 911.4,670.0C913.8,669.2 916.1,668.4 918.5,667.6C920.9,666.8 923.2,666.0 925.6,665.2C928.0,664.4 930.4,663.7 932.9,663.0C935.3,662.3 937.7,661.6 940.1,661.0C942.5,660.3 945.0,659.7 947.4,659.0C949.8,658.3 952.1,657.7 954.5,657.0C956.9,656.4 959.3,655.7 961.7,655.0C964.2,654.4 966.6,653.7 969.1,653.1C971.5,652.4 974.0,651.8 976.5,651.2C979.0,650.7 981.5,650.2 984.0,649.7C986.5,649.3 988.9,648.9 991.4,648.6C993.9,648.3 996.3,648.0 998.7,647.8C1001.2,647.5 1003.7,647.3 1006.1,647.1C1008.6,646.9 1011.1,646.8 1013.6,646.6C1016.2,646.4 1018.7,646.2 1021.3,646.0C1023.8,645.8 1026.4,645.6 1028.9,645.5C1031.4,645.3 1033.9,645.2 1036.4,645.1C1038.9,645.0 1041.4,644.9 1043.9,644.9C1046.3,644.8 1048.8,644.8 1051.2,644.8C1053.7,644.8 1056.1,644.8 1058.6,644.7C1061.1,644.7 1063.6,644.6 1066.1,644.5C1068.6,644.4 1071.1,644.2 1073.7,644.0C1076.2,643.8 1078.8,643.5 1081.4,643.2C1083.9,642.9 1086.5,642.5 1089.0,642.2C1091.5,641.8 1094.0,641.5 1096.5,641.1C1099.0,640.8 1101.4,640.4 1103.9,640.1C1106.3,639.7 1108.8,639.4 1111.2,639.1C1113.6,638.8 1116.1,638.4 1118.5,638.0C1121.0,637.7 1123.4,637.3 1125.9,636.8C1128.4,636.4 1130.8,635.9 1133.3,635.3C1135.8,634.8 1138.2,634.2 1140.7,633.7C1143.2,633.1 1145.7,632.5 1148.1,631.9C1150.5,631.3 1153.8,630.6 1155.0,630.3"/>
<path d="M151.7,765.6C152.5,765.9 154.5,767.0 156.5,767.7C158.5,768.5 161.1,769.2 163.4,770.1C165.8,770.9 168.4,771.7 170.7,772.8C173.1,773.9 175.3,775.5 177.6,776.6C179.9,777.6 182.4,778.7 184.5,779.1C186.7,779.5 188.7,779.0 190.7,779.1C192.7,779.1 194.4,779.0 196.4,779.4C198.4,779.8 200.6,780.7 202.8,781.3C205.0,781.9 207.4,782.4 209.6,783.1C211.7,783.8 213.9,784.6 215.9,785.5C217.8,786.5 219.4,788.0 221.4,788.9C223.4,789.9 225.3,790.7 227.7,791.1C230.0,791.5 232.8,791.1 235.5,791.2C238.1,791.2 241.0,791.2 243.6,791.3C246.2,791.4 248.7,791.7 251.0,791.8C253.4,792.0 255.6,791.9 257.8,792.4C260.0,792.9 262.2,793.8 264.2,795.0C266.3,796.2 268.2,798.1 270.3,799.4C272.4,800.7 274.4,802.0 276.6,802.9C278.9,803.8 281.3,804.2 283.8,804.7C286.2,805.2 288.8,805.8 291.3,806.0C293.9,806.2 296.6,806.2 299.1,806.0C301.6,805.7 304.0,804.8 306.2,804.8C308.3,804.8 310.1,805.1 312.0,805.9C313.9,806.7 315.7,808.3 317.6,809.5C319.5,810.7 321.4,811.9 323.4,813.0C325.3,814.1 327.3,815.1 329.2,816.1C331.2,817.1 333.2,818.5 335.2,819.1C337.3,819.7 339.2,820.0 341.6,819.8C343.9,819.7 346.4,818.5 349.3,818.1C352.1,817.6 355.4,817.2 358.5,817.3C361.6,817.5 364.8,818.2 367.7,818.9C370.6,819.6 373.4,820.3 375.8,821.5C378.2,822.6 380.1,824.1 382.1,825.7C384.0,827.2 385.5,829.4 387.3,830.8C389.2,832.2 391.1,833.4 393.0,834.0C394.9,834.5 396.8,834.2 398.8,834.1C400.7,834.0 402.5,833.7 404.4,833.4C406.3,833.1 408.2,832.7 410.3,832.2C412.5,831.7 414.8,830.6 417.2,830.3C419.7,829.9 422.5,829.8 425.2,829.9C427.9,830.1 430.7,831.0 433.5,831.1C436.2,831.2 439.1,831.1 441.8,830.6C444.4,830.1 447.1,829.1 449.5,828.1C451.9,827.1 454.2,825.8 456.3,824.6C458.5,823.4 460.5,822.0 462.6,821.0C464.7,820.0 466.8,819.1 469.0,818.4C471.2,817.7 473.5,817.3 475.8,816.7C478.1,816.1 480.4,815.5 482.8,814.7C485.2,813.9 487.6,812.9 490.0,811.9C492.4,810.9 494.8,809.7 497.0,808.6C499.2,807.5 501.4,806.4 503.5,805.4C505.5,804.4 507.5,803.6 509.5,802.8C511.6,801.9 513.6,801.3 515.8,800.5C518.0,799.8 520.3,799.1 522.7,798.2C525.1,797.4 527.7,796.4 530.2,795.3C532.6,794.2 535.2,792.9 537.4,791.7C539.7,790.4 541.8,788.9 543.8,787.6C545.9,786.3 547.6,785.0 549.7,783.8C551.7,782.7 553.7,781.7 556.0,780.7C558.2,779.8 560.7,779.1 563.3,778.4C565.8,777.7 568.5,777.1 571.1,776.5C573.7,775.8 576.4,775.1 578.9,774.3C581.4,773.5 583.7,772.5 586.0,771.4C588.2,770.4 590.1,769.1 592.2,767.9C594.2,766.7 596.2,765.4 598.3,764.3C600.4,763.1 602.6,762.0 604.9,761.1C607.2,760.1 609.7,759.3 612.0,758.5C614.4,757.6 616.8,756.9 619.2,756.1C621.5,755.4 623.8,754.6 626.2,754.0C628.5,753.4 630.9,752.8 633.3,752.3C635.7,751.8 638.1,751.4 640.6,751.0C643.1,750.7 645.7,750.3 648.2,750.0C650.7,749.7 653.3,749.5 655.8,749.2C658.3,748.9 660.8,748.6 663.3,748.2C665.7,747.9 668.2,747.5 670.6,747.1C673.0,746.7 675.4,746.2 677.8,745.7C680.2,745.1 682.6,744.5 685.0,743.9C687.5,743.3 690.0,742.6 692.5,741.9C695.0,741.3 697.5,740.6 700.0,740.0C702.5,739.3 705.0,738.7 707.5,738.1C709.9,737.5 712.3,736.9 714.7,736.3C717.0,735.6 719.3,735.0 721.7,734.3C724.0,733.7 726.3,732.9 728.6,732.2C731.0,731.5 733.3,730.7 735.7,729.9C738.1,729.1 740.6,728.2 743.0,727.4C745.4,726.6 747.9,725.8 750.3,725.0C752.7,724.2 755.1,723.4 757.5,722.7C759.9,722.0 762.2,721.3 764.6,720.6C767.0,719.9 769.3,719.3 771.7,718.7C774.0,718.0 776.4,717.4 778.8,716.7C781.2,716.1 783.7,715.4 786.1,714.8C788.5,714.1 791.0,713.5 793.5,712.9C795.9,712.2 798.4,711.6 800.9,711.0C803.4,710.5 805.9,710.0 808.4,709.5C810.9,709.1 813.4,708.7 815.9,708.4C818.4,708.1 820.9,707.8 823.3,707.6C825.8,707.4 828.3,707.3 830.7,707.1C833.2,707.0 835.7,706.8 838.2,706.6C840.6,706.5 843.1,706.3 845.6,706.0C848.1,705.8 850.6,705.5 853.1,705.2C855.7,704.9 858.2,704.6 860.7,704.2C863.3,703.9 865.8,703.5 868.3,703.2C870.8,702.8 873.3,702.5 875.8,702.1C878.2,701.7 880.7,701.3 883.1,700.9C885.5,700.5 887.9,700.1 890.3,699.6C892.7,699.1 895.1,698.6 897.6,698.0C900.0,697.5 902.4,696.8 904.9,696.2C907.3,695.5 909.8,694.8 912.3,694.0C914.7,693.3 917.2,692.5 919.6,691.8C922.0,691.1 924.4,690.3 926.8,689.6C929.2,688.9 931.5,688.2 933.9,687.6C936.3,686.9 938.6,686.2 941.0,685.6C943.4,684.9 945.9,684.3 948.3,683.6C950.7,682.9 953.2,682.2 955.6,681.5C958.0,680.8 960.4,680.1 962.8,679.4C965.2,678.6 967.6,677.9 970.0,677.2C972.4,676.4 974.8,675.7 977.2,675.1C979.6,674.4 982.1,673.8 984.6,673.2C987.0,672.7 989.5,672.2 992.0,671.7C994.5,671.3 997.0,670.9 999.5,670.6C1002.0,670.2 1004.4,669.9 1006.9,669.6C1009.3,669.3 1011.8,669.0 1014.2,668.7C1016.6,668.5 1019.0,668.2 1021.5,667.9C1024.0,667.6 1026.4,667.4 1028.9,667.1C1031.4,666.9 1034.0,666.7 1036.5,666.5C1039.1,666.4 1041.6,666.2 1044.2,666.2C1046.7,666.1 1049.3,666.0 1051.8,666.0C1054.4,666.0 1056.9,666.0 1059.4,666.0C1061.9,665.9 1064.3,665.9 1066.8,665.9C1069.3,665.8 1071.7,665.7 1074.2,665.5C1076.7,665.4 1079.1,665.2 1081.6,665.0C1084.1,664.8 1086.6,664.5 1089.2,664.3C1091.7,664.1 1094.2,663.8 1096.8,663.6C1099.3,663.3 1101.8,663.1 1104.3,662.9C1106.9,662.6 1109.4,662.4 1111.8,662.2C1114.3,661.9 1116.8,661.6 1119.2,661.3C1121.7,661.0 1124.1,660.6 1126.6,660.2C1129.0,659.8 1131.4,659.3 1133.8,658.7C1136.3,658.2 1138.7,657.6 1141.1,657.0C1143.5,656.4 1146.0,655.7 1148.4,655.1C1150.9,654.5 1153.5,653.8 1155.6,653.3C1157.7,652.8 1160.2,652.2 1161.1,652.0"/>
<path d="M149.9,784.0C150.7,784.2 153.1,784.7 155.1,785.5C157.1,786.2 159.5,787.6 161.9,788.7C164.2,789.8 166.7,790.9 169.1,792.1C171.6,793.3 174.1,794.5 176.5,795.8C178.9,797.1 181.1,798.9 183.5,799.9C185.9,800.9 188.6,801.6 191.1,801.7C193.6,801.9 196.3,801.2 198.7,801.0C201.0,800.9 203.1,800.9 205.1,801.0C207.2,801.2 209.2,801.7 211.1,802.1C213.1,802.5 215.1,802.6 217.0,803.2C219.0,803.8 220.9,804.6 222.8,805.6C224.7,806.6 226.4,808.3 228.4,809.3C230.5,810.3 232.5,811.1 234.9,811.6C237.2,812.1 239.8,811.9 242.5,812.2C245.2,812.4 248.2,812.8 251.0,813.0C253.8,813.3 256.7,813.6 259.3,813.9C261.9,814.1 264.3,814.0 266.6,814.6C268.8,815.2 270.7,816.2 272.6,817.4C274.6,818.5 276.2,820.2 278.0,821.3C279.8,822.5 281.6,823.3 283.6,824.0C285.5,824.7 287.6,825.0 289.7,825.5C291.8,825.9 294.0,826.5 296.3,826.7C298.7,826.9 301.4,826.8 304.0,826.7C306.7,826.5 309.7,825.8 312.4,826.0C315.0,826.2 317.5,827.0 320.0,827.9C322.4,828.8 324.6,830.3 326.9,831.4C329.3,832.5 331.7,833.3 333.9,834.3C336.2,835.2 338.4,836.1 340.6,837.0C342.7,837.9 344.8,839.1 346.7,839.6C348.6,840.1 350.3,840.0 352.1,839.9C353.8,839.7 355.2,838.7 357.1,838.6C359.0,838.5 361.3,838.7 363.7,839.2C366.1,839.7 368.9,840.8 371.5,841.7C374.1,842.7 376.9,843.6 379.3,844.8C381.6,845.9 383.6,847.5 385.6,848.9C387.7,850.2 389.2,852.0 391.4,852.9C393.6,853.9 396.2,854.3 398.7,854.4C401.3,854.5 404.4,853.7 407.0,853.4C409.6,853.1 412.1,852.9 414.4,852.5C416.6,852.1 418.5,851.6 420.3,851.0C422.2,850.3 423.6,849.1 425.6,848.7C427.6,848.3 429.8,848.4 432.2,848.6C434.5,848.8 437.1,849.9 439.6,850.0C442.1,850.1 444.8,849.8 447.4,849.2C450.0,848.6 452.7,847.4 455.2,846.4C457.8,845.4 460.3,844.2 462.8,843.2C465.2,842.3 467.5,841.3 469.7,840.6C472.0,839.8 474.2,839.4 476.3,838.9C478.4,838.3 480.4,837.9 482.4,837.3C484.4,836.6 486.3,835.9 488.4,835.0C490.5,834.0 492.6,832.9 494.9,831.8C497.2,830.7 499.7,829.4 502.2,828.3C504.7,827.1 507.4,825.9 509.9,824.8C512.4,823.8 514.9,822.8 517.3,821.9C519.7,821.0 521.9,820.2 524.1,819.4C526.4,818.6 528.4,818.0 530.6,817.1C532.8,816.3 535.0,815.5 537.3,814.5C539.6,813.5 542.0,812.4 544.4,811.3C546.8,810.1 549.3,808.8 551.7,807.6C554.1,806.5 556.5,805.2 558.8,804.2C561.2,803.1 563.4,802.2 565.7,801.4C568.0,800.7 570.3,800.1 572.7,799.6C575.1,799.1 577.6,798.8 580.0,798.4C582.5,797.9 585.1,797.6 587.5,797.0C590.0,796.5 592.4,795.8 594.7,795.0C597.0,794.1 599.2,793.1 601.4,792.1C603.5,791.0 605.5,789.8 607.7,788.7C609.8,787.6 611.9,786.4 614.2,785.4C616.4,784.3 618.8,783.4 621.2,782.4C623.6,781.5 626.1,780.6 628.5,779.8C630.9,778.9 633.3,778.0 635.7,777.2C638.0,776.5 640.3,775.7 642.7,775.1C645.1,774.5 647.4,774.1 649.8,773.6C652.3,773.2 654.7,772.8 657.2,772.5C659.7,772.1 662.3,771.8 664.8,771.4C667.4,771.1 670.0,770.8 672.6,770.4C675.2,770.1 677.8,769.7 680.3,769.4C682.8,769.1 685.3,768.7 687.7,768.4C690.2,768.1 692.6,767.8 695.0,767.5C697.4,767.1 699.8,766.8 702.2,766.4C704.6,766.0 707.1,765.6 709.5,765.2C712.0,764.7 714.5,764.3 717.0,763.7C719.5,763.2 722.0,762.6 724.5,762.0C726.9,761.4 729.4,760.7 731.8,759.9C734.2,759.2 736.5,758.4 738.8,757.5C741.2,756.7 743.5,755.8 745.8,755.0C748.1,754.1 750.5,753.2 752.8,752.4C755.2,751.6 757.6,750.8 760.0,750.0C762.4,749.2 764.9,748.5 767.3,747.8C769.8,747.1 772.2,746.4 774.7,745.7C777.1,745.0 779.5,744.4 781.9,743.7C784.4,743.0 786.8,742.4 789.2,741.7C791.6,741.1 794.0,740.5 796.5,739.9C798.9,739.3 801.3,738.7 803.8,738.2C806.2,737.7 808.7,737.3 811.2,736.9C813.7,736.5 816.2,736.2 818.7,736.0C821.2,735.7 823.7,735.6 826.2,735.4C828.7,735.2 831.3,735.1 833.8,734.9C836.3,734.8 838.9,734.6 841.4,734.4C843.9,734.2 846.4,733.9 848.9,733.7C851.3,733.4 853.8,733.1 856.3,732.8C858.7,732.5 861.2,732.1 863.6,731.8C866.1,731.5 868.5,731.2 871.0,730.9C873.5,730.6 876.0,730.3 878.5,730.1C881.0,729.8 883.6,729.6 886.1,729.3C888.6,729.0 891.1,728.7 893.6,728.4C896.1,728.0 898.6,727.6 901.1,727.2C903.5,726.7 905.9,726.2 908.4,725.7C910.8,725.2 913.2,724.6 915.7,724.0C918.1,723.4 920.5,722.8 923.0,722.2C925.4,721.6 927.9,721.0 930.4,720.4C932.8,719.8 935.3,719.2 937.7,718.6C940.2,718.0 942.6,717.4 945.0,716.8C947.4,716.2 949.8,715.5 952.2,714.9C954.6,714.2 956.9,713.5 959.4,712.8C961.8,712.0 964.2,711.3 966.6,710.5C969.1,709.8 971.5,709.0 973.9,708.3C976.4,707.5 978.8,706.8 981.2,706.1C983.7,705.5 986.0,704.8 988.4,704.3C990.8,703.7 993.2,703.2 995.6,702.8C998.1,702.3 1000.5,701.9 1002.9,701.5C1005.4,701.2 1007.9,700.8 1010.4,700.4C1012.9,700.1 1015.5,699.7 1018.0,699.4C1020.6,699.1 1023.1,698.7 1025.6,698.4C1028.1,698.1 1030.6,697.8 1033.1,697.5C1035.6,697.3 1038.0,697.1 1040.5,696.9C1043.0,696.8 1045.4,696.7 1047.9,696.6C1050.4,696.6 1052.9,696.6 1055.4,696.6C1057.9,696.7 1060.4,696.7 1063.0,696.8C1065.5,696.8 1068.1,696.9 1070.7,696.9C1073.2,696.9 1075.8,696.8 1078.3,696.8C1080.9,696.7 1083.4,696.6 1085.9,696.5C1088.4,696.4 1090.9,696.3 1093.4,696.2C1095.8,696.1 1098.3,695.9 1100.7,695.8C1103.2,695.7 1105.6,695.5 1108.1,695.4C1110.6,695.2 1113.0,695.1 1115.5,694.9C1118.0,694.6 1120.5,694.4 1123.0,694.1C1125.5,693.8 1128.1,693.4 1130.6,693.0C1133.1,692.6 1135.6,692.1 1138.1,691.6C1140.6,691.1 1143.1,690.6 1145.6,690.0C1148.0,689.5 1150.7,688.9 1152.8,688.4C1154.9,688.0 1157.4,687.5 1158.3,687.3"/>
<path d="M152.9,807.0C153.6,806.8 155.6,805.9 157.4,806.0C159.2,806.1 161.4,806.6 163.4,807.5C165.5,808.4 167.5,810.1 169.6,811.3C171.6,812.5 173.7,813.7 175.7,814.9C177.8,816.0 179.8,817.2 181.9,818.3C183.9,819.5 185.8,820.9 188.0,821.6C190.1,822.3 192.3,822.5 194.8,822.4C197.2,822.3 200.1,821.3 202.7,821.0C205.3,820.7 208.0,820.6 210.6,820.7C213.1,820.8 215.5,821.2 217.9,821.6C220.3,822.1 222.7,822.4 224.9,823.2C227.1,824.0 229.1,825.2 231.2,826.5C233.2,827.8 235.1,829.8 237.2,831.0C239.2,832.2 241.3,833.1 243.5,833.7C245.7,834.3 247.9,834.1 250.3,834.4C252.7,834.6 255.3,835.0 257.9,835.1C260.4,835.3 263.3,835.4 265.8,835.5C268.4,835.6 271.0,835.3 273.2,835.8C275.5,836.3 277.4,837.4 279.3,838.4C281.2,839.4 282.8,841.0 284.7,842.1C286.6,843.1 288.6,843.9 290.6,844.6C292.7,845.3 294.8,845.7 296.9,846.2C299.0,846.7 301.0,847.5 303.1,847.7C305.2,848.0 307.2,847.8 309.5,847.7C311.9,847.6 314.6,847.0 317.2,847.2C319.8,847.5 322.5,848.3 325.1,849.2C327.7,850.1 330.0,851.5 332.6,852.5C335.1,853.4 337.8,854.2 340.3,855.1C342.8,856.0 345.3,857.0 347.7,858.0C350.0,858.9 352.3,860.2 354.6,860.7C356.8,861.2 359.3,861.2 361.3,861.1C363.2,861.1 364.7,860.3 366.4,860.4C368.1,860.4 369.5,861.0 371.3,861.6C373.1,862.3 375.0,863.3 377.0,864.1C379.1,864.9 381.3,865.5 383.4,866.5C385.5,867.4 387.5,868.7 389.6,869.7C391.6,870.8 393.5,872.2 395.8,872.9C398.1,873.5 400.6,873.6 403.3,873.6C406.1,873.5 409.3,872.9 412.3,872.6C415.3,872.4 418.5,872.4 421.2,872.0C423.9,871.6 426.4,870.9 428.6,870.3C430.8,869.6 432.4,868.4 434.4,868.1C436.4,867.9 438.3,868.3 440.4,868.6C442.4,869.0 444.6,870.0 446.7,870.0C448.8,870.0 450.9,869.4 453.1,868.6C455.3,867.9 457.6,866.5 460.0,865.5C462.3,864.5 464.8,863.5 467.2,862.6C469.7,861.8 472.3,861.1 474.7,860.4C477.2,859.8 479.8,859.4 482.2,858.7C484.6,858.0 486.9,857.4 489.1,856.5C491.3,855.6 493.2,854.5 495.2,853.4C497.3,852.2 499.1,850.9 501.2,849.6C503.3,848.4 505.5,847.0 507.9,845.8C510.3,844.6 513.0,843.4 515.7,842.5C518.4,841.5 521.3,840.8 524.0,840.1C526.7,839.5 529.5,839.0 532.1,838.6C534.6,838.1 537.0,837.8 539.3,837.2C541.6,836.7 543.7,836.1 545.8,835.3C548.0,834.6 550.0,833.6 552.2,832.6C554.4,831.6 556.6,830.4 559.0,829.4C561.4,828.3 563.9,827.2 566.4,826.3C568.8,825.4 571.4,824.6 573.8,824.0C576.2,823.4 578.6,823.0 581.0,822.6C583.3,822.2 585.7,822.0 588.0,821.7C590.4,821.3 592.8,821.0 595.2,820.5C597.6,820.0 600.0,819.3 602.3,818.4C604.7,817.6 607.0,816.5 609.3,815.3C611.5,814.2 613.7,812.9 615.8,811.6C618.0,810.4 620.1,809.0 622.3,807.9C624.5,806.7 626.8,805.5 629.2,804.5C631.5,803.5 634.0,802.6 636.5,801.7C639.0,800.9 641.5,800.2 644.0,799.5C646.5,798.8 649.0,798.1 651.4,797.5C653.8,796.9 656.2,796.5 658.6,796.0C661.0,795.6 663.4,795.4 665.9,795.1C668.3,794.8 670.7,794.6 673.2,794.3C675.7,794.1 678.2,793.8 680.8,793.6C683.3,793.3 686.0,793.1 688.5,792.9C691.1,792.7 693.7,792.5 696.3,792.4C698.8,792.2 701.4,792.1 703.8,791.9C706.3,791.7 708.8,791.5 711.2,791.2C713.6,790.9 715.9,790.6 718.3,790.1C720.7,789.7 723.1,789.1 725.5,788.5C727.9,787.9 730.3,787.2 732.8,786.4C735.3,785.7 737.8,784.9 740.2,784.1C742.7,783.3 745.2,782.4 747.7,781.6C750.1,780.8 752.5,780.0 754.9,779.2C757.3,778.5 759.6,777.7 762.0,777.0C764.4,776.3 766.7,775.7 769.1,775.0C771.5,774.4 773.9,773.8 776.3,773.2C778.7,772.6 781.2,772.0 783.6,771.4C786.1,770.8 788.5,770.1 791.0,769.5C793.5,768.9 796.0,768.3 798.4,767.8C800.9,767.2 803.4,766.6 805.8,766.1C808.3,765.6 810.8,765.1 813.2,764.7C815.7,764.3 818.2,764.0 820.6,763.6C823.1,763.3 825.5,763.1 828.0,762.8C830.5,762.5 832.9,762.3 835.4,762.0C837.9,761.8 840.4,761.5 842.9,761.2C845.4,761.0 847.9,760.6 850.4,760.4C852.9,760.1 855.5,759.7 858.0,759.4C860.5,759.2 863.1,758.9 865.6,758.7C868.1,758.4 870.6,758.2 873.1,758.1C875.6,757.9 878.1,757.8 880.5,757.7C883.0,757.6 885.5,757.5 887.9,757.4C890.4,757.3 892.9,757.2 895.4,757.0C897.9,756.8 900.4,756.6 903.0,756.3C905.5,756.0 908.0,755.6 910.5,755.2C913.1,754.8 915.6,754.3 918.1,753.8C920.6,753.3 923.0,752.8 925.5,752.3C927.9,751.8 930.3,751.2 932.8,750.7C935.2,750.2 937.6,749.7 940.1,749.2C942.5,748.6 944.9,748.1 947.4,747.5C949.8,746.9 952.3,746.3 954.7,745.7C957.2,745.0 959.6,744.4 962.0,743.7C964.4,743.0 966.8,742.2 969.2,741.5C971.6,740.7 973.9,740.0 976.3,739.3C978.7,738.6 981.2,737.9 983.6,737.2C986.1,736.6 988.5,736.0 991.0,735.4C993.5,734.9 996.0,734.4 998.5,733.9C1001.0,733.4 1003.4,733.0 1005.9,732.5C1008.3,732.1 1010.7,731.7 1013.2,731.3C1015.6,730.9 1018.0,730.5 1020.5,730.1C1022.9,729.7 1025.4,729.3 1027.9,728.9C1030.4,728.6 1033.0,728.2 1035.5,728.0C1038.1,727.7 1040.7,727.5 1043.2,727.3C1045.8,727.2 1048.4,727.1 1050.9,727.1C1053.4,727.1 1055.9,727.1 1058.4,727.2C1060.9,727.2 1063.4,727.3 1065.8,727.4C1068.3,727.4 1070.7,727.5 1073.2,727.5C1075.7,727.6 1078.1,727.6 1080.6,727.5C1083.1,727.5 1085.6,727.4 1088.1,727.4C1090.6,727.3 1093.1,727.2 1095.7,727.2C1098.2,727.1 1100.8,727.0 1103.3,727.0C1105.9,726.9 1108.4,726.8 1111.0,726.8C1113.5,726.7 1116.0,726.7 1118.5,726.6C1121.0,726.5 1123.5,726.4 1126.0,726.2C1128.5,726.0 1131.0,725.8 1133.5,725.5C1136.0,725.3 1138.5,724.9 1140.9,724.6C1143.4,724.2 1145.9,723.9 1148.4,723.5C1150.8,723.1 1153.5,722.7 1155.6,722.4C1157.8,722.1 1160.3,721.7 1161.2,721.6"/>
<path d="M153.1,830.5C154.1,830.3 157.0,829.6 159.2,829.2C161.4,828.8 164.1,828.0 166.4,828.1C168.6,828.2 170.6,829.1 172.6,830.0C174.6,830.8 176.4,832.3 178.3,833.3C180.2,834.4 182.2,835.3 184.1,836.3C186.1,837.3 188.0,838.4 190.0,839.3C191.9,840.3 193.8,841.6 195.8,842.1C197.7,842.5 199.6,842.4 201.7,842.1C203.8,841.9 206.0,840.8 208.5,840.6C210.9,840.3 213.6,840.4 216.3,840.8C219.0,841.1 221.8,841.8 224.4,842.5C227.0,843.3 229.7,844.0 232.1,845.1C234.5,846.2 236.6,847.9 238.7,849.4C240.8,850.8 242.8,852.8 244.9,853.9C247.0,855.0 249.2,855.6 251.4,856.0C253.6,856.3 255.7,856.0 257.8,856.0C260.0,856.1 262.1,856.2 264.4,856.2C266.7,856.2 269.1,855.9 271.5,855.9C273.9,855.9 276.5,855.7 278.7,856.2C280.9,856.8 282.8,858.0 284.8,859.2C286.9,860.3 288.7,862.0 290.9,863.1C293.2,864.2 295.8,865.0 298.3,865.7C300.9,866.5 303.8,867.1 306.3,867.6C308.8,868.2 311.3,869.0 313.4,869.1C315.5,869.3 317.2,868.8 319.1,868.7C320.9,868.6 322.7,868.0 324.7,868.3C326.7,868.6 328.8,869.6 330.9,870.6C332.9,871.5 334.9,872.8 337.0,873.8C339.1,874.8 341.4,875.6 343.6,876.6C345.8,877.6 348.0,878.8 350.4,879.8C352.7,880.7 355.0,882.0 357.7,882.4C360.3,882.9 363.5,882.6 366.3,882.5C369.1,882.4 371.9,881.8 374.4,881.9C376.9,882.0 379.0,882.6 381.1,883.1C383.3,883.6 385.4,884.3 387.4,884.9C389.5,885.5 391.6,885.9 393.6,886.7C395.6,887.6 397.6,888.9 399.6,889.9C401.6,891.0 403.5,892.4 405.5,893.1C407.5,893.8 409.4,893.9 411.5,894.0C413.7,894.1 416.0,893.8 418.4,893.6C420.9,893.4 423.6,893.3 426.2,892.8C428.9,892.3 431.6,891.3 434.1,890.6C436.6,889.9 438.9,888.9 441.2,888.7C443.4,888.4 445.5,889.1 447.7,889.2C449.8,889.3 451.9,889.8 454.0,889.4C456.1,889.0 458.1,887.8 460.2,886.8C462.2,885.8 464.2,884.4 466.4,883.4C468.6,882.3 470.8,881.4 473.1,880.6C475.4,879.8 477.9,879.3 480.4,878.6C482.9,877.9 485.5,877.3 488.1,876.5C490.7,875.7 493.3,874.7 495.8,873.7C498.4,872.6 500.8,871.4 503.2,870.2C505.5,869.0 507.7,867.7 509.9,866.5C512.1,865.4 514.2,864.3 516.5,863.4C518.7,862.6 521.1,861.9 523.5,861.4C526.0,861.0 528.6,860.8 531.2,860.6C533.9,860.4 536.7,860.5 539.3,860.3C542.0,860.2 544.7,860.1 547.2,859.6C549.6,859.2 552.0,858.6 554.2,857.9C556.5,857.1 558.4,856.0 560.6,855.0C562.7,854.0 564.7,852.7 566.9,851.6C569.1,850.6 571.4,849.4 573.8,848.5C576.1,847.6 578.7,846.8 581.1,846.1C583.6,845.4 586.1,845.0 588.6,844.5C591.0,844.1 593.5,843.8 595.9,843.3C598.3,842.9 600.6,842.5 603.0,841.8C605.4,841.2 607.8,840.5 610.2,839.6C612.5,838.6 614.9,837.5 617.3,836.4C619.6,835.2 622.0,833.9 624.3,832.7C626.6,831.5 628.8,830.2 631.0,829.1C633.3,828.0 635.5,827.0 637.8,826.1C640.1,825.2 642.5,824.6 644.9,824.0C647.3,823.4 649.8,823.0 652.4,822.5C654.9,822.1 657.5,821.7 660.0,821.3C662.5,820.8 665.0,820.3 667.5,819.9C670.0,819.5 672.4,819.1 674.8,818.7C677.3,818.4 679.6,818.1 682.1,817.8C684.5,817.5 686.8,817.2 689.3,816.9C691.7,816.7 694.2,816.4 696.7,816.2C699.2,816.0 701.7,815.8 704.3,815.6C706.8,815.4 709.4,815.2 712.0,815.0C714.5,814.8 717.1,814.6 719.6,814.3C722.2,814.1 724.6,813.8 727.1,813.3C729.6,812.9 731.9,812.4 734.4,811.8C736.8,811.3 739.1,810.6 741.5,809.9C743.9,809.3 746.3,808.6 748.8,808.0C751.2,807.3 753.7,806.7 756.2,806.1C758.6,805.5 761.1,804.9 763.6,804.3C766.1,803.8 768.6,803.3 771.0,802.7C773.4,802.2 775.9,801.7 778.3,801.1C780.7,800.5 783.1,800.0 785.5,799.4C787.9,798.8 790.3,798.1 792.7,797.5C795.1,796.9 797.5,796.2 799.9,795.5C802.4,794.9 804.8,794.2 807.2,793.6C809.7,793.0 812.2,792.5 814.6,791.9C817.1,791.4 819.6,790.9 822.1,790.5C824.6,790.1 827.1,789.7 829.6,789.4C832.0,789.0 834.5,788.7 837.0,788.4C839.5,788.1 842.0,787.8 844.4,787.5C846.9,787.2 849.4,786.9 851.9,786.7C854.3,786.4 856.8,786.1 859.3,785.9C861.8,785.7 864.3,785.6 866.8,785.4C869.3,785.3 871.8,785.2 874.4,785.2C876.9,785.1 879.5,785.2 882.0,785.2C884.6,785.2 887.1,785.2 889.7,785.2C892.2,785.2 894.7,785.1 897.2,785.0C899.7,784.9 902.2,784.8 904.7,784.5C907.1,784.3 909.6,784.0 912.1,783.7C914.6,783.3 917.0,783.0 919.5,782.6C922.0,782.2 924.5,781.7 927.0,781.3C929.5,780.9 932.0,780.5 934.5,780.1C936.9,779.7 939.4,779.3 941.9,778.8C944.3,778.4 946.7,778.0 949.2,777.5C951.6,777.0 954.0,776.5 956.4,776.0C958.9,775.4 961.3,774.8 963.8,774.2C966.2,773.6 968.7,772.9 971.2,772.3C973.6,771.6 976.1,770.9 978.6,770.2C981.0,769.6 983.4,768.9 985.8,768.3C988.3,767.7 990.6,767.1 993.0,766.6C995.5,766.0 997.8,765.5 1000.3,765.0C1002.7,764.5 1005.2,764.1 1007.7,763.6C1010.2,763.1 1012.7,762.7 1015.2,762.2C1017.8,761.8 1020.3,761.3 1022.8,760.8C1025.3,760.4 1027.8,759.9 1030.3,759.5C1032.8,759.2 1035.2,758.8 1037.6,758.5C1040.1,758.2 1042.5,757.9 1044.9,757.7C1047.4,757.6 1049.8,757.5 1052.3,757.4C1054.8,757.3 1057.3,757.4 1059.8,757.4C1062.3,757.4 1064.9,757.4 1067.5,757.5C1070.0,757.5 1072.6,757.5 1075.1,757.5C1077.7,757.5 1080.2,757.5 1082.7,757.5C1085.3,757.4 1087.8,757.4 1090.3,757.4C1092.8,757.3 1095.2,757.3 1097.7,757.3C1100.2,757.3 1102.7,757.4 1105.2,757.4C1107.6,757.5 1110.1,757.6 1112.6,757.7C1115.1,757.8 1117.7,757.9 1120.2,758.0C1122.7,758.1 1125.2,758.1 1127.8,758.1C1130.3,758.1 1132.8,758.1 1135.4,758.0C1137.9,757.8 1140.4,757.7 1142.9,757.4C1145.4,757.2 1148.1,756.9 1150.4,756.7C1152.7,756.4 1155.7,756.0 1156.8,755.9"/>
<path d="M151.6,851.6C152.4,851.6 154.7,851.9 156.8,851.6C158.9,851.3 161.6,850.1 164.1,849.6C166.5,849.0 169.2,848.2 171.5,848.4C173.8,848.5 175.8,849.5 177.9,850.4C179.9,851.3 181.8,852.6 183.9,853.7C186.1,854.8 188.5,855.9 190.8,857.0C193.2,858.2 195.6,859.6 198.0,860.7C200.4,861.8 202.8,863.0 205.0,863.4C207.3,863.7 209.3,863.1 211.4,862.8C213.5,862.5 215.4,861.5 217.6,861.4C219.7,861.3 222.1,861.8 224.4,862.4C226.8,862.9 229.3,863.8 231.7,864.7C234.0,865.5 236.4,866.5 238.6,867.7C240.8,868.9 242.7,870.7 244.7,872.1C246.8,873.4 248.7,875.1 250.8,875.9C253.0,876.8 255.5,876.9 257.8,877.0C260.1,877.1 262.4,876.6 264.6,876.4C266.8,876.3 268.9,876.3 271.1,876.1C273.3,876.0 275.6,875.6 277.8,875.7C280.0,875.9 282.4,876.1 284.5,876.9C286.6,877.7 288.5,879.4 290.6,880.7C292.7,882.1 294.6,883.8 297.0,885.0C299.4,886.1 302.1,886.9 304.9,887.7C307.7,888.5 310.9,889.1 313.8,889.6C316.7,890.1 319.8,890.6 322.4,890.6C325.0,890.5 327.3,889.7 329.3,889.5C331.4,889.4 333.0,889.0 334.7,889.5C336.5,889.9 338.1,891.2 339.8,892.2C341.6,893.2 343.2,894.5 345.0,895.5C346.8,896.5 348.6,897.4 350.4,898.4C352.3,899.4 354.2,900.7 356.3,901.6C358.3,902.5 360.3,903.4 362.7,903.7C365.1,903.9 367.8,903.3 370.6,903.1C373.5,902.8 376.9,902.2 379.9,902.3C382.9,902.4 385.9,903.0 388.7,903.5C391.4,903.9 394.2,904.5 396.7,905.2C399.2,905.9 401.5,906.6 403.6,907.6C405.8,908.7 407.5,910.5 409.5,911.7C411.4,913.0 413.3,914.6 415.2,915.3C417.1,916.0 419.1,916.1 420.9,916.1C422.8,916.1 424.4,915.6 426.3,915.1C428.1,914.6 430.0,914.0 432.1,913.2C434.2,912.3 436.6,911.0 439.0,910.2C441.3,909.3 443.9,908.5 446.3,908.1C448.8,907.6 451.2,908.0 453.6,907.7C456.1,907.4 458.5,907.1 460.9,906.3C463.3,905.5 465.6,904.1 467.9,903.0C470.2,901.9 472.5,900.8 474.7,899.9C477.0,899.1 479.3,898.5 481.6,897.9C483.9,897.3 486.2,896.8 488.6,896.2C490.9,895.5 493.2,894.8 495.7,894.0C498.1,893.2 500.7,892.2 503.2,891.2C505.8,890.2 508.5,889.1 511.1,888.2C513.7,887.2 516.3,886.2 518.8,885.5C521.3,884.8 523.7,884.3 526.0,883.9C528.3,883.6 530.5,883.5 532.8,883.4C535.0,883.3 537.3,883.5 539.6,883.4C542.0,883.4 544.4,883.4 546.8,883.1C549.3,882.8 551.9,882.3 554.3,881.6C556.8,880.9 559.4,880.0 561.7,878.9C564.1,877.9 566.4,876.6 568.7,875.4C570.9,874.2 573.0,872.8 575.2,871.7C577.5,870.5 579.7,869.4 582.0,868.5C584.4,867.6 586.8,866.8 589.3,866.2C591.8,865.6 594.4,865.2 596.9,864.8C599.4,864.4 602.0,864.1 604.5,863.7C607.0,863.3 609.4,862.9 611.8,862.4C614.2,861.8 616.6,861.1 618.9,860.3C621.3,859.5 623.7,858.5 626.1,857.5C628.4,856.6 630.8,855.4 633.2,854.4C635.6,853.4 638.0,852.4 640.4,851.5C642.7,850.6 645.1,849.9 647.4,849.2C649.7,848.6 652.0,848.1 654.4,847.6C656.7,847.2 659.1,846.9 661.5,846.5C663.9,846.1 666.4,845.8 668.9,845.3C671.3,844.8 673.9,844.2 676.4,843.6C678.9,843.0 681.4,842.2 683.9,841.6C686.4,841.0 688.9,840.4 691.4,840.0C693.8,839.6 696.3,839.2 698.7,838.9C701.1,838.6 703.5,838.3 705.9,838.1C708.4,837.9 710.8,837.8 713.3,837.7C715.8,837.5 718.3,837.5 720.8,837.3C723.4,837.2 725.9,837.1 728.5,837.0C731.1,836.8 733.7,836.6 736.3,836.4C738.8,836.1 741.4,835.8 743.9,835.5C746.4,835.1 748.8,834.6 751.3,834.2C753.7,833.7 756.1,833.2 758.5,832.8C760.9,832.3 763.3,831.8 765.7,831.4C768.1,830.9 770.6,830.4 773.0,829.9C775.4,829.4 777.9,828.8 780.4,828.3C782.8,827.7 785.3,827.1 787.8,826.4C790.2,825.7 792.7,825.0 795.1,824.3C797.5,823.6 800.0,822.8 802.4,822.1C804.8,821.4 807.2,820.7 809.6,820.0C812.1,819.4 814.5,818.8 816.9,818.2C819.4,817.7 821.8,817.2 824.2,816.7C826.7,816.3 829.2,815.9 831.6,815.6C834.1,815.3 836.6,815.0 839.1,814.7C841.6,814.4 844.1,814.1 846.7,813.9C849.2,813.6 851.7,813.4 854.3,813.2C856.8,812.9 859.3,812.7 861.9,812.6C864.4,812.4 866.9,812.3 869.4,812.2C871.9,812.1 874.4,812.0 876.8,812.0C879.3,812.0 881.8,812.0 884.3,812.0C886.8,812.0 889.3,812.1 891.8,812.0C894.3,812.0 896.8,812.0 899.4,811.9C901.9,811.8 904.4,811.7 906.9,811.5C909.5,811.3 912.0,811.1 914.5,810.9C917.0,810.6 919.5,810.3 922.0,810.1C924.5,809.8 926.9,809.6 929.4,809.3C931.9,809.0 934.4,808.8 936.8,808.6C939.3,808.3 941.8,808.1 944.3,807.8C946.8,807.5 949.3,807.3 951.8,806.9C954.3,806.6 956.8,806.2 959.3,805.7C961.8,805.3 964.2,804.8 966.7,804.2C969.1,803.7 971.5,803.1 974.0,802.5C976.4,801.9 978.8,801.2 981.3,800.6C983.8,800.0 986.2,799.4 988.7,798.8C991.2,798.3 993.7,797.7 996.2,797.2C998.7,796.7 1001.2,796.2 1003.6,795.7C1006.1,795.2 1008.5,794.7 1010.9,794.3C1013.3,793.8 1015.6,793.3 1018.1,792.8C1020.5,792.3 1022.9,791.8 1025.3,791.3C1027.8,790.8 1030.2,790.3 1032.8,789.9C1035.3,789.4 1037.8,789.0 1040.4,788.7C1042.9,788.3 1045.5,788.0 1048.0,787.8C1050.5,787.6 1053.1,787.5 1055.6,787.3C1058.1,787.2 1060.5,787.2 1063.0,787.2C1065.5,787.1 1067.9,787.1 1070.4,787.1C1072.8,787.1 1075.3,787.1 1077.8,787.0C1080.3,787.0 1082.8,787.0 1085.3,787.0C1087.9,787.0 1090.4,787.0 1093.0,787.1C1095.5,787.1 1098.1,787.2 1100.6,787.3C1103.2,787.5 1105.7,787.6 1108.3,787.8C1110.8,788.0 1113.3,788.2 1115.8,788.4C1118.3,788.6 1120.8,788.9 1123.3,789.0C1125.8,789.2 1128.3,789.3 1130.7,789.4C1133.2,789.4 1135.7,789.4 1138.2,789.3C1140.7,789.3 1143.2,789.1 1145.6,788.9C1148.1,788.8 1150.8,788.5 1153.1,788.3C1155.4,788.1 1158.5,787.8 1159.5,787.7"/>
<path d="M153.2,872.2C154.0,872.1 156.1,872.1 157.9,871.8C159.7,871.4 161.9,870.9 163.9,870.2C165.9,869.5 167.9,868.1 170.0,867.6C172.1,867.2 174.4,866.9 176.5,867.5C178.6,868.0 180.6,869.6 182.7,870.9C184.9,872.3 187.0,874.1 189.3,875.6C191.7,877.1 194.3,878.5 196.9,879.9C199.5,881.3 202.2,883.0 204.8,883.9C207.5,884.9 210.2,885.6 212.8,885.6C215.3,885.6 217.9,884.4 220.2,883.9C222.6,883.4 224.7,882.5 226.8,882.5C228.9,882.5 230.9,883.2 233.0,883.8C235.0,884.4 237.1,885.2 239.1,886.2C241.1,887.1 243.1,888.2 245.0,889.5C246.9,890.8 248.7,892.6 250.7,893.9C252.6,895.2 254.6,896.7 256.9,897.3C259.2,897.9 261.8,897.6 264.3,897.5C266.9,897.4 269.6,896.7 272.2,896.5C274.7,896.3 277.3,896.3 279.7,896.2C282.1,896.2 284.4,895.9 286.6,896.3C288.8,896.6 290.9,897.4 292.9,898.5C294.9,899.6 296.7,901.6 298.6,903.1C300.5,904.6 302.3,906.3 304.4,907.4C306.4,908.6 308.4,909.3 310.7,909.9C313.1,910.6 315.6,911.1 318.2,911.4C320.9,911.7 323.9,911.7 326.8,911.5C329.7,911.3 332.9,910.2 335.5,910.0C338.2,909.9 340.5,909.8 342.7,910.4C344.8,911.0 346.6,912.4 348.6,913.5C350.6,914.5 352.7,915.7 354.7,916.8C356.8,917.8 359.1,918.7 361.2,919.8C363.3,920.8 365.4,922.2 367.4,922.9C369.3,923.7 371.1,924.4 372.9,924.4C374.7,924.5 376.2,923.6 378.2,923.3C380.3,923.0 382.8,922.5 385.3,922.7C387.8,922.9 390.6,923.7 393.2,924.4C395.8,925.0 398.5,925.7 400.9,926.7C403.4,927.6 405.7,928.7 407.8,930.1C410.0,931.4 411.6,933.3 413.7,934.6C415.8,935.8 418.0,937.2 420.3,937.6C422.6,938.1 425.3,937.7 427.5,937.2C429.7,936.7 431.7,935.6 433.6,934.7C435.6,933.8 437.2,932.8 439.1,931.7C441.0,930.6 442.8,929.2 444.9,928.1C447.0,927.1 449.3,926.1 451.8,925.5C454.2,924.9 456.8,925.0 459.4,924.5C461.9,924.0 464.5,923.5 467.1,922.7C469.6,922.0 472.2,920.7 474.7,920.0C477.2,919.2 479.8,918.6 482.3,918.1C484.9,917.6 487.4,917.4 489.9,917.0C492.3,916.6 494.6,916.3 496.9,915.7C499.2,915.2 501.3,914.5 503.5,913.8C505.7,913.0 507.8,912.1 510.1,911.3C512.4,910.4 514.8,909.5 517.3,908.8C519.8,908.1 522.4,907.4 525.0,906.9C527.6,906.4 530.3,906.2 532.8,905.9C535.3,905.7 537.8,905.7 540.1,905.5C542.5,905.3 544.8,905.3 547.1,905.0C549.4,904.7 551.6,904.3 554.0,903.7C556.3,903.0 558.6,902.2 561.0,901.3C563.4,900.3 565.8,899.1 568.3,898.0C570.7,896.8 573.2,895.5 575.5,894.4C577.9,893.2 580.3,892.0 582.6,891.0C585.0,890.0 587.3,889.1 589.6,888.4C592.0,887.7 594.4,887.2 596.9,886.8C599.4,886.4 601.9,886.2 604.4,885.9C607.0,885.7 609.6,885.6 612.1,885.3C614.6,885.0 617.2,884.8 619.6,884.3C622.1,883.9 624.4,883.3 626.8,882.7C629.1,882.0 631.4,881.2 633.7,880.4C636.0,879.5 638.3,878.6 640.7,877.7C643.0,876.8 645.4,875.9 647.9,875.1C650.3,874.3 652.8,873.6 655.2,872.9C657.6,872.2 660.0,871.6 662.4,871.0C664.8,870.5 667.2,870.0 669.5,869.4C671.9,868.9 674.2,868.4 676.6,867.8C679.0,867.2 681.4,866.6 683.8,865.9C686.3,865.3 688.8,864.5 691.3,863.8C693.8,863.1 696.3,862.3 698.9,861.8C701.4,861.2 704.0,860.9 706.5,860.6C709.0,860.3 711.5,860.2 714.0,860.1C716.5,860.0 718.9,860.0 721.3,859.9C723.8,859.9 726.2,859.9 728.7,859.8C731.1,859.8 733.6,859.7 736.1,859.6C738.6,859.5 741.1,859.3 743.7,859.1C746.2,858.9 748.8,858.7 751.3,858.4C753.9,858.1 756.4,857.8 758.9,857.4C761.4,857.1 763.9,856.6 766.3,856.1C768.8,855.7 771.2,855.2 773.6,854.6C776.0,854.1 778.4,853.5 780.8,852.9C783.2,852.3 785.6,851.6 788.0,850.9C790.4,850.3 792.8,849.5 795.2,848.8C797.7,848.1 800.1,847.3 802.5,846.6C805.0,845.8 807.4,845.1 809.9,844.4C812.3,843.8 814.8,843.1 817.3,842.6C819.7,842.0 822.2,841.5 824.6,841.1C827.1,840.6 829.5,840.2 832.0,839.9C834.5,839.5 836.9,839.2 839.4,838.8C841.8,838.5 844.3,838.2 846.7,837.8C849.2,837.5 851.7,837.1 854.2,836.8C856.7,836.5 859.2,836.2 861.7,835.9C864.2,835.6 866.7,835.3 869.3,835.1C871.8,834.9 874.3,834.7 876.8,834.6C879.4,834.4 881.9,834.3 884.4,834.3C886.9,834.2 889.3,834.2 891.8,834.1C894.3,834.0 896.8,834.0 899.2,833.9C901.7,833.8 904.2,833.7 906.7,833.6C909.2,833.5 911.7,833.4 914.2,833.2C916.7,833.1 919.2,832.9 921.7,832.7C924.3,832.6 926.8,832.4 929.3,832.3C931.8,832.1 934.3,832.0 936.8,831.9C939.3,831.8 941.8,831.7 944.3,831.5C946.8,831.3 949.3,831.1 951.8,830.9C954.2,830.6 956.7,830.3 959.3,830.0C961.8,829.6 964.3,829.2 966.8,828.7C969.3,828.2 971.8,827.6 974.2,827.1C976.7,826.5 979.1,825.9 981.6,825.3C984.0,824.7 986.4,824.1 988.8,823.6C991.2,823.0 993.5,822.5 996.0,821.9C998.4,821.4 1000.8,820.9 1003.3,820.4C1005.8,819.9 1008.3,819.4 1010.8,818.9C1013.2,818.3 1015.8,817.8 1018.2,817.2C1020.7,816.7 1023.1,816.1 1025.6,815.5C1028.0,815.0 1030.4,814.4 1032.8,813.8C1035.2,813.3 1037.5,812.7 1040.0,812.3C1042.4,811.8 1044.8,811.4 1047.3,811.1C1049.8,810.7 1052.4,810.4 1054.9,810.2C1057.5,810.0 1060.0,809.8 1062.6,809.6C1065.2,809.5 1067.7,809.4 1070.3,809.3C1072.8,809.2 1075.3,809.1 1077.8,809.0C1080.3,808.9 1082.8,808.8 1085.3,808.8C1087.7,808.7 1090.2,808.7 1092.7,808.7C1095.1,808.7 1097.6,808.8 1100.1,808.8C1102.5,808.9 1105.0,809.1 1107.5,809.2C1110.1,809.4 1112.6,809.6 1115.1,809.8C1117.6,810.0 1120.1,810.2 1122.7,810.3C1125.2,810.5 1127.7,810.6 1130.2,810.7C1132.7,810.8 1135.2,810.8 1137.8,810.8C1140.3,810.8 1142.8,810.7 1145.3,810.6C1147.8,810.5 1150.5,810.3 1152.6,810.2C1154.7,810.1 1157.2,810.0 1158.2,810.0"/>
<path d="M151.8,892.1C152.8,892.0 155.5,891.5 157.8,891.1C160.0,890.7 162.9,890.2 165.4,889.7C167.9,889.2 170.4,888.5 172.6,888.0C174.9,887.6 177.0,886.6 179.1,886.8C181.2,887.0 183.3,887.8 185.4,889.1C187.5,890.4 189.4,892.7 191.5,894.5C193.6,896.3 195.7,898.3 197.9,899.9C200.1,901.5 202.4,902.8 204.7,904.0C207.0,905.1 209.3,906.2 211.7,906.6C214.1,907.0 216.5,906.8 218.9,906.2C221.4,905.7 224.0,904.1 226.5,903.4C228.9,902.8 231.2,902.2 233.4,902.4C235.6,902.5 237.6,903.4 239.7,904.3C241.7,905.1 243.8,906.1 245.8,907.4C247.9,908.6 249.9,910.0 251.9,911.5C253.9,913.0 255.8,915.0 257.9,916.3C260.0,917.5 262.1,918.6 264.4,919.0C266.8,919.3 269.3,918.5 271.9,918.1C274.5,917.8 277.4,917.2 280.2,916.9C283.0,916.7 286.0,916.7 288.7,916.8C291.4,916.9 294.0,916.9 296.3,917.6C298.6,918.3 300.6,919.5 302.6,920.9C304.5,922.3 306.2,924.4 308.0,925.9C309.8,927.5 311.6,929.0 313.4,930.0C315.2,931.0 317.0,931.4 318.8,931.8C320.6,932.2 322.4,932.5 324.4,932.5C326.4,932.4 328.6,932.0 331.0,931.5C333.5,931.1 336.5,930.0 339.2,929.9C341.9,929.9 344.6,930.3 347.0,931.1C349.4,931.9 351.4,933.5 353.8,934.7C356.2,935.9 358.8,937.1 361.4,938.3C364.0,939.4 366.9,940.5 369.6,941.6C372.2,942.7 374.9,944.2 377.3,944.8C379.7,945.5 382.0,945.7 384.0,945.6C385.9,945.5 387.2,944.3 388.9,944.1C390.6,943.8 392.2,943.7 394.0,944.1C395.8,944.5 397.8,945.5 399.8,946.3C401.8,947.1 403.9,948.0 405.9,949.0C408.0,950.0 410.0,951.3 412.1,952.6C414.1,953.8 416.0,955.7 418.2,956.6C420.3,957.6 422.6,958.3 425.1,958.2C427.5,958.1 430.1,957.0 432.6,956.0C435.1,955.0 437.6,953.5 439.9,952.3C442.3,951.1 444.5,949.9 446.7,948.7C448.9,947.5 450.8,946.0 453.0,945.0C455.2,944.0 457.4,943.2 459.7,942.7C462.1,942.3 464.6,942.4 467.0,942.1C469.4,941.8 471.8,941.3 474.2,940.8C476.6,940.4 479.0,939.7 481.4,939.3C483.9,939.0 486.4,938.9 489.0,938.7C491.5,938.5 494.1,938.4 496.7,938.0C499.2,937.6 501.7,937.1 504.1,936.4C506.5,935.8 508.8,934.9 511.1,934.1C513.3,933.3 515.4,932.3 517.6,931.4C519.7,930.6 521.8,929.8 524.1,929.1C526.4,928.4 528.8,927.9 531.2,927.5C533.7,927.0 536.3,926.8 538.9,926.5C541.5,926.2 544.2,926.0 546.8,925.7C549.4,925.3 552.1,925.0 554.6,924.5C557.1,923.9 559.5,923.3 561.9,922.5C564.2,921.7 566.5,920.7 568.8,919.7C571.2,918.7 573.5,917.6 575.8,916.6C578.2,915.6 580.6,914.5 583.0,913.6C585.4,912.8 587.9,912.0 590.3,911.3C592.7,910.7 595.1,910.3 597.6,909.9C600.0,909.6 602.4,909.4 604.8,909.2C607.3,909.0 609.7,909.0 612.2,908.8C614.7,908.6 617.2,908.4 619.8,908.0C622.3,907.7 624.8,907.2 627.3,906.6C629.8,906.0 632.3,905.3 634.6,904.5C637.0,903.7 639.3,902.8 641.6,901.9C643.9,901.1 646.0,900.1 648.3,899.3C650.6,898.4 652.9,897.6 655.3,896.8C657.7,896.0 660.1,895.4 662.6,894.7C665.1,894.1 667.7,893.5 670.2,893.0C672.8,892.5 675.3,892.0 677.8,891.5C680.3,891.0 682.8,890.5 685.2,890.0C687.7,889.5 690.0,889.0 692.4,888.5C694.8,888.0 697.1,887.4 699.5,886.9C701.9,886.3 704.3,885.7 706.8,885.2C709.3,884.7 711.8,884.2 714.3,883.9C716.9,883.5 719.5,883.4 722.0,883.3C724.6,883.1 727.1,883.1 729.6,883.0C732.1,882.9 734.6,882.7 737.1,882.6C739.5,882.4 741.9,882.2 744.4,881.9C746.8,881.7 749.2,881.4 751.7,881.2C754.2,880.9 756.6,880.6 759.1,880.3C761.6,880.1 764.1,879.8 766.6,879.5C769.2,879.1 771.7,878.8 774.2,878.4C776.7,878.0 779.2,877.5 781.6,877.0C784.1,876.5 786.5,875.9 789.0,875.3C791.4,874.7 793.8,874.0 796.2,873.3C798.7,872.7 801.1,872.0 803.5,871.3C805.9,870.7 808.3,870.0 810.7,869.4C813.2,868.8 815.6,868.2 818.0,867.6C820.5,867.1 822.9,866.6 825.4,866.1C827.8,865.6 830.3,865.2 832.8,864.8C835.2,864.3 837.7,863.9 840.2,863.4C842.7,863.0 845.1,862.5 847.6,862.1C850.1,861.6 852.6,861.1 855.0,860.6C857.5,860.1 859.9,859.7 862.4,859.2C864.8,858.8 867.3,858.3 869.7,858.0C872.2,857.6 874.7,857.3 877.2,857.1C879.6,856.8 882.1,856.7 884.7,856.5C887.2,856.4 889.7,856.3 892.2,856.2C894.7,856.2 897.3,856.1 899.8,856.0C902.3,856.0 904.8,855.9 907.3,855.8C909.8,855.8 912.3,855.7 914.8,855.6C917.3,855.5 919.8,855.4 922.3,855.3C924.8,855.2 927.3,855.1 929.8,855.0C932.3,855.0 934.9,854.9 937.4,854.9C939.9,854.8 942.5,854.8 945.0,854.7C947.5,854.6 950.0,854.5 952.5,854.3C955.0,854.1 957.4,853.9 959.9,853.6C962.4,853.3 964.8,852.9 967.3,852.5C969.8,852.0 972.2,851.6 974.7,851.1C977.2,850.6 979.7,850.0 982.2,849.5C984.7,849.0 987.2,848.4 989.7,847.9C992.1,847.4 994.6,846.9 997.0,846.4C999.4,845.9 1001.8,845.4 1004.2,844.9C1006.6,844.4 1008.9,843.9 1011.3,843.4C1013.7,842.9 1016.1,842.3 1018.6,841.7C1021.0,841.2 1023.5,840.5 1026.1,839.9C1028.6,839.3 1031.1,838.6 1033.6,838.0C1036.1,837.4 1038.6,836.8 1041.1,836.3C1043.6,835.7 1046.0,835.2 1048.4,834.8C1050.9,834.3 1053.2,834.0 1055.7,833.6C1058.1,833.3 1060.5,833.0 1063.0,832.8C1065.4,832.5 1067.9,832.3 1070.5,832.1C1073.0,831.9 1075.5,831.7 1078.1,831.6C1080.6,831.4 1083.2,831.2 1085.7,831.1C1088.3,830.9 1090.8,830.8 1093.3,830.7C1095.8,830.6 1098.3,830.6 1100.8,830.6C1103.3,830.5 1105.7,830.6 1108.2,830.7C1110.7,830.7 1113.1,830.9 1115.6,831.0C1118.1,831.1 1120.5,831.3 1123.0,831.4C1125.5,831.6 1128.0,831.7 1130.5,831.8C1133.1,831.9 1135.6,831.9 1138.1,832.0C1140.6,832.0 1143.2,832.0 1145.7,832.0C1148.2,832.0 1150.9,831.9 1153.2,831.9C1155.6,831.9 1158.7,831.9 1159.7,831.9"/>
<path d="M149.9,909.0C150.7,909.3 152.7,910.3 154.8,910.4C156.8,910.6 159.5,910.4 162.1,910.2C164.7,910.0 167.7,909.6 170.5,909.3C173.4,909.1 176.4,908.9 179.2,908.8C181.9,908.7 184.7,908.4 187.2,909.0C189.6,909.6 191.8,910.9 193.9,912.4C196.0,913.9 197.8,916.3 199.8,918.1C201.7,919.8 203.7,921.6 205.7,922.8C207.7,924.0 209.8,924.8 211.9,925.4C213.9,926.0 215.9,926.6 218.0,926.5C220.0,926.5 222.0,925.8 224.2,925.1C226.3,924.4 228.6,922.8 230.9,922.2C233.2,921.7 235.6,921.4 238.0,921.9C240.3,922.4 242.5,923.8 244.9,925.0C247.2,926.2 249.6,927.6 251.9,929.1C254.3,930.6 256.6,932.3 258.8,933.8C261.1,935.4 263.2,937.5 265.4,938.6C267.5,939.7 269.7,940.5 271.8,940.5C274.0,940.6 276.0,939.4 278.2,938.9C280.5,938.3 282.9,937.5 285.4,937.3C287.9,937.0 290.7,937.1 293.3,937.4C295.9,937.6 298.8,937.9 301.2,938.8C303.5,939.6 305.6,941.1 307.7,942.6C309.7,944.1 311.2,946.3 313.3,947.8C315.3,949.3 317.5,950.8 319.8,951.7C322.1,952.5 324.8,952.7 327.1,952.8C329.4,953.0 331.5,952.9 333.5,952.6C335.4,952.4 337.0,951.7 338.9,951.2C340.8,950.7 342.7,949.7 344.7,949.7C346.8,949.8 349.1,950.5 351.3,951.5C353.4,952.5 355.4,954.4 357.5,955.8C359.7,957.2 361.9,958.7 364.4,960.1C366.8,961.4 369.4,962.7 372.1,963.9C374.7,965.0 377.4,966.4 380.2,967.0C383.0,967.5 386.1,967.5 388.7,967.2C391.4,966.9 394.1,965.6 396.3,965.2C398.6,964.9 400.4,964.8 402.3,965.1C404.3,965.4 406.1,966.4 408.0,967.2C409.9,968.0 411.9,968.7 413.9,969.7C415.9,970.7 417.9,971.9 419.9,973.1C421.9,974.3 424.0,976.1 425.9,976.9C427.9,977.6 429.8,978.0 431.7,977.7C433.7,977.3 435.4,975.7 437.6,974.5C439.7,973.3 442.1,971.6 444.6,970.4C447.0,969.1 449.8,967.9 452.3,966.8C454.9,965.7 457.3,964.4 459.7,963.7C462.2,962.9 464.5,962.4 466.9,962.1C469.3,961.9 471.7,962.1 474.0,961.9C476.3,961.8 478.5,961.4 480.8,961.2C483.1,961.0 485.3,960.8 487.5,960.6C489.8,960.3 492.0,960.3 494.4,959.9C496.7,959.6 499.0,959.1 501.5,958.5C503.9,957.8 506.4,956.9 509.0,956.0C511.5,955.1 514.1,954.0 516.6,953.0C519.1,952.1 521.6,951.0 524.0,950.2C526.5,949.4 528.8,948.7 531.1,948.1C533.5,947.5 535.7,947.2 538.1,946.8C540.5,946.5 542.9,946.4 545.4,946.2C547.9,945.9 550.5,945.8 553.1,945.5C555.7,945.1 558.4,944.8 561.0,944.2C563.5,943.7 566.1,943.0 568.6,942.3C571.1,941.5 573.4,940.6 575.8,939.8C578.1,938.9 580.4,938.0 582.7,937.2C585.0,936.4 587.3,935.6 589.7,935.0C592.1,934.3 594.6,933.8 597.0,933.4C599.5,933.0 601.9,932.8 604.4,932.5C606.8,932.3 609.3,932.1 611.7,931.9C614.1,931.6 616.5,931.4 618.9,931.0C621.3,930.6 623.7,930.2 626.2,929.6C628.6,929.0 631.1,928.3 633.6,927.6C636.1,926.9 638.6,926.0 641.1,925.2C643.6,924.4 646.0,923.5 648.5,922.7C650.9,921.9 653.2,921.1 655.5,920.3C657.9,919.6 660.1,918.9 662.5,918.3C664.8,917.7 667.2,917.2 669.6,916.8C672.0,916.3 674.5,915.9 677.0,915.6C679.6,915.2 682.2,914.9 684.8,914.6C687.3,914.3 690.0,914.0 692.5,913.6C695.1,913.3 697.6,912.9 700.1,912.5C702.5,912.1 704.9,911.6 707.3,911.1C709.7,910.6 712.0,910.1 714.3,909.6C716.7,909.0 719.0,908.5 721.4,907.9C723.8,907.4 726.2,906.9 728.7,906.5C731.2,906.0 733.8,905.7 736.3,905.3C738.9,905.0 741.5,904.6 744.0,904.3C746.5,904.0 749.0,903.6 751.5,903.3C754.0,903.0 756.5,902.8 758.9,902.5C761.4,902.3 763.8,902.1 766.3,901.9C768.8,901.8 771.2,901.6 773.7,901.5C776.2,901.3 778.7,901.1 781.2,900.9C783.6,900.7 786.2,900.4 788.7,900.0C791.2,899.6 793.6,899.1 796.1,898.6C798.6,898.1 801.1,897.4 803.5,896.8C806.0,896.3 808.4,895.6 810.9,895.0C813.3,894.4 815.7,893.8 818.2,893.2C820.6,892.7 823.0,892.1 825.4,891.5C827.8,891.0 830.3,890.5 832.7,889.9C835.1,889.4 837.5,888.8 839.9,888.2C842.3,887.7 844.8,887.1 847.2,886.5C849.7,885.9 852.1,885.3 854.6,884.6C857.1,884.0 859.6,883.4 862.0,882.9C864.5,882.3 867.0,881.8 869.5,881.3C872.0,880.8 874.4,880.4 876.9,880.1C879.4,879.8 881.8,879.6 884.3,879.4C886.7,879.2 889.2,879.1 891.7,878.9C894.2,878.8 896.7,878.8 899.2,878.7C901.7,878.6 904.3,878.5 906.8,878.5C909.3,878.4 911.9,878.3 914.4,878.2C916.9,878.1 919.4,878.0 922.0,877.9C924.5,877.8 927.0,877.7 929.5,877.6C932.0,877.5 934.5,877.5 937.0,877.4C939.5,877.4 942.0,877.4 944.5,877.3C947.0,877.2 949.5,877.2 952.0,877.1C954.5,877.0 957.1,876.8 959.6,876.6C962.1,876.4 964.6,876.2 967.0,875.9C969.5,875.6 972.0,875.2 974.4,874.8C976.9,874.4 979.3,874.0 981.7,873.5C984.2,873.1 986.6,872.7 989.1,872.2C991.6,871.8 994.1,871.4 996.6,870.9C999.1,870.5 1001.6,870.1 1004.1,869.6C1006.6,869.2 1009.1,868.7 1011.6,868.2C1014.0,867.7 1016.4,867.2 1018.9,866.6C1021.3,866.0 1023.6,865.4 1026.0,864.8C1028.4,864.1 1030.7,863.5 1033.2,862.8C1035.6,862.2 1038.0,861.5 1040.5,860.9C1043.0,860.3 1045.6,859.7 1048.1,859.2C1050.6,858.7 1053.1,858.2 1055.6,857.8C1058.1,857.4 1060.6,857.0 1063.1,856.7C1065.5,856.3 1067.9,856.0 1070.4,855.7C1072.8,855.4 1075.2,855.1 1077.6,854.8C1080.0,854.5 1082.5,854.2 1084.9,853.9C1087.4,853.6 1089.9,853.3 1092.4,853.1C1095.0,852.9 1097.5,852.7 1100.0,852.5C1102.6,852.4 1105.1,852.3 1107.7,852.2C1110.2,852.2 1112.7,852.2 1115.3,852.3C1117.8,852.4 1120.3,852.5 1122.8,852.6C1125.3,852.7 1127.8,852.8 1130.3,852.9C1132.8,853.0 1135.3,853.1 1137.8,853.2C1140.3,853.3 1142.8,853.3 1145.3,853.4C1147.7,853.5 1150.4,853.5 1152.6,853.6C1154.7,853.7 1157.2,853.8 1158.2,853.8"/>
<path d="M151.0,923.9C151.7,924.5 153.6,926.5 155.3,927.7C157.1,928.9 159.4,930.5 161.5,931.2C163.7,931.9 165.9,931.7 168.2,931.7C170.5,931.6 172.9,931.2 175.3,931.1C177.8,931.0 180.4,931.1 183.0,931.1C185.6,931.2 188.5,931.1 191.0,931.6C193.5,932.2 195.9,933.2 198.0,934.5C200.1,935.7 201.7,937.8 203.6,939.2C205.5,940.6 207.4,942.1 209.5,943.1C211.6,944.0 214.0,944.4 216.3,944.8C218.6,945.2 221.0,945.5 223.2,945.4C225.5,945.3 227.7,944.9 229.9,944.4C232.1,943.8 234.2,942.5 236.4,942.2C238.7,941.9 241.0,941.9 243.3,942.6C245.7,943.4 248.0,945.2 250.4,946.6C252.8,948.1 255.3,949.8 257.7,951.4C260.2,952.9 262.7,954.5 265.0,955.9C267.3,957.3 269.5,959.1 271.7,960.0C273.9,960.9 276.2,961.4 278.3,961.3C280.5,961.1 282.4,959.8 284.4,959.1C286.4,958.4 288.1,957.5 290.1,957.2C292.1,957.0 294.1,957.3 296.3,957.7C298.4,958.1 300.8,958.7 303.0,959.7C305.1,960.7 307.3,962.2 309.4,963.7C311.4,965.3 313.1,967.5 315.2,969.0C317.4,970.5 319.6,972.1 322.3,972.8C325.0,973.5 328.3,973.4 331.4,973.4C334.5,973.4 337.9,973.0 340.7,972.6C343.6,972.2 346.3,971.6 348.6,971.2C350.9,970.8 352.7,970.0 354.5,970.2C356.4,970.4 358.1,971.2 359.9,972.4C361.7,973.7 363.5,975.8 365.2,977.5C367.0,979.1 368.7,980.9 370.5,982.3C372.3,983.7 374.1,984.9 376.1,985.9C378.1,986.9 380.1,988.0 382.4,988.3C384.7,988.7 387.1,988.4 389.8,987.9C392.5,987.4 395.8,985.8 398.6,985.3C401.4,984.8 404.2,984.4 406.7,984.7C409.3,984.9 411.5,986.0 413.9,986.8C416.3,987.6 418.8,988.6 421.1,989.7C423.4,990.9 425.7,992.3 427.9,993.6C430.1,994.9 432.2,996.8 434.2,997.5C436.2,998.2 438.1,998.4 439.8,997.8C441.5,997.2 442.8,995.4 444.5,994.0C446.2,992.7 447.9,990.9 450.0,989.6C452.1,988.3 454.6,987.2 457.0,986.3C459.5,985.3 462.1,984.5 464.6,983.9C467.1,983.3 469.5,982.9 472.0,982.7C474.4,982.4 476.9,982.3 479.3,982.1C481.7,981.9 484.1,981.7 486.5,981.5C488.9,981.3 491.3,981.1 493.7,980.7C496.0,980.3 498.3,979.9 500.6,979.2C502.9,978.5 505.1,977.6 507.4,976.7C509.7,975.8 512.0,974.6 514.5,973.6C516.9,972.6 519.5,971.6 522.1,970.7C524.7,969.9 527.4,969.1 530.1,968.6C532.7,968.0 535.4,967.7 538.0,967.5C540.7,967.2 543.2,967.2 545.7,967.2C548.2,967.1 550.6,967.2 553.0,967.1C555.4,967.0 557.8,966.9 560.3,966.5C562.7,966.2 565.1,965.8 567.6,965.2C570.0,964.6 572.5,963.8 574.9,963.0C577.3,962.3 579.8,961.4 582.1,960.6C584.5,959.8 586.8,958.9 589.2,958.2C591.5,957.5 593.8,956.9 596.2,956.4C598.6,955.8 601.0,955.4 603.5,955.0C605.9,954.6 608.5,954.3 611.0,954.0C613.5,953.6 616.1,953.3 618.6,952.9C621.1,952.5 623.5,952.1 626.0,951.6C628.4,951.1 630.8,950.6 633.2,950.0C635.6,949.4 638.0,948.7 640.4,948.1C642.8,947.4 645.2,946.7 647.7,946.0C650.2,945.3 652.7,944.6 655.2,944.0C657.7,943.4 660.3,942.8 662.7,942.3C665.2,941.8 667.7,941.4 670.2,941.0C672.6,940.6 675.0,940.3 677.4,939.9C679.8,939.6 682.2,939.4 684.6,939.1C687.1,938.8 689.5,938.6 692.0,938.3C694.4,938.0 697.0,937.7 699.5,937.3C702.0,936.9 704.6,936.5 707.1,936.0C709.7,935.5 712.2,934.9 714.7,934.4C717.1,933.8 719.6,933.1 722.0,932.5C724.3,931.9 726.7,931.2 729.0,930.5C731.4,929.8 733.7,929.1 736.1,928.5C738.5,927.9 740.9,927.3 743.4,926.9C745.9,926.4 748.4,926.0 751.0,925.7C753.5,925.3 756.1,925.1 758.6,924.9C761.2,924.7 763.8,924.6 766.3,924.5C768.8,924.4 771.4,924.4 773.9,924.4C776.4,924.3 778.9,924.4 781.4,924.3C783.8,924.2 786.3,924.1 788.8,923.9C791.3,923.8 793.8,923.5 796.2,923.2C798.7,922.8 801.2,922.4 803.7,921.9C806.1,921.4 808.6,920.8 811.1,920.2C813.5,919.6 816.0,918.9 818.4,918.3C820.9,917.7 823.3,917.0 825.7,916.4C828.2,915.8 830.6,915.2 833.0,914.6C835.5,914.0 837.9,913.4 840.3,912.8C842.8,912.1 845.2,911.5 847.6,910.8C850.0,910.2 852.4,909.5 854.8,908.8C857.3,908.2 859.7,907.5 862.1,906.9C864.6,906.3 867.0,905.7 869.5,905.2C872.0,904.7 874.5,904.3 877.0,903.9C879.5,903.5 882.0,903.2 884.5,903.0C887.0,902.7 889.5,902.5 892.0,902.4C894.5,902.2 897.0,902.1 899.5,901.9C902.0,901.7 904.5,901.6 907.0,901.4C909.5,901.2 912.0,901.0 914.5,900.9C917.0,900.7 919.5,900.5 922.1,900.3C924.6,900.1 927.1,900.0 929.6,899.9C932.1,899.7 934.6,899.7 937.1,899.6C939.6,899.5 942.1,899.5 944.6,899.5C947.1,899.5 949.6,899.5 952.1,899.4C954.6,899.4 957.1,899.3 959.6,899.2C962.1,899.1 964.6,898.9 967.1,898.8C969.7,898.6 972.2,898.3 974.7,898.0C977.3,897.7 979.8,897.4 982.3,897.1C984.8,896.8 987.3,896.5 989.7,896.1C992.2,895.8 994.6,895.5 997.0,895.1C999.5,894.8 1001.9,894.4 1004.4,894.0C1006.8,893.6 1009.3,893.2 1011.8,892.8C1014.3,892.3 1016.8,891.8 1019.4,891.3C1021.9,890.7 1024.4,890.1 1026.9,889.5C1029.4,888.9 1031.9,888.2 1034.3,887.6C1036.7,886.9 1039.1,886.3 1041.4,885.6C1043.8,885.0 1046.2,884.4 1048.5,883.8C1050.9,883.3 1053.3,882.7 1055.8,882.3C1058.2,881.8 1060.7,881.3 1063.2,880.9C1065.7,880.4 1068.3,880.0 1070.8,879.6C1073.3,879.2 1075.8,878.7 1078.3,878.3C1080.8,877.9 1083.3,877.4 1085.7,877.0C1088.2,876.6 1090.6,876.2 1093.0,875.8C1095.5,875.5 1097.9,875.1 1100.4,874.9C1102.9,874.6 1105.4,874.4 1107.9,874.3C1110.4,874.1 1112.9,874.1 1115.5,874.1C1118.0,874.1 1120.6,874.1 1123.1,874.2C1125.7,874.3 1128.2,874.4 1130.8,874.5C1133.3,874.6 1135.8,874.7 1138.3,874.8C1140.9,874.9 1143.4,874.9 1145.9,875.0C1148.4,875.1 1151.0,875.2 1153.3,875.2C1155.6,875.3 1158.7,875.4 1159.8,875.5"/>
<path d="M152.6,942.2C153.5,942.8 155.7,944.4 157.6,945.9C159.4,947.3 161.5,949.5 163.6,950.9C165.7,952.2 167.9,953.4 170.2,953.8C172.4,954.2 174.8,953.5 177.0,953.3C179.3,953.1 181.4,952.6 183.5,952.4C185.6,952.3 187.7,952.3 189.8,952.4C192.0,952.4 194.2,952.3 196.3,952.9C198.4,953.4 200.5,954.5 202.4,955.6C204.4,956.8 206.0,958.7 208.0,959.9C209.9,961.2 212.0,962.5 214.3,963.4C216.6,964.2 219.2,964.5 221.8,964.8C224.4,965.2 227.2,965.5 229.8,965.5C232.4,965.5 235.0,965.2 237.5,964.9C239.9,964.5 242.2,963.5 244.5,963.6C246.8,963.7 249.0,964.3 251.2,965.4C253.4,966.4 255.5,968.4 257.6,969.9C259.8,971.4 262.0,972.9 264.2,974.3C266.3,975.6 268.5,976.8 270.7,977.8C272.9,978.9 274.9,980.2 277.1,980.7C279.4,981.2 281.8,981.2 284.2,980.8C286.6,980.4 289.2,978.8 291.5,978.2C293.7,977.6 295.8,977.0 297.9,977.1C300.0,977.2 302.0,978.0 304.0,978.7C306.1,979.5 308.1,980.4 310.1,981.7C312.1,982.9 314.1,984.5 316.1,986.1C318.1,987.7 320.0,989.9 322.0,991.2C324.0,992.6 325.9,993.7 328.2,994.2C330.5,994.6 332.9,994.0 335.7,993.8C338.4,993.5 341.7,992.9 344.8,992.6C347.9,992.2 351.4,991.7 354.3,991.6C357.3,991.4 360.2,991.0 362.5,991.6C364.9,992.2 366.8,993.5 368.7,995.0C370.6,996.5 372.1,998.7 373.9,1000.4C375.7,1002.0 377.6,1003.7 379.6,1004.8C381.5,1006.0 383.5,1006.8 385.4,1007.4C387.4,1008.0 389.3,1008.5 391.1,1008.4C393.0,1008.3 394.7,1007.5 396.7,1006.8C398.8,1006.1 401.0,1004.5 403.4,1004.1C405.8,1003.7 408.6,1003.7 411.1,1004.3C413.7,1004.9 416.1,1006.4 418.6,1007.6C421.1,1008.8 423.6,1010.3 426.1,1011.7C428.5,1013.2 431.0,1015.0 433.3,1016.2C435.7,1017.5 438.1,1018.9 440.4,1019.1C442.6,1019.3 444.9,1018.6 446.8,1017.5C448.8,1016.5 450.3,1014.4 452.0,1012.8C453.7,1011.3 455.3,1009.6 457.2,1008.3C459.2,1007.1 461.4,1006.2 463.7,1005.4C465.9,1004.5 468.3,1003.9 470.7,1003.4C473.1,1002.9 475.5,1002.5 478.0,1002.2C480.4,1001.8 482.8,1001.6 485.3,1001.3C487.8,1000.9 490.4,1000.7 492.9,1000.2C495.5,999.8 498.2,999.3 500.7,998.7C503.3,998.1 506.0,997.3 508.5,996.4C511.0,995.6 513.4,994.6 515.8,993.7C518.2,992.9 520.5,992.0 522.8,991.3C525.2,990.6 527.5,989.9 530.0,989.5C532.4,989.1 535.0,989.0 537.5,988.9C540.1,988.8 542.8,988.9 545.4,989.0C548.0,989.0 550.7,989.2 553.2,989.2C555.8,989.1 558.3,989.1 560.7,988.8C563.2,988.5 565.5,988.1 567.9,987.5C570.3,986.9 572.6,986.2 574.9,985.4C577.3,984.6 579.6,983.7 582.0,982.8C584.3,982.0 586.7,981.0 589.1,980.3C591.5,979.5 593.9,978.8 596.3,978.1C598.7,977.5 601.1,977.0 603.5,976.5C605.9,976.0 608.3,975.7 610.8,975.3C613.3,975.0 615.8,974.7 618.4,974.4C620.9,974.1 623.5,973.8 626.1,973.4C628.7,973.1 631.3,972.7 633.8,972.3C636.4,971.9 638.9,971.5 641.3,971.0C643.8,970.6 646.1,970.1 648.5,969.6C650.9,969.0 653.1,968.5 655.5,968.0C657.8,967.5 660.2,967.0 662.6,966.5C665.1,966.0 667.6,965.6 670.1,965.2C672.6,964.8 675.2,964.4 677.8,964.0C680.4,963.6 682.9,963.3 685.4,963.0C687.9,962.6 690.4,962.3 692.8,961.9C695.3,961.5 697.7,961.2 700.0,960.8C702.4,960.3 704.8,959.9 707.2,959.4C709.6,958.9 712.0,958.4 714.4,957.9C716.9,957.3 719.4,956.7 721.9,956.1C724.4,955.4 726.9,954.8 729.4,954.1C731.9,953.5 734.4,952.8 736.8,952.2C739.3,951.6 741.7,951.0 744.1,950.4C746.6,949.9 749.0,949.4 751.4,949.0C753.8,948.6 756.3,948.3 758.7,948.1C761.2,947.9 763.7,947.7 766.2,947.6C768.7,947.5 771.3,947.5 773.8,947.5C776.4,947.5 778.9,947.5 781.5,947.4C784.0,947.3 786.5,947.2 789.0,947.1C791.5,946.9 794.0,946.7 796.5,946.4C799.0,946.1 801.5,945.8 804.0,945.4C806.4,945.0 808.9,944.5 811.4,944.0C813.8,943.6 816.3,943.0 818.7,942.5C821.2,942.0 823.6,941.4 826.0,940.8C828.4,940.3 830.9,939.7 833.3,939.1C835.7,938.5 838.1,938.0 840.6,937.4C843.0,936.8 845.4,936.2 847.9,935.6C850.3,935.0 852.8,934.3 855.3,933.7C857.7,933.0 860.2,932.4 862.6,931.8C865.0,931.2 867.5,930.5 869.9,930.0C872.3,929.5 874.8,928.9 877.2,928.5C879.6,928.0 882.1,927.7 884.6,927.3C887.0,926.9 889.5,926.6 892.0,926.3C894.5,926.0 897.0,925.7 899.5,925.4C902.0,925.1 904.5,924.9 907.0,924.5C909.5,924.2 912.0,923.9 914.5,923.6C917.0,923.3 919.5,923.0 922.0,922.7C924.5,922.5 926.9,922.3 929.4,922.1C931.9,921.9 934.4,921.8 936.9,921.7C939.4,921.6 942.0,921.6 944.5,921.6C947.0,921.6 949.5,921.6 952.0,921.7C954.5,921.7 957.0,921.7 959.4,921.7C961.9,921.6 964.4,921.6 966.9,921.4C969.4,921.3 971.9,921.2 974.4,921.0C976.9,920.8 979.4,920.6 982.0,920.4C984.5,920.2 987.1,919.9 989.6,919.7C992.2,919.4 994.7,919.2 997.2,918.9C999.8,918.7 1002.3,918.4 1004.7,918.1C1007.2,917.8 1009.6,917.5 1012.0,917.1C1014.5,916.7 1016.8,916.3 1019.2,915.8C1021.6,915.4 1024.0,914.8 1026.5,914.2C1028.9,913.7 1031.4,913.0 1033.9,912.4C1036.4,911.8 1038.9,911.1 1041.4,910.5C1043.9,909.9 1046.4,909.3 1048.9,908.7C1051.3,908.1 1053.7,907.5 1056.1,907.0C1058.5,906.5 1060.9,905.9 1063.2,905.4C1065.6,904.9 1068.0,904.4 1070.4,903.9C1072.8,903.4 1075.2,902.9 1077.7,902.4C1080.2,901.9 1082.7,901.3 1085.2,900.8C1087.8,900.3 1090.3,899.7 1092.8,899.3C1095.4,898.8 1097.9,898.3 1100.4,898.0C1102.9,897.6 1105.4,897.3 1107.8,897.1C1110.3,896.8 1112.8,896.7 1115.3,896.6C1117.7,896.5 1120.2,896.5 1122.7,896.5C1125.2,896.5 1127.7,896.5 1130.2,896.5C1132.7,896.6 1135.2,896.6 1137.7,896.6C1140.2,896.7 1142.8,896.7 1145.3,896.7C1147.7,896.7 1150.5,896.7 1152.6,896.7C1154.8,896.7 1157.2,896.7 1158.2,896.7"/>
</g></g></g>
<g id="intruder"><path d="M328.2,609.4C329.6,609.3 331.3,609.2 332.5,610.1C333.7,610.9 334.9,612.4 335.4,614.4C335.9,616.4 335.7,619.8 335.6,622.0C335.4,624.3 334.3,626.1 334.4,627.8C334.5,629.4 335.8,630.0 336.0,632.1C336.2,634.1 334.7,638.1 335.7,640.2C336.6,642.4 339.3,643.6 341.6,645.0C343.9,646.4 347.0,647.6 349.3,648.8C351.5,650.0 353.8,651.2 355.0,652.2C356.2,653.2 356.6,654.2 356.4,654.8C356.3,655.4 355.2,655.9 354.0,655.7C352.8,655.5 350.2,653.5 349.3,653.6C348.3,653.8 348.8,656.6 348.5,656.7C348.1,656.8 348.3,655.1 347.1,654.1C346.0,653.1 344.1,651.9 341.6,650.7C339.1,649.6 334.4,647.9 332.0,647.1C329.6,646.3 328.2,645.5 327.2,646.1C326.3,646.8 325.8,649.2 326.5,650.7C327.1,652.3 330.0,654.1 331.1,655.5C332.1,657.0 332.7,658.4 332.6,659.4C332.5,660.3 331.6,661.6 330.7,661.5C329.8,661.3 328.4,659.7 327.2,658.6C326.1,657.5 324.3,654.2 323.9,654.8C323.5,655.4 324.4,659.4 324.8,662.2C325.2,665.1 325.9,667.8 326.3,671.8C326.6,675.8 326.7,682.0 326.8,686.2C327.0,690.3 326.4,694.1 327.2,696.7C328.1,699.3 330.9,700.2 332.0,701.5C333.2,702.8 334.1,703.6 334.1,704.5C334.1,705.5 333.3,707.0 332.0,707.4C330.7,707.8 328.3,707.5 326.3,706.8C324.2,706.2 320.8,705.4 319.6,703.6C318.3,701.7 319.0,699.4 318.6,695.7C318.2,692.0 317.8,685.5 317.2,681.4C316.5,677.2 315.7,673.8 314.8,670.8C313.9,667.8 313.2,662.7 311.9,663.4C310.6,664.0 309.7,671.2 307.1,674.7C304.6,678.2 299.6,681.4 296.6,684.3C293.6,687.1 290.4,690.0 288.9,691.9C287.5,693.8 287.9,694.5 288.0,695.7C288.1,697.0 289.8,698.5 289.5,699.6C289.2,700.6 287.5,702.0 286.3,702.1C285.0,702.1 283.5,701.4 282.2,699.8C280.9,698.1 278.9,694.0 278.4,692.1C277.9,690.2 278.4,689.4 279.4,688.3C280.3,687.1 282.1,687.2 284.1,685.2C286.2,683.3 289.6,679.6 291.8,676.6C294.0,673.6 296.5,670.2 297.6,667.0C298.6,663.8 297.9,660.3 298.0,657.4C298.2,654.6 297.8,652.5 298.5,649.8C299.2,647.1 300.9,643.6 302.3,641.2C303.8,638.8 305.8,637.5 307.1,635.4C308.4,633.3 308.7,630.5 310.0,628.7C311.3,627.0 312.9,626.0 314.8,624.9C316.7,623.8 320.4,624.0 321.5,622.2C322.6,620.5 321.1,616.3 321.5,614.4C321.9,612.4 322.8,611.6 323.9,610.7C325.0,609.9 326.8,609.5 328.2,609.4Z" fill="url(#intr)"/></g>
<g id="links"><path d="M419,445.6 C480,442 540,436 616,428 S780,412 905,404" fill="none" stroke="#207be9" stroke-width="3.5" stroke-linecap="round" stroke-dasharray="3 11.2"/>
<path d="M375,497 C382,540 396,600 412,691 S450,860 469,960" fill="none" stroke="#207be9" stroke-width="3.5" stroke-linecap="round" stroke-dasharray="3 11.2"/>
<path d="M927,437 C900,470 860,525 790,608 S620,825 512,962" fill="none" stroke="#207be9" stroke-width="3.5" stroke-linecap="round" stroke-dasharray="3 11.2"/></g>
<g id="devices"><ellipse cx="362.9" cy="451.2" rx="54.0" ry="43.7" fill="url(#redg)"/>
<ellipse cx="363.2" cy="452.5" rx="34" ry="26.5" fill="#c9c9cc"/>
<ellipse cx="363.2" cy="450.2" rx="34" ry="26.8" fill="url(#domeg)"/>
<path d="M343,433.5 Q344,430.6 349,430.2 Q360,429.4 368.6,433 Q373.6,435.8 370.6,440 Q362,449.6 350.6,452.8 Q346,453.6 344.6,449 Q341.6,440 343,433.5 Z" fill="none" stroke="#6f7075" stroke-width="0.9"/><ellipse cx="192.2" cy="565.5" rx="54.0" ry="43.7" fill="url(#redg)"/>
<rect x="166.1" y="537.4" width="35.8" height="56.6" rx="2" fill="url(#whiteg)"/>
<rect x="205.2" y="550.7" width="13.5" height="30.3" rx="1.8" fill="url(#whiteg)"/><ellipse cx="116.0" cy="699.5" rx="54.0" ry="43.7" fill="url(#redg)"/>
<rect x="95.1" y="666" width="40.8" height="66.9" rx="1.6" fill="#f3f3f3"/>
<rect x="111" y="668.4" width="9" height="1" fill="#dcdcdc"/>
<circle cx="104.0" cy="676.7" r="4.1" fill="#5aa84f"/>
<circle cx="104.0" cy="676.7" r="1.4" fill="#dfeede"/>
<circle cx="115.3" cy="676.7" r="3.8" fill="#f8eeee" stroke="#d9767a" stroke-width="0.8"/>
<circle cx="126.3" cy="676.7" r="3.8" fill="#f8eeee" stroke="#d9767a" stroke-width="0.8"/>
<circle cx="104.0" cy="688.0" r="3.8" fill="#f6f6f6" stroke="#cfcfd2" stroke-width="0.7"/>
<rect x="103.5" y="686.7" width="1" height="2.6" fill="#b9b9bd"/>
<circle cx="115.3" cy="688.0" r="3.8" fill="#f6f6f6" stroke="#cfcfd2" stroke-width="0.7"/>
<rect x="114.8" y="686.7" width="1" height="2.6" fill="#b9b9bd"/>
<circle cx="126.3" cy="688.0" r="3.8" fill="#f6f6f6" stroke="#cfcfd2" stroke-width="0.7"/>
<rect x="125.8" y="686.7" width="1" height="2.6" fill="#b9b9bd"/>
<circle cx="104.0" cy="699.2" r="3.8" fill="#f6f6f6" stroke="#cfcfd2" stroke-width="0.7"/>
<rect x="103.5" y="697.9" width="1" height="2.6" fill="#b9b9bd"/>
<circle cx="115.3" cy="699.2" r="3.8" fill="#f6f6f6" stroke="#cfcfd2" stroke-width="0.7"/>
<rect x="114.8" y="697.9" width="1" height="2.6" fill="#b9b9bd"/>
<circle cx="126.3" cy="699.2" r="3.8" fill="#f6f6f6" stroke="#cfcfd2" stroke-width="0.7"/>
<rect x="125.8" y="697.9" width="1" height="2.6" fill="#b9b9bd"/>
<circle cx="104.0" cy="710.3" r="3.8" fill="#f6f6f6" stroke="#cfcfd2" stroke-width="0.7"/>
<rect x="103.5" y="709.0" width="1" height="2.6" fill="#b9b9bd"/>
<circle cx="115.3" cy="710.3" r="3.8" fill="#f6f6f6" stroke="#cfcfd2" stroke-width="0.7"/>
<rect x="114.8" y="709.0" width="1" height="2.6" fill="#b9b9bd"/>
<circle cx="126.3" cy="710.3" r="3.8" fill="#f6f6f6" stroke="#cfcfd2" stroke-width="0.7"/>
<rect x="125.8" y="709.0" width="1" height="2.6" fill="#b9b9bd"/>
<circle cx="104.0" cy="721.6" r="3.8" fill="#f6f6f6" stroke="#cfcfd2" stroke-width="0.7"/>
<rect x="103.5" y="720.3" width="1" height="2.6" fill="#b9b9bd"/>
<circle cx="115.3" cy="721.6" r="3.8" fill="#f6f6f6" stroke="#cfcfd2" stroke-width="0.7"/>
<rect x="114.8" y="720.3" width="1" height="2.6" fill="#b9b9bd"/>
<circle cx="126.3" cy="721.6" r="4.1" fill="#d8413f"/>
<rect x="124.6" y="721.1" width="3.4" height="0.9" fill="#f3b5b3"/><ellipse cx="854.8" cy="266.2" rx="54.0" ry="43.7" fill="url(#redg)"/>
<path d="M866,268 Q878,270 880,282 L881.5,290 L868,291 Q868,280 860,277 Z" fill="url(#camside)"/>
<ellipse cx="858.8" cy="291.2" rx="23.6" ry="4.6" fill="#d9d9dc"/>
<ellipse cx="858.8" cy="290" rx="23.6" ry="4.4" fill="#f6f6f7"/>
<path d="M846,234.8 L864,236.4 Q874.5,238 875,248 L875.4,268 Q875,275.5 866,276.5 L852,278 Z" fill="url(#camside)"/>
<path d="M867.4,250.6 l4,2.6 v5.6 l-4,3 l-4,-3 v-5.6 z" fill="none" stroke="#c9c9cd" stroke-width="0.7"/>
<path d="M865.4,257.6 l2,-2.6 l2,2.6" fill="none" stroke="#c9c9cd" stroke-width="0.7"/>
<path d="M833,236 Q845,232.5 853,236 Q858.6,239 858.6,247 L858.4,268 Q858,276.5 850,277.6 Q840,279 833.6,274 Q827.4,269 827.2,259 L827,246 Q827,238.5 833,236 Z" fill="#7b7b7e"/>
<path d="M835,238.8 Q845,236 851.5,238.8 Q855.8,241 855.8,247.5 L855.6,266.5 Q855.4,273.6 849,274.6 Q841,275.6 835.6,271.6 Q830.4,267.6 830.2,259 L830,247.6 Q830,241 835,238.8 Z" fill="#1b1b1d"/>
<path d="M833,243 Q843,238 853,241.5 L851,249 Q842,244 834,250 Z" fill="#4a4a4e" opacity="0.8"/>
<ellipse cx="843" cy="256.2" rx="6.2" ry="7" fill="#2f2f33"/>
<ellipse cx="843" cy="256.2" rx="4.2" ry="4.8" fill="#121214"/>
<circle cx="844" cy="259" r="1.1" fill="#c9d8ee"/>
<circle cx="842.4" cy="275.4" r="0.6" fill="#4fd05a"/><ellipse cx="955.5" cy="403.4" rx="54.0" ry="43.7" fill="url(#redg)"/>
<rect x="947.4" y="419.0" width="2.6" height="8" fill="#e9e9ea"/>
<polygon points="921.3,386.0 967.3,410.6 964.6,431.3 926.0,405.3" fill="#e4e4e6" />
<polygon points="967.3,410.6 987.9,398.0 983.3,418.6 964.6,431.3" fill="#efeff0" />
<polygon points="921.3,386.0 942.0,376.9 987.9,398.0 967.3,410.6" fill="#fbfbfb" stroke="#fbfbfb" stroke-width="1.2" stroke-linejoin="round"/>
<polygon points="948.4,388.4 954.6,385.6 956.4,386.6 950.2,389.4" fill="#8c8c91" />
<polygon points="956.4,392.2 962.4,389.4 964.2,390.4 958.2,393.2" fill="#8c8c91" />
<ellipse cx="947.4" cy="393.8" rx="2.7" ry="1.9" fill="#77777c" transform="rotate(25 947.4 393.8)"/>
<circle cx="932.0" cy="386.6" r="0.7" fill="#55555a"/>
<circle cx="934.0" cy="384.6" r="0.7" fill="#55555a"/>
<circle cx="930.6" cy="383.8" r="0.7" fill="#55555a"/>
<ellipse cx="976.3" cy="413.6" rx="3.6" ry="4.8" fill="#e2e2e4" stroke="#cfcfd3" stroke-width="0.7" transform="rotate(18 976.3 413.6)"/><ellipse cx="479.4" cy="1002.0" rx="54.0" ry="43.7" fill="url(#redg)"/>
<rect x="471.3" y="1017.6" width="2.6" height="8" fill="#e9e9ea"/>
<polygon points="445.2,984.6 491.2,1009.2 488.5,1029.9 449.9,1003.9" fill="#e4e4e6" />
<polygon points="491.2,1009.2 511.8,996.6 507.2,1017.2 488.5,1029.9" fill="#efeff0" />
<polygon points="445.2,984.6 465.9,975.5 511.8,996.6 491.2,1009.2" fill="#fbfbfb" stroke="#fbfbfb" stroke-width="1.2" stroke-linejoin="round"/>
<polygon points="472.3,987.0 478.5,984.2 480.3,985.2 474.1,988.0" fill="#8c8c91" />
<polygon points="480.3,990.8 486.3,988.0 488.1,989.0 482.1,991.8" fill="#8c8c91" />
<ellipse cx="471.3" cy="992.4" rx="2.7" ry="1.9" fill="#77777c" transform="rotate(25 471.3 992.4)"/>
<circle cx="455.9" cy="985.2" r="0.7" fill="#55555a"/>
<circle cx="457.9" cy="983.2" r="0.7" fill="#55555a"/>
<circle cx="454.5" cy="982.4" r="0.7" fill="#55555a"/>
<ellipse cx="500.2" cy="1012.2" rx="3.6" ry="4.8" fill="#e2e2e4" stroke="#cfcfd3" stroke-width="0.7" transform="rotate(18 500.2 1012.2)"/></g>
<g id="labels"><rect x="286.2" y="341.2" width="153.7" height="54.2" rx="6" fill="#ef4e45"/>
<path d="M313,363.2 L322.6,357.6 Q324.4,356.8 324.8,358.6 Q326.4,368.5 324.8,378.4 Q324.4,380.2 322.6,379.4 L313,374.4 Q309.2,374.6 309.2,371 V366.6 Q309.2,363 313,363.2 Z" stroke="#fff" fill="none" stroke-linecap="round" stroke-linejoin="round" stroke-width="2.1"/>
<path d="M331,364.2 Q333.8,368.8 331,373.6" stroke="#fff" fill="none" stroke-linecap="round" stroke-linejoin="round" stroke-width="1.7"/>
<path d="M334.8,360.6 Q339.2,368.8 334.8,377" stroke="#fff" fill="none" stroke-linecap="round" stroke-linejoin="round" stroke-width="1.7"/>
<path d="M339,357.2 Q344.6,368.8 339,380.2" stroke="#fff" fill="none" stroke-linecap="round" stroke-linejoin="round" stroke-width="1.7"/>
<text x="356.2" y="375.5" font-size="22.6" fill="#fff" font-weight="400" textLength="55.8" lengthAdjust="spacingAndGlyphs" stroke="#fff" stroke-width="0.45" font-family="Liberation Sans, Arial, sans-serif" >Siren</text>
<rect x="103.8" y="439.2" width="176.9" height="72.7" rx="6" fill="#ef4e45"/>
<path d="M126.4,491.6 V461.4 Q126.4,458.3 129.5,458.3 H147.8 Q150.9,458.3 150.9,461.4 V491.6" stroke="#fff" fill="none" stroke-linecap="round" stroke-linejoin="round" stroke-width="1.9"/>
<polygon points="129.7,461.6 138.0,464.7 138.0,488.3 129.7,491.6" fill="#fff" />
<circle cx="136.3" cy="476.8" r="0.7" fill="#ef4e45"/>
<text x="169.4" y="467.6" font-size="21.2" fill="#fff" font-weight="400" textLength="52.4" lengthAdjust="spacingAndGlyphs" stroke="#fff" stroke-width="0.45" font-family="Liberation Sans, Arial, sans-serif" >Door</text>
<text x="169.4" y="493.1" font-size="21.2" fill="#fff" font-weight="400" textLength="90.2" lengthAdjust="spacingAndGlyphs" stroke="#fff" stroke-width="0.45" font-family="Liberation Sans, Arial, sans-serif" >Opened</text>
<rect x="218.9" y="722.9" width="177.1" height="53.7" rx="6" fill="#ef4e45"/>
<path transform="translate(238.30 730.40) scale(1.560)" d="M13.5 5.5c1.1 0 2-.9 2-2s-.9-2-2-2-2 .9-2 2 .9 2 2 2zM9.8 8.9L7 23h2.1l1.8-8 2.1 2v6h2v-7.5l-2.1-2 .6-3C14.8 12 16.8 13 19 13v-2c-1.9 0-3.5-1-4.3-2.4l-1-1.6c-.4-.6-1-1-1.7-1-.3 0-.5.1-.8.1L6 8.3V13h2V9.6l1.8-.7" fill="#fff" stroke="#fff" stroke-width="0.5" stroke-linejoin="round"/>
<path d="M239.6,741.8 Q236.6,749.6 239.6,757.4" stroke="#fff" fill="none" stroke-linecap="round" stroke-linejoin="round" stroke-width="1.6"/>
<path d="M244.6,745.2 Q242.8,749.6 244.6,754.2" stroke="#fff" fill="none" stroke-linecap="round" stroke-linejoin="round" stroke-width="1.6"/>
<path d="M270.4,745.2 Q272.2,749.6 270.4,754.2" stroke="#fff" fill="none" stroke-linecap="round" stroke-linejoin="round" stroke-width="1.6"/>
<path d="M274.6,741.8 Q277.6,749.6 274.6,757.4" stroke="#fff" fill="none" stroke-linecap="round" stroke-linejoin="round" stroke-width="1.6"/>
<text x="291.6" y="757.0" font-size="22.6" fill="#fff" font-weight="400" textLength="76.6" lengthAdjust="spacingAndGlyphs" stroke="#fff" stroke-width="0.45" font-family="Liberation Sans, Arial, sans-serif" >Motion</text>
<rect x="924.5" y="234.9" width="196.8" height="66.5" rx="6" fill="#ef4e45"/>
<path transform="translate(942.70 247.15) scale(1.670)" d="M13.5 5.5c1.1 0 2-.9 2-2s-.9-2-2-2-2 .9-2 2 .9 2 2 2zM9.8 8.9L7 23h2.1l1.8-8 2.1 2v6h2v-7.5l-2.1-2 .6-3C14.8 12 16.8 13 19 13v-2c-1.9 0-3.5-1-4.3-2.4l-1-1.6c-.4-.6-1-1-1.7-1-.3 0-.5.1-.8.1L6 8.3V13h2V9.6l1.8-.7" fill="#fff" stroke="#fff" stroke-width="0.5" stroke-linejoin="round"/>
<path d="M942.8,258.2 V250.4 Q942.8,248.8 944.4,248.8 H953" stroke="#fff" fill="none" stroke-linecap="round" stroke-linejoin="round" stroke-width="1.6"/>
<path d="M973.6,287.2 H981.6 Q983.2,287.2 983.2,285.6 V277.4" stroke="#fff" fill="none" stroke-linecap="round" stroke-linejoin="round" stroke-width="1.6"/>
<text x="997.4" y="262.7" font-size="21.2" fill="#fff" font-weight="400" textLength="76.5" lengthAdjust="spacingAndGlyphs" stroke="#fff" stroke-width="0.45" font-family="Liberation Sans, Arial, sans-serif" >Person</text>
<text x="997.4" y="286.7" font-size="21.2" fill="#fff" font-weight="400" textLength="103.5" lengthAdjust="spacingAndGlyphs" stroke="#fff" stroke-width="0.45" font-family="Liberation Sans, Arial, sans-serif" >Detected</text></g>
<g id="pill"><rect x="542" y="70" width="371" height="113" rx="56.5" fill="#fff" filter="url(#pillshadow)"/>
<rect x="542" y="70" width="371" height="113" rx="56.5" fill="#fff"/>
<circle cx="597.8" cy="126.6" r="46.6" fill="#ef4e45"/>
<path d="M582,137.6 V125.2 A16.2,16.2 0 0 1 614.4,125.2 V137.6 H615.6 Q616.8,137.6 616.9,138.8 L617.7,149.6 Q617.7,151 616.4,151 H580.2 Q578.8,151 578.9,149.6 L579.6,138.8 Q579.7,137.6 580.9,137.6 Z" fill="#fff"/>
<path d="M589.6,123.4 Q590.8,117.4 597,115.6" fill="none" stroke="#ef4e45" stroke-width="1.3" stroke-linecap="round"/>
<ellipse cx="586.3" cy="103.6" rx="1" ry="2.9" fill="#fff" transform="rotate(-30 586.3 103.6)"/>
<ellipse cx="598.5" cy="101.1" rx="1" ry="2.9" fill="#fff"/>
<ellipse cx="610.4" cy="104" rx="1" ry="2.9" fill="#fff" transform="rotate(30 610.4 104)"/>
<text x="659.5" y="137.4" font-size="30.4" fill="#ef4e45" font-weight="400" textLength="206.5" lengthAdjust="spacingAndGlyphs" stroke="#ef4e45" stroke-width="1.00" font-family="Liberation Sans, Arial, sans-serif" >Intrusion alert</text></g>
<g id="legend"><circle cx="75.7" cy="69.7" r="28.5" fill="url(#legg)"/>
<line x1="53.3" y1="126.8" x2="100" y2="126.8" stroke="#1e88ff" stroke-width="2.6" stroke-linecap="round" stroke-dasharray="3.5 10.8"/>
<text x="123.5" y="78.9" font-size="28.5" fill="#6c6e77" font-weight="400" textLength="180.8" lengthAdjust="spacingAndGlyphs" font-family="Liberation Sans, Arial, sans-serif" >Sensing Area</text>
<text x="123.5" y="136.4" font-size="28.5" fill="#6c6e77" font-weight="400" textLength="245.2" lengthAdjust="spacingAndGlyphs" font-family="Liberation Sans, Arial, sans-serif" >Wi-Fi Sensing Link</text></g>
</svg></body></html>
